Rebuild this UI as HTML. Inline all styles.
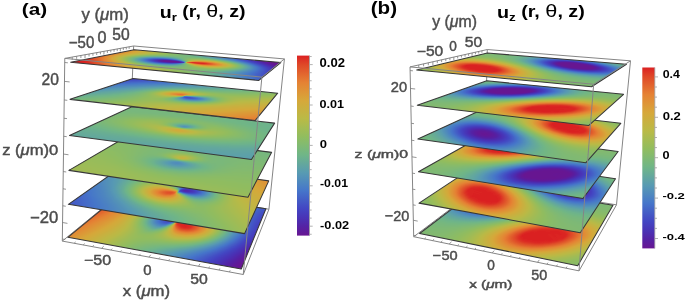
<!DOCTYPE html><html><head><meta charset="utf-8"><style>
html,body{margin:0;padding:0;background:#fff}
body{width:685px;height:302px;overflow:hidden;position:relative}
.o{position:absolute;left:0;top:0;overflow:visible}
.s{position:absolute;left:0;top:0;width:200px;height:100px;transform-origin:0 0}
.s svg{display:block}
.t{position:absolute;white-space:nowrap;font-family:"Liberation Sans",sans-serif}
</style></head><body>
<svg width="0" height="0" style="position:absolute"><defs><filter id="cm" filterUnits="userSpaceOnUse" x="0" y="-20" width="200" height="140" color-interpolation-filters="sRGB"><feGaussianBlur stdDeviation="0 2.40"/><feComponentTransfer><feFuncR type="table" tableValues="0.4078 0.3833 0.3588 0.3375 0.3204 0.3032 0.2885 0.2813 0.2742 0.2670 0.2635 0.2653 0.2672 0.2690 0.2708 0.2727 0.2745 0.2855 0.2966 0.3076 0.3186 0.3297 0.3407 0.3539 0.3686 0.3833 0.3980 0.4127 0.4275 0.4433 0.4635 0.4837 0.5039 0.5241 0.5444 0.5646 0.5887 0.6138 0.6390 0.6641 0.6892 0.7143 0.7363 0.7534 0.7706 0.7877 0.8049 0.8221 0.8392 0.8484 0.8576 0.8668 0.8760 0.8852 0.8944 0.8958 0.8922 0.8885 0.8848 0.8811 0.8775 0.8735 0.8686 0.8637 0.8588"/><feFuncG type="table" tableValues="0.0863 0.0985 0.1108 0.1274 0.1494 0.1715 0.1936 0.2161 0.2386 0.2610 0.2863 0.3157 0.3451 0.3745 0.4039 0.4333 0.4627 0.4854 0.5081 0.5308 0.5534 0.5761 0.5988 0.6178 0.6343 0.6509 0.6674 0.6839 0.7005 0.7146 0.7189 0.7232 0.7275 0.7317 0.7360 0.7403 0.7397 0.7379 0.7360 0.7342 0.7324 0.7305 0.7250 0.7140 0.7029 0.6919 0.6809 0.6699 0.6588 0.6355 0.6123 0.5890 0.5657 0.5424 0.5191 0.4885 0.4529 0.4174 0.3819 0.3463 0.3108 0.2728 0.2250 0.1772 0.1294"/><feFuncB type="table" tableValues="0.5725 0.5940 0.6154 0.6382 0.6627 0.6873 0.7096 0.7249 0.7402 0.7555 0.7664 0.7707 0.7750 0.7793 0.7836 0.7879 0.7922 0.7775 0.7627 0.7480 0.7333 0.7186 0.7039 0.6822 0.6559 0.6295 0.6032 0.5768 0.5505 0.5245 0.5000 0.4755 0.4510 0.4265 0.4020 0.3775 0.3603 0.3450 0.3297 0.3143 0.2990 0.2837 0.2716 0.2642 0.2569 0.2495 0.2422 0.2348 0.2275 0.2238 0.2201 0.2164 0.2127 0.2091 0.2054 0.1995 0.1922 0.1848 0.1775 0.1701 0.1627 0.1554 0.1480 0.1407 0.1333"/></feComponentTransfer></filter><linearGradient id="cbg" x1="0" y1="0" x2="0" y2="1"><stop offset="0.000" stop-color="#db2122"/><stop offset="0.050" stop-color="#df4828"/><stop offset="0.100" stop-color="#e2652e"/><stop offset="0.150" stop-color="#e58234"/><stop offset="0.200" stop-color="#de9537"/><stop offset="0.250" stop-color="#d6a83a"/><stop offset="0.300" stop-color="#c8b140"/><stop offset="0.350" stop-color="#baba46"/><stop offset="0.400" stop-color="#a5bc53"/><stop offset="0.450" stop-color="#91bd5f"/><stop offset="0.500" stop-color="#80ba73"/><stop offset="0.550" stop-color="#70b687"/><stop offset="0.600" stop-color="#64a89c"/><stop offset="0.650" stop-color="#589bb2"/><stop offset="0.700" stop-color="#4f89be"/><stop offset="0.750" stop-color="#4676ca"/><stop offset="0.800" stop-color="#445ec6"/><stop offset="0.850" stop-color="#4346c3"/><stop offset="0.900" stop-color="#4934b6"/><stop offset="0.950" stop-color="#5522a4"/><stop offset="1.000" stop-color="#681692"/></linearGradient><linearGradient id="a5_0"><stop offset="0" stop-color="#d1d1d1"/><stop offset="0.3" stop-color="#919191"/><stop offset="0.583" stop-color="#5a5a5a"/><stop offset="0.967" stop-color="#020202"/><stop offset="1" stop-color="#000000"/></linearGradient><linearGradient id="a5_1"><stop offset="0" stop-color="#d1d1d1"/><stop offset="0.3" stop-color="#919191"/><stop offset="0.583" stop-color="#5a5a5a"/><stop offset="0.967" stop-color="#020202"/><stop offset="1" stop-color="#000000"/></linearGradient><linearGradient id="a5_2"><stop offset="0" stop-color="#d1d1d1"/><stop offset="0.3" stop-color="#919191"/><stop offset="0.583" stop-color="#5a5a5a"/><stop offset="0.967" stop-color="#020202"/><stop offset="1" stop-color="#000000"/></linearGradient><linearGradient id="a5_3"><stop offset="0" stop-color="#d2d2d2"/><stop offset="0.242" stop-color="#9e9e9e"/><stop offset="0.558" stop-color="#626262"/><stop offset="0.642" stop-color="#505050"/><stop offset="0.958" stop-color="#050505"/><stop offset="0.983" stop-color="#000000"/><stop offset="1" stop-color="#000000"/></linearGradient><linearGradient id="a5_4"><stop offset="0" stop-color="#d4d4d4"/><stop offset="0.275" stop-color="#999999"/><stop offset="0.375" stop-color="#878787"/><stop offset="0.508" stop-color="#727272"/><stop offset="0.592" stop-color="#626262"/><stop offset="0.725" stop-color="#424242"/><stop offset="0.925" stop-color="#0f0f0f"/><stop offset="0.992" stop-color="#000000"/><stop offset="1" stop-color="#000000"/></linearGradient><linearGradient id="a5_5"><stop offset="0" stop-color="#d6d6d6"/><stop offset="0.283" stop-color="#999999"/><stop offset="0.383" stop-color="#898989"/><stop offset="0.492" stop-color="#7c7c7c"/><stop offset="0.592" stop-color="#6b6b6b"/><stop offset="0.683" stop-color="#555555"/><stop offset="0.867" stop-color="#212121"/><stop offset="1" stop-color="#010101"/></linearGradient><linearGradient id="a5_6"><stop offset="0" stop-color="#d8d8d8"/><stop offset="0.325" stop-color="#939393"/><stop offset="0.383" stop-color="#8c8c8c"/><stop offset="0.533" stop-color="#808080"/><stop offset="0.592" stop-color="#777777"/><stop offset="0.667" stop-color="#656565"/><stop offset="0.867" stop-color="#262626"/><stop offset="1" stop-color="#030303"/></linearGradient><linearGradient id="a5_7"><stop offset="0" stop-color="#dadada"/><stop offset="0.167" stop-color="#b7b7b7"/><stop offset="0.325" stop-color="#939393"/><stop offset="0.392" stop-color="#8d8d8d"/><stop offset="0.525" stop-color="#8c8c8c"/><stop offset="0.567" stop-color="#898989"/><stop offset="0.608" stop-color="#828282"/><stop offset="0.65" stop-color="#787878"/><stop offset="0.692" stop-color="#6b6b6b"/><stop offset="0.875" stop-color="#292929"/><stop offset="0.942" stop-color="#151515"/><stop offset="1" stop-color="#060606"/></linearGradient><linearGradient id="a5_8"><stop offset="0" stop-color="#dcdcdc"/><stop offset="0.175" stop-color="#b7b7b7"/><stop offset="0.35" stop-color="#8d8d8d"/><stop offset="0.4" stop-color="#8c8c8c"/><stop offset="0.433" stop-color="#8e8e8e"/><stop offset="0.508" stop-color="#979797"/><stop offset="0.542" stop-color="#999999"/><stop offset="0.575" stop-color="#989898"/><stop offset="0.608" stop-color="#939393"/><stop offset="0.65" stop-color="#898989"/><stop offset="0.683" stop-color="#7e7e7e"/><stop offset="0.842" stop-color="#3c3c3c"/><stop offset="0.917" stop-color="#212121"/><stop offset="1" stop-color="#090909"/></linearGradient><linearGradient id="a5_9"><stop offset="0" stop-color="#dedede"/><stop offset="0.133" stop-color="#c2c2c2"/><stop offset="0.267" stop-color="#a2a2a2"/><stop offset="0.367" stop-color="#858585"/><stop offset="0.375" stop-color="#848484"/><stop offset="0.417" stop-color="#888888"/><stop offset="0.542" stop-color="#a8a8a8"/><stop offset="0.567" stop-color="#ababab"/><stop offset="0.617" stop-color="#a5a5a5"/><stop offset="0.65" stop-color="#9c9c9c"/><stop offset="0.7" stop-color="#898989"/><stop offset="0.842" stop-color="#454545"/><stop offset="0.883" stop-color="#333333"/><stop offset="0.95" stop-color="#1b1b1b"/><stop offset="1" stop-color="#0c0c0c"/></linearGradient><linearGradient id="a5_10"><stop offset="0" stop-color="#e0e0e0"/><stop offset="0.192" stop-color="#b6b6b6"/><stop offset="0.258" stop-color="#a3a3a3"/><stop offset="0.35" stop-color="#838383"/><stop offset="0.392" stop-color="#777777"/><stop offset="0.417" stop-color="#7c7c7c"/><stop offset="0.45" stop-color="#898989"/><stop offset="0.508" stop-color="#a9a9a9"/><stop offset="0.533" stop-color="#b5b5b5"/><stop offset="0.55" stop-color="#bbbbbb"/><stop offset="0.567" stop-color="#bebebe"/><stop offset="0.583" stop-color="#bebebe"/><stop offset="0.617" stop-color="#bababa"/><stop offset="0.633" stop-color="#b6b6b6"/><stop offset="0.683" stop-color="#a3a3a3"/><stop offset="0.708" stop-color="#979797"/><stop offset="0.817" stop-color="#5b5b5b"/><stop offset="0.883" stop-color="#3a3a3a"/><stop offset="0.925" stop-color="#292929"/><stop offset="0.975" stop-color="#171717"/><stop offset="1" stop-color="#101010"/></linearGradient><linearGradient id="a5_11"><stop offset="0" stop-color="#e2e2e2"/><stop offset="0.0917" stop-color="#cfcfcf"/><stop offset="0.183" stop-color="#b9b9b9"/><stop offset="0.217" stop-color="#afafaf"/><stop offset="0.275" stop-color="#9a9a9a"/><stop offset="0.358" stop-color="#767676"/><stop offset="0.408" stop-color="#666666"/><stop offset="0.417" stop-color="#666666"/><stop offset="0.425" stop-color="#6a6a6a"/><stop offset="0.45" stop-color="#7b7b7b"/><stop offset="0.467" stop-color="#898989"/><stop offset="0.508" stop-color="#b1b1b1"/><stop offset="0.542" stop-color="#cccccc"/><stop offset="0.558" stop-color="#d1d1d1"/><stop offset="0.575" stop-color="#d3d3d3"/><stop offset="0.608" stop-color="#d1d1d1"/><stop offset="0.65" stop-color="#c5c5c5"/><stop offset="0.692" stop-color="#b1b1b1"/><stop offset="0.742" stop-color="#949494"/><stop offset="0.817" stop-color="#656565"/><stop offset="0.875" stop-color="#454545"/><stop offset="0.942" stop-color="#272727"/><stop offset="1" stop-color="#131313"/></linearGradient><linearGradient id="a5_12"><stop offset="0" stop-color="#e4e4e4"/><stop offset="0.0917" stop-color="#d1d1d1"/><stop offset="0.192" stop-color="#b7b7b7"/><stop offset="0.25" stop-color="#a1a1a1"/><stop offset="0.292" stop-color="#8d8d8d"/><stop offset="0.35" stop-color="#6d6d6d"/><stop offset="0.383" stop-color="#5e5e5e"/><stop offset="0.408" stop-color="#565656"/><stop offset="0.433" stop-color="#535353"/><stop offset="0.442" stop-color="#585858"/><stop offset="0.458" stop-color="#6c6c6c"/><stop offset="0.475" stop-color="#848484"/><stop offset="0.508" stop-color="#b9b9b9"/><stop offset="0.525" stop-color="#d1d1d1"/><stop offset="0.533" stop-color="#dbdbdb"/><stop offset="0.55" stop-color="#e3e3e3"/><stop offset="0.567" stop-color="#e8e8e8"/><stop offset="0.6" stop-color="#e8e8e8"/><stop offset="0.617" stop-color="#e4e4e4"/><stop offset="0.642" stop-color="#dbdbdb"/><stop offset="0.667" stop-color="#cfcfcf"/><stop offset="0.717" stop-color="#b1b1b1"/><stop offset="0.808" stop-color="#737373"/><stop offset="0.883" stop-color="#474747"/><stop offset="0.908" stop-color="#3a3a3a"/><stop offset="0.95" stop-color="#282828"/><stop offset="1" stop-color="#161616"/></linearGradient><linearGradient id="a5_13"><stop offset="0" stop-color="#e7e7e7"/><stop offset="0.125" stop-color="#cbcbcb"/><stop offset="0.175" stop-color="#bdbdbd"/><stop offset="0.217" stop-color="#aeaeae"/><stop offset="0.275" stop-color="#919191"/><stop offset="0.375" stop-color="#535353"/><stop offset="0.4" stop-color="#474747"/><stop offset="0.417" stop-color="#424242"/><stop offset="0.442" stop-color="#404040"/><stop offset="0.458" stop-color="#464646"/><stop offset="0.467" stop-color="#575757"/><stop offset="0.483" stop-color="#808080"/><stop offset="0.5" stop-color="#aeaeae"/><stop offset="0.517" stop-color="#d9d9d9"/><stop offset="0.525" stop-color="#e8e8e8"/><stop offset="0.542" stop-color="#f6f6f6"/><stop offset="0.55" stop-color="#fafafa"/><stop offset="0.558" stop-color="#fdfdfd"/><stop offset="0.575" stop-color="#ffffff"/><stop offset="0.583" stop-color="#fefefe"/><stop offset="0.608" stop-color="#f8f8f8"/><stop offset="0.658" stop-color="#e0e0e0"/><stop offset="0.708" stop-color="#c0c0c0"/><stop offset="0.817" stop-color="#747474"/><stop offset="0.875" stop-color="#505050"/><stop offset="0.917" stop-color="#3a3a3a"/><stop offset="0.958" stop-color="#282828"/><stop offset="1" stop-color="#191919"/></linearGradient><linearGradient id="a5_14"><stop offset="0" stop-color="#e9e9e9"/><stop offset="0.15" stop-color="#c6c6c6"/><stop offset="0.208" stop-color="#b2b2b2"/><stop offset="0.242" stop-color="#a2a2a2"/><stop offset="0.275" stop-color="#8f8f8f"/><stop offset="0.392" stop-color="#3f3f3f"/><stop offset="0.433" stop-color="#2d2d2d"/><stop offset="0.45" stop-color="#2b2b2b"/><stop offset="0.458" stop-color="#2c2c2c"/><stop offset="0.475" stop-color="#363636"/><stop offset="0.483" stop-color="#505050"/><stop offset="0.492" stop-color="#7e7e7e"/><stop offset="0.5" stop-color="#b0b0b0"/><stop offset="0.508" stop-color="#dfdfdf"/><stop offset="0.517" stop-color="#f9f9f9"/><stop offset="0.525" stop-color="#ffffff"/><stop offset="0.608" stop-color="#ffffff"/><stop offset="0.633" stop-color="#f2f2f2"/><stop offset="0.675" stop-color="#d9d9d9"/><stop offset="0.817" stop-color="#777777"/><stop offset="0.875" stop-color="#535353"/><stop offset="0.933" stop-color="#353535"/><stop offset="1" stop-color="#1b1b1b"/></linearGradient><linearGradient id="a5_15"><stop offset="0" stop-color="#ebebeb"/><stop offset="0.108" stop-color="#d3d3d3"/><stop offset="0.15" stop-color="#c8c8c8"/><stop offset="0.217" stop-color="#b0b0b0"/><stop offset="0.242" stop-color="#a4a4a4"/><stop offset="0.283" stop-color="#8b8b8b"/><stop offset="0.35" stop-color="#5c5c5c"/><stop offset="0.4" stop-color="#3c3c3c"/><stop offset="0.433" stop-color="#2c2c2c"/><stop offset="0.467" stop-color="#202020"/><stop offset="0.492" stop-color="#1a1a1a"/><stop offset="0.5" stop-color="#808080"/><stop offset="0.508" stop-color="#ffffff"/><stop offset="0.575" stop-color="#fefefe"/><stop offset="0.625" stop-color="#ebebeb"/><stop offset="0.683" stop-color="#cdcdcd"/><stop offset="0.733" stop-color="#aeaeae"/><stop offset="0.842" stop-color="#676767"/><stop offset="0.892" stop-color="#4b4b4b"/><stop offset="0.942" stop-color="#333333"/><stop offset="1" stop-color="#1d1d1d"/></linearGradient><linearGradient id="a5_16"><stop offset="0" stop-color="#ededed"/><stop offset="0.125" stop-color="#d1d1d1"/><stop offset="0.158" stop-color="#c8c8c8"/><stop offset="0.2" stop-color="#bababa"/><stop offset="0.233" stop-color="#acacac"/><stop offset="0.275" stop-color="#969696"/><stop offset="0.367" stop-color="#5e5e5e"/><stop offset="0.4" stop-color="#505050"/><stop offset="0.425" stop-color="#4b4b4b"/><stop offset="0.442" stop-color="#4d4d4d"/><stop offset="0.458" stop-color="#555555"/><stop offset="0.467" stop-color="#5d5d5d"/><stop offset="0.475" stop-color="#686868"/><stop offset="0.483" stop-color="#777777"/><stop offset="0.492" stop-color="#838383"/><stop offset="0.517" stop-color="#7e7e7e"/><stop offset="0.525" stop-color="#888888"/><stop offset="0.533" stop-color="#9c9c9c"/><stop offset="0.542" stop-color="#acacac"/><stop offset="0.558" stop-color="#c0c0c0"/><stop offset="0.567" stop-color="#c6c6c6"/><stop offset="0.575" stop-color="#cbcbcb"/><stop offset="0.592" stop-color="#d0d0d0"/><stop offset="0.608" stop-color="#d1d1d1"/><stop offset="0.633" stop-color="#cecece"/><stop offset="0.65" stop-color="#cacaca"/><stop offset="0.692" stop-color="#bababa"/><stop offset="0.742" stop-color="#a0a0a0"/><stop offset="0.842" stop-color="#656565"/><stop offset="0.875" stop-color="#535353"/><stop offset="0.925" stop-color="#3b3b3b"/><stop offset="0.958" stop-color="#2d2d2d"/><stop offset="1" stop-color="#1f1f1f"/></linearGradient><linearGradient id="a5_17"><stop offset="0" stop-color="#efefef"/><stop offset="0.0833" stop-color="#dddddd"/><stop offset="0.183" stop-color="#c3c3c3"/><stop offset="0.233" stop-color="#b1b1b1"/><stop offset="0.258" stop-color="#a6a6a6"/><stop offset="0.35" stop-color="#787878"/><stop offset="0.375" stop-color="#6f6f6f"/><stop offset="0.408" stop-color="#696969"/><stop offset="0.425" stop-color="#6a6a6a"/><stop offset="0.442" stop-color="#6f6f6f"/><stop offset="0.458" stop-color="#787878"/><stop offset="0.475" stop-color="#858585"/><stop offset="0.483" stop-color="#878787"/><stop offset="0.542" stop-color="#7b7b7b"/><stop offset="0.558" stop-color="#8d8d8d"/><stop offset="0.575" stop-color="#9c9c9c"/><stop offset="0.583" stop-color="#a2a2a2"/><stop offset="0.6" stop-color="#aaaaaa"/><stop offset="0.625" stop-color="#b0b0b0"/><stop offset="0.667" stop-color="#aeaeae"/><stop offset="0.7" stop-color="#a5a5a5"/><stop offset="0.742" stop-color="#949494"/><stop offset="0.9" stop-color="#454545"/><stop offset="0.933" stop-color="#373737"/><stop offset="1" stop-color="#202020"/></linearGradient><linearGradient id="a5_18"><stop offset="0" stop-color="#f1f1f1"/><stop offset="0.175" stop-color="#c9c9c9"/><stop offset="0.208" stop-color="#bfbfbf"/><stop offset="0.267" stop-color="#aaaaaa"/><stop offset="0.35" stop-color="#898989"/><stop offset="0.383" stop-color="#818181"/><stop offset="0.4" stop-color="#7f7f7f"/><stop offset="0.433" stop-color="#818181"/><stop offset="0.467" stop-color="#8c8c8c"/><stop offset="0.558" stop-color="#797979"/><stop offset="0.567" stop-color="#7a7a7a"/><stop offset="0.583" stop-color="#858585"/><stop offset="0.6" stop-color="#8d8d8d"/><stop offset="0.633" stop-color="#979797"/><stop offset="0.667" stop-color="#989898"/><stop offset="0.692" stop-color="#959595"/><stop offset="0.717" stop-color="#8f8f8f"/><stop offset="0.75" stop-color="#848484"/><stop offset="0.9" stop-color="#434343"/><stop offset="0.975" stop-color="#282828"/><stop offset="1" stop-color="#212121"/></linearGradient><linearGradient id="a5_19"><stop offset="0" stop-color="#f3f3f3"/><stop offset="0.183" stop-color="#cacaca"/><stop offset="0.233" stop-color="#bcbcbc"/><stop offset="0.342" stop-color="#999999"/><stop offset="0.383" stop-color="#909090"/><stop offset="0.433" stop-color="#8e8e8e"/><stop offset="0.458" stop-color="#919191"/><stop offset="0.583" stop-color="#767676"/><stop offset="0.608" stop-color="#7e7e7e"/><stop offset="0.633" stop-color="#848484"/><stop offset="0.65" stop-color="#868686"/><stop offset="0.692" stop-color="#858585"/><stop offset="0.725" stop-color="#7f7f7f"/><stop offset="0.767" stop-color="#737373"/><stop offset="0.917" stop-color="#3b3b3b"/><stop offset="1" stop-color="#212121"/></linearGradient><linearGradient id="a5_20"><stop offset="0" stop-color="#f5f5f5"/><stop offset="0.117" stop-color="#dcdcdc"/><stop offset="0.25" stop-color="#bcbcbc"/><stop offset="0.325" stop-color="#a7a7a7"/><stop offset="0.375" stop-color="#9c9c9c"/><stop offset="0.4" stop-color="#989898"/><stop offset="0.458" stop-color="#939393"/><stop offset="0.608" stop-color="#737373"/><stop offset="0.633" stop-color="#787878"/><stop offset="0.667" stop-color="#7a7a7a"/><stop offset="0.725" stop-color="#747474"/><stop offset="0.775" stop-color="#686868"/><stop offset="0.942" stop-color="#323232"/><stop offset="1" stop-color="#222222"/></linearGradient><linearGradient id="a5_21"><stop offset="0" stop-color="#f7f7f7"/><stop offset="0.15" stop-color="#d7d7d7"/><stop offset="0.358" stop-color="#a6a6a6"/><stop offset="0.433" stop-color="#9a9a9a"/><stop offset="0.625" stop-color="#717171"/><stop offset="0.683" stop-color="#717171"/><stop offset="0.742" stop-color="#696969"/><stop offset="0.8" stop-color="#5b5b5b"/><stop offset="0.892" stop-color="#404040"/><stop offset="1" stop-color="#232323"/></linearGradient><linearGradient id="a5_22"><stop offset="0" stop-color="#f9f9f9"/><stop offset="0.35" stop-color="#acacac"/><stop offset="0.425" stop-color="#9e9e9e"/><stop offset="0.642" stop-color="#6f6f6f"/><stop offset="0.675" stop-color="#6d6d6d"/><stop offset="0.725" stop-color="#676767"/><stop offset="0.767" stop-color="#5f5f5f"/><stop offset="1" stop-color="#242424"/></linearGradient><linearGradient id="a5_23"><stop offset="0" stop-color="#fbfbfb"/><stop offset="0.642" stop-color="#717171"/><stop offset="0.775" stop-color="#5b5b5b"/><stop offset="1" stop-color="#262626"/></linearGradient><linearGradient id="a5_24"><stop offset="0" stop-color="#fdfdfd"/><stop offset="0.675" stop-color="#6c6c6c"/><stop offset="0.8" stop-color="#555555"/><stop offset="1" stop-color="#272727"/></linearGradient><linearGradient id="a5_25"><stop offset="0" stop-color="#ffffff"/><stop offset="0.675" stop-color="#6e6e6e"/><stop offset="0.817" stop-color="#525252"/><stop offset="1" stop-color="#292929"/></linearGradient><linearGradient id="a5_26"><stop offset="0" stop-color="#ffffff"/><stop offset="0.00833" stop-color="#ffffff"/><stop offset="0.0583" stop-color="#f5f5f5"/><stop offset="1" stop-color="#2b2b2b"/></linearGradient><linearGradient id="a5_27"><stop offset="0" stop-color="#ffffff"/><stop offset="0.025" stop-color="#fefefe"/><stop offset="1" stop-color="#2d2d2d"/></linearGradient><linearGradient id="a5_28"><stop offset="0" stop-color="#ffffff"/><stop offset="0.025" stop-color="#ffffff"/><stop offset="1" stop-color="#2e2e2e"/></linearGradient><linearGradient id="a5_29"><stop offset="0" stop-color="#ffffff"/><stop offset="0.025" stop-color="#ffffff"/><stop offset="1" stop-color="#2e2e2e"/></linearGradient><linearGradient id="a5_30"><stop offset="0" stop-color="#ffffff"/><stop offset="0.025" stop-color="#ffffff"/><stop offset="1" stop-color="#2e2e2e"/></linearGradient><linearGradient id="a4_0"><stop offset="0" stop-color="#2e2e2e"/><stop offset="1" stop-color="#949494"/></linearGradient><linearGradient id="a4_1"><stop offset="0" stop-color="#2e2e2e"/><stop offset="1" stop-color="#949494"/></linearGradient><linearGradient id="a4_2"><stop offset="0" stop-color="#2e2e2e"/><stop offset="1" stop-color="#949494"/></linearGradient><linearGradient id="a4_3"><stop offset="0" stop-color="#2f2f2f"/><stop offset="0.483" stop-color="#626262"/><stop offset="1" stop-color="#959595"/></linearGradient><linearGradient id="a4_4"><stop offset="0" stop-color="#323232"/><stop offset="0.2" stop-color="#464646"/><stop offset="0.475" stop-color="#656565"/><stop offset="0.75" stop-color="#7e7e7e"/><stop offset="1" stop-color="#989898"/></linearGradient><linearGradient id="a4_5"><stop offset="0" stop-color="#343434"/><stop offset="0.183" stop-color="#474747"/><stop offset="0.442" stop-color="#676767"/><stop offset="0.742" stop-color="#808080"/><stop offset="1" stop-color="#9a9a9a"/></linearGradient><linearGradient id="a4_6"><stop offset="0" stop-color="#373737"/><stop offset="0.0667" stop-color="#3d3d3d"/><stop offset="0.25" stop-color="#535353"/><stop offset="0.367" stop-color="#656565"/><stop offset="0.467" stop-color="#717171"/><stop offset="0.767" stop-color="#858585"/><stop offset="1" stop-color="#9d9d9d"/></linearGradient><linearGradient id="a4_7"><stop offset="0" stop-color="#393939"/><stop offset="0.183" stop-color="#4e4e4e"/><stop offset="0.242" stop-color="#575757"/><stop offset="0.383" stop-color="#717171"/><stop offset="0.442" stop-color="#797979"/><stop offset="0.508" stop-color="#7e7e7e"/><stop offset="0.625" stop-color="#808080"/><stop offset="0.717" stop-color="#848484"/><stop offset="1" stop-color="#9f9f9f"/></linearGradient><linearGradient id="a4_8"><stop offset="0" stop-color="#3c3c3c"/><stop offset="0.175" stop-color="#515151"/><stop offset="0.267" stop-color="#636363"/><stop offset="0.358" stop-color="#797979"/><stop offset="0.442" stop-color="#878787"/><stop offset="0.492" stop-color="#8a8a8a"/><stop offset="0.625" stop-color="#868686"/><stop offset="0.742" stop-color="#888888"/><stop offset="1" stop-color="#a1a1a1"/></linearGradient><linearGradient id="a4_9"><stop offset="0" stop-color="#3e3e3e"/><stop offset="0.117" stop-color="#4c4c4c"/><stop offset="0.175" stop-color="#565656"/><stop offset="0.25" stop-color="#686868"/><stop offset="0.35" stop-color="#868686"/><stop offset="0.4" stop-color="#929292"/><stop offset="0.45" stop-color="#999999"/><stop offset="0.517" stop-color="#989898"/><stop offset="0.608" stop-color="#8d8d8d"/><stop offset="0.683" stop-color="#888888"/><stop offset="0.717" stop-color="#888888"/><stop offset="1" stop-color="#a4a4a4"/></linearGradient><linearGradient id="a4_10"><stop offset="0" stop-color="#414141"/><stop offset="0.1" stop-color="#4d4d4d"/><stop offset="0.15" stop-color="#565656"/><stop offset="0.2" stop-color="#626262"/><stop offset="0.233" stop-color="#6c6c6c"/><stop offset="0.367" stop-color="#9d9d9d"/><stop offset="0.4" stop-color="#a6a6a6"/><stop offset="0.442" stop-color="#acacac"/><stop offset="0.475" stop-color="#acacac"/><stop offset="0.508" stop-color="#a8a8a8"/><stop offset="0.592" stop-color="#959595"/><stop offset="0.675" stop-color="#878787"/><stop offset="0.725" stop-color="#898989"/><stop offset="0.825" stop-color="#959595"/><stop offset="1" stop-color="#a6a6a6"/></linearGradient><linearGradient id="a4_11"><stop offset="0" stop-color="#434343"/><stop offset="0.0917" stop-color="#4f4f4f"/><stop offset="0.167" stop-color="#5f5f5f"/><stop offset="0.233" stop-color="#757575"/><stop offset="0.367" stop-color="#b0b0b0"/><stop offset="0.4" stop-color="#bbbbbb"/><stop offset="0.425" stop-color="#c0c0c0"/><stop offset="0.458" stop-color="#c1c1c1"/><stop offset="0.5" stop-color="#b9b9b9"/><stop offset="0.575" stop-color="#9d9d9d"/><stop offset="0.617" stop-color="#909090"/><stop offset="0.625" stop-color="#8b8b8b"/><stop offset="0.642" stop-color="#858585"/><stop offset="0.667" stop-color="#838383"/><stop offset="0.692" stop-color="#848484"/><stop offset="0.8" stop-color="#939393"/><stop offset="1" stop-color="#a9a9a9"/></linearGradient><linearGradient id="a4_12"><stop offset="0" stop-color="#464646"/><stop offset="0.0833" stop-color="#515151"/><stop offset="0.125" stop-color="#595959"/><stop offset="0.167" stop-color="#646464"/><stop offset="0.233" stop-color="#7d7d7d"/><stop offset="0.375" stop-color="#c5c5c5"/><stop offset="0.408" stop-color="#d1d1d1"/><stop offset="0.442" stop-color="#d6d6d6"/><stop offset="0.458" stop-color="#d5d5d5"/><stop offset="0.492" stop-color="#cbcbcb"/><stop offset="0.567" stop-color="#9f9f9f"/><stop offset="0.583" stop-color="#979797"/><stop offset="0.608" stop-color="#828282"/><stop offset="0.625" stop-color="#7d7d7d"/><stop offset="0.642" stop-color="#7b7b7b"/><stop offset="0.683" stop-color="#7c7c7c"/><stop offset="0.842" stop-color="#9a9a9a"/><stop offset="1" stop-color="#ababab"/></linearGradient><linearGradient id="a4_13"><stop offset="0" stop-color="#484848"/><stop offset="0.1" stop-color="#575757"/><stop offset="0.175" stop-color="#6b6b6b"/><stop offset="0.208" stop-color="#787878"/><stop offset="0.258" stop-color="#909090"/><stop offset="0.35" stop-color="#c4c4c4"/><stop offset="0.4" stop-color="#dddddd"/><stop offset="0.417" stop-color="#e3e3e3"/><stop offset="0.45" stop-color="#e9e9e9"/><stop offset="0.475" stop-color="#e3e3e3"/><stop offset="0.5" stop-color="#d1d1d1"/><stop offset="0.558" stop-color="#969696"/><stop offset="0.567" stop-color="#888888"/><stop offset="0.575" stop-color="#7d7d7d"/><stop offset="0.592" stop-color="#737373"/><stop offset="0.608" stop-color="#6d6d6d"/><stop offset="0.633" stop-color="#6a6a6a"/><stop offset="0.675" stop-color="#6f6f6f"/><stop offset="0.7" stop-color="#757575"/><stop offset="0.767" stop-color="#8a8a8a"/><stop offset="0.825" stop-color="#989898"/><stop offset="0.858" stop-color="#9e9e9e"/><stop offset="1" stop-color="#aeaeae"/></linearGradient><linearGradient id="a4_14"><stop offset="0" stop-color="#4b4b4b"/><stop offset="0.0917" stop-color="#585858"/><stop offset="0.15" stop-color="#666666"/><stop offset="0.183" stop-color="#717171"/><stop offset="0.208" stop-color="#7b7b7b"/><stop offset="0.267" stop-color="#979797"/><stop offset="0.383" stop-color="#d8d8d8"/><stop offset="0.425" stop-color="#ececec"/><stop offset="0.442" stop-color="#f3f3f3"/><stop offset="0.467" stop-color="#f8f8f8"/><stop offset="0.475" stop-color="#f6f6f6"/><stop offset="0.483" stop-color="#f1f1f1"/><stop offset="0.492" stop-color="#e7e7e7"/><stop offset="0.5" stop-color="#d8d8d8"/><stop offset="0.525" stop-color="#a2a2a2"/><stop offset="0.533" stop-color="#878787"/><stop offset="0.542" stop-color="#747474"/><stop offset="0.558" stop-color="#606060"/><stop offset="0.567" stop-color="#5a5a5a"/><stop offset="0.575" stop-color="#555555"/><stop offset="0.592" stop-color="#505050"/><stop offset="0.625" stop-color="#505050"/><stop offset="0.658" stop-color="#595959"/><stop offset="0.767" stop-color="#878787"/><stop offset="0.8" stop-color="#929292"/><stop offset="0.85" stop-color="#9e9e9e"/><stop offset="1" stop-color="#b0b0b0"/></linearGradient><linearGradient id="a4_15"><stop offset="0" stop-color="#4d4d4d"/><stop offset="0.1" stop-color="#5c5c5c"/><stop offset="0.167" stop-color="#6d6d6d"/><stop offset="0.242" stop-color="#8a8a8a"/><stop offset="0.358" stop-color="#c1c1c1"/><stop offset="0.408" stop-color="#d3d3d3"/><stop offset="0.458" stop-color="#dfdfdf"/><stop offset="0.492" stop-color="#e3e3e3"/><stop offset="0.5" stop-color="#8f8f8f"/><stop offset="0.508" stop-color="#171717"/><stop offset="0.517" stop-color="#171717"/><stop offset="0.567" stop-color="#212121"/><stop offset="0.608" stop-color="#303030"/><stop offset="0.65" stop-color="#454545"/><stop offset="0.742" stop-color="#7a7a7a"/><stop offset="0.775" stop-color="#898989"/><stop offset="0.808" stop-color="#959595"/><stop offset="0.842" stop-color="#9e9e9e"/><stop offset="0.892" stop-color="#a7a7a7"/><stop offset="1" stop-color="#b3b3b3"/></linearGradient><linearGradient id="a4_16"><stop offset="0" stop-color="#505050"/><stop offset="0.0583" stop-color="#575757"/><stop offset="0.125" stop-color="#636363"/><stop offset="0.192" stop-color="#757575"/><stop offset="0.342" stop-color="#ababab"/><stop offset="0.383" stop-color="#b2b2b2"/><stop offset="0.408" stop-color="#b1b1b1"/><stop offset="0.425" stop-color="#adadad"/><stop offset="0.442" stop-color="#a4a4a4"/><stop offset="0.458" stop-color="#949494"/><stop offset="0.475" stop-color="#878787"/><stop offset="0.483" stop-color="#707070"/><stop offset="0.5" stop-color="#3d3d3d"/><stop offset="0.508" stop-color="#272727"/><stop offset="0.517" stop-color="#181818"/><stop offset="0.525" stop-color="#0e0e0e"/><stop offset="0.533" stop-color="#090909"/><stop offset="0.542" stop-color="#070707"/><stop offset="0.558" stop-color="#0a0a0a"/><stop offset="0.592" stop-color="#191919"/><stop offset="0.625" stop-color="#2d2d2d"/><stop offset="0.708" stop-color="#666666"/><stop offset="0.742" stop-color="#7a7a7a"/><stop offset="0.783" stop-color="#8e8e8e"/><stop offset="0.808" stop-color="#979797"/><stop offset="0.85" stop-color="#a2a2a2"/><stop offset="0.883" stop-color="#a8a8a8"/><stop offset="1" stop-color="#b5b5b5"/></linearGradient><linearGradient id="a4_17"><stop offset="0" stop-color="#525252"/><stop offset="0.0583" stop-color="#595959"/><stop offset="0.125" stop-color="#646464"/><stop offset="0.2" stop-color="#767676"/><stop offset="0.267" stop-color="#8a8a8a"/><stop offset="0.317" stop-color="#969696"/><stop offset="0.342" stop-color="#9a9a9a"/><stop offset="0.367" stop-color="#9b9b9b"/><stop offset="0.4" stop-color="#969696"/><stop offset="0.417" stop-color="#909090"/><stop offset="0.425" stop-color="#8b8b8b"/><stop offset="0.433" stop-color="#8a8a8a"/><stop offset="0.442" stop-color="#8c8c8c"/><stop offset="0.45" stop-color="#868686"/><stop offset="0.467" stop-color="#727272"/><stop offset="0.492" stop-color="#4f4f4f"/><stop offset="0.508" stop-color="#393939"/><stop offset="0.517" stop-color="#303030"/><stop offset="0.533" stop-color="#232323"/><stop offset="0.55" stop-color="#1d1d1d"/><stop offset="0.558" stop-color="#1c1c1c"/><stop offset="0.583" stop-color="#202020"/><stop offset="0.617" stop-color="#2f2f2f"/><stop offset="0.733" stop-color="#7a7a7a"/><stop offset="0.758" stop-color="#878787"/><stop offset="0.792" stop-color="#959595"/><stop offset="0.817" stop-color="#9d9d9d"/><stop offset="0.867" stop-color="#a8a8a8"/><stop offset="1" stop-color="#b8b8b8"/></linearGradient><linearGradient id="a4_18"><stop offset="0" stop-color="#545454"/><stop offset="0.125" stop-color="#656565"/><stop offset="0.3" stop-color="#898989"/><stop offset="0.333" stop-color="#8c8c8c"/><stop offset="0.35" stop-color="#8c8c8c"/><stop offset="0.392" stop-color="#868686"/><stop offset="0.417" stop-color="#898989"/><stop offset="0.442" stop-color="#7b7b7b"/><stop offset="0.492" stop-color="#545454"/><stop offset="0.517" stop-color="#434343"/><stop offset="0.533" stop-color="#3b3b3b"/><stop offset="0.55" stop-color="#373737"/><stop offset="0.575" stop-color="#363636"/><stop offset="0.592" stop-color="#393939"/><stop offset="0.617" stop-color="#424242"/><stop offset="0.65" stop-color="#535353"/><stop offset="0.725" stop-color="#7e7e7e"/><stop offset="0.75" stop-color="#8a8a8a"/><stop offset="0.792" stop-color="#9a9a9a"/><stop offset="0.833" stop-color="#a5a5a5"/><stop offset="0.867" stop-color="#ababab"/><stop offset="1" stop-color="#bababa"/></linearGradient><linearGradient id="a4_19"><stop offset="0" stop-color="#575757"/><stop offset="0.125" stop-color="#666666"/><stop offset="0.267" stop-color="#7e7e7e"/><stop offset="0.325" stop-color="#838383"/><stop offset="0.358" stop-color="#828282"/><stop offset="0.383" stop-color="#868686"/><stop offset="0.408" stop-color="#828282"/><stop offset="0.433" stop-color="#797979"/><stop offset="0.492" stop-color="#5f5f5f"/><stop offset="0.517" stop-color="#565656"/><stop offset="0.533" stop-color="#525252"/><stop offset="0.567" stop-color="#4f4f4f"/><stop offset="0.583" stop-color="#515151"/><stop offset="0.608" stop-color="#575757"/><stop offset="0.642" stop-color="#636363"/><stop offset="0.725" stop-color="#898989"/><stop offset="0.775" stop-color="#9b9b9b"/><stop offset="0.825" stop-color="#a7a7a7"/><stop offset="0.858" stop-color="#adadad"/><stop offset="1" stop-color="#bcbcbc"/></linearGradient><linearGradient id="a4_20"><stop offset="0" stop-color="#595959"/><stop offset="0.108" stop-color="#656565"/><stop offset="0.267" stop-color="#7b7b7b"/><stop offset="0.317" stop-color="#7e7e7e"/><stop offset="0.358" stop-color="#838383"/><stop offset="0.375" stop-color="#838383"/><stop offset="0.417" stop-color="#7e7e7e"/><stop offset="0.508" stop-color="#6a6a6a"/><stop offset="0.533" stop-color="#676767"/><stop offset="0.567" stop-color="#676767"/><stop offset="0.617" stop-color="#707070"/><stop offset="0.725" stop-color="#949494"/><stop offset="0.8" stop-color="#a7a7a7"/><stop offset="0.85" stop-color="#afafaf"/><stop offset="1" stop-color="#bfbfbf"/></linearGradient><linearGradient id="a4_21"><stop offset="0" stop-color="#5b5b5b"/><stop offset="0.267" stop-color="#7a7a7a"/><stop offset="0.35" stop-color="#828282"/><stop offset="0.4" stop-color="#828282"/><stop offset="0.517" stop-color="#797979"/><stop offset="0.558" stop-color="#7a7a7a"/><stop offset="0.608" stop-color="#818181"/><stop offset="0.742" stop-color="#a1a1a1"/><stop offset="0.792" stop-color="#aaaaaa"/><stop offset="0.867" stop-color="#b4b4b4"/><stop offset="1" stop-color="#c1c1c1"/></linearGradient><linearGradient id="a4_22"><stop offset="0" stop-color="#5e5e5e"/><stop offset="0.333" stop-color="#828282"/><stop offset="0.392" stop-color="#858585"/><stop offset="0.517" stop-color="#868686"/><stop offset="0.558" stop-color="#898989"/><stop offset="0.6" stop-color="#8e8e8e"/><stop offset="0.742" stop-color="#a7a7a7"/><stop offset="0.792" stop-color="#aeaeae"/><stop offset="1" stop-color="#c4c4c4"/></linearGradient><linearGradient id="a4_23"><stop offset="0" stop-color="#606060"/><stop offset="0.317" stop-color="#828282"/><stop offset="0.558" stop-color="#939393"/><stop offset="0.808" stop-color="#b3b3b3"/><stop offset="1" stop-color="#c6c6c6"/></linearGradient><linearGradient id="a4_24"><stop offset="0" stop-color="#636363"/><stop offset="0.325" stop-color="#858585"/><stop offset="0.575" stop-color="#9b9b9b"/><stop offset="0.7" stop-color="#aaaaaa"/><stop offset="1" stop-color="#c9c9c9"/></linearGradient><linearGradient id="a4_25"><stop offset="0" stop-color="#656565"/><stop offset="1" stop-color="#cbcbcb"/></linearGradient><linearGradient id="a4_26"><stop offset="0" stop-color="#676767"/><stop offset="0.35" stop-color="#8c8c8c"/><stop offset="1" stop-color="#cdcdcd"/></linearGradient><linearGradient id="a4_27"><stop offset="0" stop-color="#6a6a6a"/><stop offset="1" stop-color="#d0d0d0"/></linearGradient><linearGradient id="a4_28"><stop offset="0" stop-color="#6b6b6b"/><stop offset="1" stop-color="#d1d1d1"/></linearGradient><linearGradient id="a4_29"><stop offset="0" stop-color="#6b6b6b"/><stop offset="1" stop-color="#d1d1d1"/></linearGradient><linearGradient id="a4_30"><stop offset="0" stop-color="#6b6b6b"/><stop offset="1" stop-color="#d1d1d1"/></linearGradient><linearGradient id="a3_0"><stop offset="0" stop-color="#989898"/><stop offset="1" stop-color="#909090"/></linearGradient><linearGradient id="a3_1"><stop offset="0" stop-color="#989898"/><stop offset="1" stop-color="#909090"/></linearGradient><linearGradient id="a3_2"><stop offset="0" stop-color="#989898"/><stop offset="1" stop-color="#909090"/></linearGradient><linearGradient id="a3_3"><stop offset="0" stop-color="#979797"/><stop offset="0.533" stop-color="#929292"/><stop offset="1" stop-color="#909090"/></linearGradient><linearGradient id="a3_4"><stop offset="0" stop-color="#969696"/><stop offset="0.467" stop-color="#919191"/><stop offset="1" stop-color="#8f8f8f"/></linearGradient><linearGradient id="a3_5"><stop offset="0" stop-color="#959595"/><stop offset="0.25" stop-color="#939393"/><stop offset="0.467" stop-color="#8f8f8f"/><stop offset="0.817" stop-color="#8f8f8f"/><stop offset="1" stop-color="#8d8d8d"/></linearGradient><linearGradient id="a3_6"><stop offset="0" stop-color="#949494"/><stop offset="0.217" stop-color="#929292"/><stop offset="0.483" stop-color="#8c8c8c"/><stop offset="1" stop-color="#8c8c8c"/></linearGradient><linearGradient id="a3_7"><stop offset="0" stop-color="#939393"/><stop offset="0.192" stop-color="#919191"/><stop offset="0.475" stop-color="#888888"/><stop offset="0.575" stop-color="#888888"/><stop offset="0.767" stop-color="#8c8c8c"/><stop offset="1" stop-color="#8b8b8b"/></linearGradient><linearGradient id="a3_8"><stop offset="0" stop-color="#929292"/><stop offset="0.208" stop-color="#8f8f8f"/><stop offset="0.475" stop-color="#828282"/><stop offset="0.55" stop-color="#828282"/><stop offset="0.767" stop-color="#8a8a8a"/><stop offset="1" stop-color="#8a8a8a"/></linearGradient><linearGradient id="a3_9"><stop offset="0" stop-color="#919191"/><stop offset="0.1" stop-color="#909090"/><stop offset="0.25" stop-color="#8b8b8b"/><stop offset="0.467" stop-color="#7a7a7a"/><stop offset="0.567" stop-color="#7b7b7b"/><stop offset="0.658" stop-color="#828282"/><stop offset="0.775" stop-color="#888888"/><stop offset="1" stop-color="#898989"/></linearGradient><linearGradient id="a3_10"><stop offset="0" stop-color="#909090"/><stop offset="0.125" stop-color="#8e8e8e"/><stop offset="0.225" stop-color="#8a8a8a"/><stop offset="0.308" stop-color="#838383"/><stop offset="0.45" stop-color="#717171"/><stop offset="0.483" stop-color="#6f6f6f"/><stop offset="0.558" stop-color="#717171"/><stop offset="0.692" stop-color="#808080"/><stop offset="0.758" stop-color="#858585"/><stop offset="0.85" stop-color="#888888"/><stop offset="1" stop-color="#888888"/></linearGradient><linearGradient id="a3_11"><stop offset="0" stop-color="#8f8f8f"/><stop offset="0.142" stop-color="#8c8c8c"/><stop offset="0.242" stop-color="#868686"/><stop offset="0.325" stop-color="#7c7c7c"/><stop offset="0.425" stop-color="#6a6a6a"/><stop offset="0.492" stop-color="#636363"/><stop offset="0.533" stop-color="#646464"/><stop offset="0.583" stop-color="#6a6a6a"/><stop offset="0.667" stop-color="#787878"/><stop offset="0.758" stop-color="#828282"/><stop offset="0.833" stop-color="#868686"/><stop offset="1" stop-color="#878787"/></linearGradient><linearGradient id="a3_12"><stop offset="0" stop-color="#8e8e8e"/><stop offset="0.133" stop-color="#8b8b8b"/><stop offset="0.217" stop-color="#868686"/><stop offset="0.3" stop-color="#7c7c7c"/><stop offset="0.358" stop-color="#717171"/><stop offset="0.433" stop-color="#606060"/><stop offset="0.467" stop-color="#5a5a5a"/><stop offset="0.492" stop-color="#585858"/><stop offset="0.517" stop-color="#585858"/><stop offset="0.55" stop-color="#5c5c5c"/><stop offset="0.675" stop-color="#757575"/><stop offset="0.75" stop-color="#7f7f7f"/><stop offset="0.858" stop-color="#858585"/><stop offset="1" stop-color="#868686"/></linearGradient><linearGradient id="a3_13"><stop offset="0" stop-color="#8d8d8d"/><stop offset="0.167" stop-color="#888888"/><stop offset="0.267" stop-color="#7f7f7f"/><stop offset="0.367" stop-color="#6d6d6d"/><stop offset="0.467" stop-color="#535353"/><stop offset="0.5" stop-color="#4f4f4f"/><stop offset="0.542" stop-color="#545454"/><stop offset="0.658" stop-color="#707070"/><stop offset="0.758" stop-color="#7e7e7e"/><stop offset="0.867" stop-color="#848484"/><stop offset="1" stop-color="#858585"/></linearGradient><linearGradient id="a3_14"><stop offset="0" stop-color="#8c8c8c"/><stop offset="0.142" stop-color="#888888"/><stop offset="0.208" stop-color="#848484"/><stop offset="0.3" stop-color="#7a7a7a"/><stop offset="0.383" stop-color="#6c6c6c"/><stop offset="0.425" stop-color="#626262"/><stop offset="0.483" stop-color="#4d4d4d"/><stop offset="0.5" stop-color="#4a4a4a"/><stop offset="0.508" stop-color="#4a4a4a"/><stop offset="0.558" stop-color="#5c5c5c"/><stop offset="0.592" stop-color="#656565"/><stop offset="0.65" stop-color="#707070"/><stop offset="0.717" stop-color="#797979"/><stop offset="0.783" stop-color="#7f7f7f"/><stop offset="0.842" stop-color="#828282"/><stop offset="1" stop-color="#848484"/></linearGradient><linearGradient id="a3_15"><stop offset="0" stop-color="#8b8b8b"/><stop offset="0.0917" stop-color="#898989"/><stop offset="0.225" stop-color="#828282"/><stop offset="0.375" stop-color="#747474"/><stop offset="0.467" stop-color="#6e6e6e"/><stop offset="0.575" stop-color="#6f6f6f"/><stop offset="0.733" stop-color="#7b7b7b"/><stop offset="0.842" stop-color="#818181"/><stop offset="1" stop-color="#838383"/></linearGradient><linearGradient id="a3_16"><stop offset="0" stop-color="#898989"/><stop offset="0.142" stop-color="#868686"/><stop offset="0.292" stop-color="#7d7d7d"/><stop offset="0.358" stop-color="#7e7e7e"/><stop offset="0.392" stop-color="#838383"/><stop offset="0.425" stop-color="#8d8d8d"/><stop offset="0.458" stop-color="#9f9f9f"/><stop offset="0.475" stop-color="#acacac"/><stop offset="0.492" stop-color="#b6b6b6"/><stop offset="0.5" stop-color="#b7b7b7"/><stop offset="0.508" stop-color="#b6b6b6"/><stop offset="0.55" stop-color="#999999"/><stop offset="0.575" stop-color="#8c8c8c"/><stop offset="0.592" stop-color="#868686"/><stop offset="0.625" stop-color="#7e7e7e"/><stop offset="0.65" stop-color="#7b7b7b"/><stop offset="0.717" stop-color="#7a7a7a"/><stop offset="0.875" stop-color="#818181"/><stop offset="1" stop-color="#828282"/></linearGradient><linearGradient id="a3_17"><stop offset="0" stop-color="#898989"/><stop offset="0.125" stop-color="#868686"/><stop offset="0.275" stop-color="#7e7e7e"/><stop offset="0.317" stop-color="#7e7e7e"/><stop offset="0.35" stop-color="#818181"/><stop offset="0.383" stop-color="#888888"/><stop offset="0.425" stop-color="#969696"/><stop offset="0.467" stop-color="#a8a8a8"/><stop offset="0.492" stop-color="#aeaeae"/><stop offset="0.508" stop-color="#aeaeae"/><stop offset="0.542" stop-color="#a4a4a4"/><stop offset="0.575" stop-color="#959595"/><stop offset="0.617" stop-color="#868686"/><stop offset="0.65" stop-color="#7f7f7f"/><stop offset="0.675" stop-color="#7c7c7c"/><stop offset="0.75" stop-color="#7b7b7b"/><stop offset="0.867" stop-color="#808080"/><stop offset="1" stop-color="#818181"/></linearGradient><linearGradient id="a3_18"><stop offset="0" stop-color="#888888"/><stop offset="0.133" stop-color="#858585"/><stop offset="0.275" stop-color="#7e7e7e"/><stop offset="0.317" stop-color="#7e7e7e"/><stop offset="0.367" stop-color="#838383"/><stop offset="0.392" stop-color="#888888"/><stop offset="0.467" stop-color="#9c9c9c"/><stop offset="0.508" stop-color="#9f9f9f"/><stop offset="0.525" stop-color="#9d9d9d"/><stop offset="0.55" stop-color="#979797"/><stop offset="0.633" stop-color="#818181"/><stop offset="0.675" stop-color="#7c7c7c"/><stop offset="0.75" stop-color="#7b7b7b"/><stop offset="0.85" stop-color="#7f7f7f"/><stop offset="1" stop-color="#808080"/></linearGradient><linearGradient id="a3_19"><stop offset="0" stop-color="#878787"/><stop offset="0.142" stop-color="#848484"/><stop offset="0.317" stop-color="#7d7d7d"/><stop offset="0.358" stop-color="#7f7f7f"/><stop offset="0.467" stop-color="#8d8d8d"/><stop offset="0.517" stop-color="#8e8e8e"/><stop offset="0.6" stop-color="#828282"/><stop offset="0.667" stop-color="#7b7b7b"/><stop offset="0.708" stop-color="#7a7a7a"/><stop offset="0.883" stop-color="#7f7f7f"/><stop offset="1" stop-color="#7f7f7f"/></linearGradient><linearGradient id="a3_20"><stop offset="0" stop-color="#868686"/><stop offset="0.125" stop-color="#848484"/><stop offset="0.3" stop-color="#7d7d7d"/><stop offset="0.383" stop-color="#7d7d7d"/><stop offset="0.475" stop-color="#828282"/><stop offset="0.517" stop-color="#828282"/><stop offset="0.65" stop-color="#7a7a7a"/><stop offset="0.858" stop-color="#7e7e7e"/><stop offset="1" stop-color="#7e7e7e"/></linearGradient><linearGradient id="a3_21"><stop offset="0" stop-color="#858585"/><stop offset="0.175" stop-color="#828282"/><stop offset="0.333" stop-color="#7c7c7c"/><stop offset="0.517" stop-color="#7c7c7c"/><stop offset="0.575" stop-color="#7a7a7a"/><stop offset="0.7" stop-color="#7a7a7a"/><stop offset="0.817" stop-color="#7d7d7d"/><stop offset="1" stop-color="#7d7d7d"/></linearGradient><linearGradient id="a3_22"><stop offset="0" stop-color="#848484"/><stop offset="0.158" stop-color="#828282"/><stop offset="0.458" stop-color="#7a7a7a"/><stop offset="1" stop-color="#7c7c7c"/></linearGradient><linearGradient id="a3_23"><stop offset="0" stop-color="#838383"/><stop offset="0.175" stop-color="#818181"/><stop offset="0.483" stop-color="#7a7a7a"/><stop offset="0.8" stop-color="#7c7c7c"/><stop offset="1" stop-color="#7b7b7b"/></linearGradient><linearGradient id="a3_24"><stop offset="0" stop-color="#828282"/><stop offset="0.442" stop-color="#7b7b7b"/><stop offset="1" stop-color="#7a7a7a"/></linearGradient><linearGradient id="a3_25"><stop offset="0" stop-color="#818181"/><stop offset="0.45" stop-color="#7b7b7b"/><stop offset="1" stop-color="#797979"/></linearGradient><linearGradient id="a3_26"><stop offset="0" stop-color="#808080"/><stop offset="0.542" stop-color="#7a7a7a"/><stop offset="1" stop-color="#787878"/></linearGradient><linearGradient id="a3_27"><stop offset="0" stop-color="#7f7f7f"/><stop offset="0.475" stop-color="#7a7a7a"/><stop offset="1" stop-color="#777777"/></linearGradient><linearGradient id="a3_28"><stop offset="0" stop-color="#7e7e7e"/><stop offset="1" stop-color="#777777"/></linearGradient><linearGradient id="a3_29"><stop offset="0" stop-color="#7e7e7e"/><stop offset="1" stop-color="#777777"/></linearGradient><linearGradient id="a3_30"><stop offset="0" stop-color="#7e7e7e"/><stop offset="1" stop-color="#777777"/></linearGradient><linearGradient id="a2_0"><stop offset="0" stop-color="#666666"/><stop offset="0.442" stop-color="#636363"/><stop offset="1" stop-color="#5c5c5c"/></linearGradient><linearGradient id="a2_1"><stop offset="0" stop-color="#666666"/><stop offset="0.442" stop-color="#636363"/><stop offset="1" stop-color="#5c5c5c"/></linearGradient><linearGradient id="a2_2"><stop offset="0" stop-color="#666666"/><stop offset="0.442" stop-color="#636363"/><stop offset="1" stop-color="#5c5c5c"/></linearGradient><linearGradient id="a2_3"><stop offset="0" stop-color="#676767"/><stop offset="1" stop-color="#5d5d5d"/></linearGradient><linearGradient id="a2_4"><stop offset="0" stop-color="#686868"/><stop offset="0.508" stop-color="#656565"/><stop offset="1" stop-color="#5e5e5e"/></linearGradient><linearGradient id="a2_5"><stop offset="0" stop-color="#696969"/><stop offset="0.475" stop-color="#686868"/><stop offset="1" stop-color="#5f5f5f"/></linearGradient><linearGradient id="a2_6"><stop offset="0" stop-color="#6b6b6b"/><stop offset="0.525" stop-color="#6b6b6b"/><stop offset="1" stop-color="#606060"/></linearGradient><linearGradient id="a2_7"><stop offset="0" stop-color="#6c6c6c"/><stop offset="0.325" stop-color="#707070"/><stop offset="0.5" stop-color="#707070"/><stop offset="0.692" stop-color="#6c6c6c"/><stop offset="1" stop-color="#626262"/></linearGradient><linearGradient id="a2_8"><stop offset="0" stop-color="#6e6e6e"/><stop offset="0.317" stop-color="#757575"/><stop offset="0.508" stop-color="#767676"/><stop offset="0.692" stop-color="#717171"/><stop offset="1" stop-color="#646464"/></linearGradient><linearGradient id="a2_9"><stop offset="0" stop-color="#717171"/><stop offset="0.383" stop-color="#7d7d7d"/><stop offset="0.525" stop-color="#7e7e7e"/><stop offset="1" stop-color="#676767"/></linearGradient><linearGradient id="a2_10"><stop offset="0" stop-color="#747474"/><stop offset="0.125" stop-color="#787878"/><stop offset="0.408" stop-color="#878787"/><stop offset="0.525" stop-color="#898989"/><stop offset="1" stop-color="#696969"/></linearGradient><linearGradient id="a2_11"><stop offset="0" stop-color="#767676"/><stop offset="0.275" stop-color="#868686"/><stop offset="0.458" stop-color="#979797"/><stop offset="0.517" stop-color="#989898"/><stop offset="0.708" stop-color="#838383"/><stop offset="0.908" stop-color="#727272"/><stop offset="1" stop-color="#6c6c6c"/></linearGradient><linearGradient id="a2_12"><stop offset="0" stop-color="#797979"/><stop offset="0.158" stop-color="#838383"/><stop offset="0.3" stop-color="#8f8f8f"/><stop offset="0.367" stop-color="#979797"/><stop offset="0.458" stop-color="#a7a7a7"/><stop offset="0.517" stop-color="#a9a9a9"/><stop offset="0.542" stop-color="#a6a6a6"/><stop offset="0.667" stop-color="#8f8f8f"/><stop offset="0.883" stop-color="#787878"/><stop offset="1" stop-color="#6f6f6f"/></linearGradient><linearGradient id="a2_13"><stop offset="0" stop-color="#7b7b7b"/><stop offset="0.158" stop-color="#878787"/><stop offset="0.333" stop-color="#999999"/><stop offset="0.375" stop-color="#a0a0a0"/><stop offset="0.467" stop-color="#b6b6b6"/><stop offset="0.508" stop-color="#b9b9b9"/><stop offset="0.525" stop-color="#b7b7b7"/><stop offset="0.642" stop-color="#9a9a9a"/><stop offset="0.683" stop-color="#939393"/><stop offset="0.833" stop-color="#818181"/><stop offset="1" stop-color="#717171"/></linearGradient><linearGradient id="a2_14"><stop offset="0" stop-color="#7d7d7d"/><stop offset="0.158" stop-color="#8a8a8a"/><stop offset="0.358" stop-color="#a0a0a0"/><stop offset="0.433" stop-color="#afafaf"/><stop offset="0.483" stop-color="#c1c1c1"/><stop offset="0.5" stop-color="#c3c3c3"/><stop offset="0.517" stop-color="#c0c0c0"/><stop offset="0.567" stop-color="#aeaeae"/><stop offset="0.625" stop-color="#a0a0a0"/><stop offset="0.783" stop-color="#8a8a8a"/><stop offset="1" stop-color="#737373"/></linearGradient><linearGradient id="a2_15"><stop offset="0" stop-color="#7e7e7e"/><stop offset="0.133" stop-color="#898989"/><stop offset="0.342" stop-color="#9e9e9e"/><stop offset="0.433" stop-color="#a3a3a3"/><stop offset="0.533" stop-color="#a3a3a3"/><stop offset="0.667" stop-color="#9a9a9a"/><stop offset="0.925" stop-color="#7b7b7b"/><stop offset="1" stop-color="#747474"/></linearGradient><linearGradient id="a2_16"><stop offset="0" stop-color="#7f7f7f"/><stop offset="0.075" stop-color="#848484"/><stop offset="0.275" stop-color="#979797"/><stop offset="0.342" stop-color="#979797"/><stop offset="0.383" stop-color="#909090"/><stop offset="0.408" stop-color="#888888"/><stop offset="0.425" stop-color="#808080"/><stop offset="0.442" stop-color="#767676"/><stop offset="0.492" stop-color="#4c4c4c"/><stop offset="0.5" stop-color="#4a4a4a"/><stop offset="0.508" stop-color="#4c4c4c"/><stop offset="0.517" stop-color="#515151"/><stop offset="0.542" stop-color="#686868"/><stop offset="0.567" stop-color="#7a7a7a"/><stop offset="0.6" stop-color="#898989"/><stop offset="0.633" stop-color="#919191"/><stop offset="0.65" stop-color="#939393"/><stop offset="0.7" stop-color="#949494"/><stop offset="0.742" stop-color="#919191"/><stop offset="0.908" stop-color="#7d7d7d"/><stop offset="1" stop-color="#757575"/></linearGradient><linearGradient id="a2_17"><stop offset="0" stop-color="#7f7f7f"/><stop offset="0.0583" stop-color="#828282"/><stop offset="0.25" stop-color="#939393"/><stop offset="0.317" stop-color="#949494"/><stop offset="0.35" stop-color="#909090"/><stop offset="0.375" stop-color="#8a8a8a"/><stop offset="0.417" stop-color="#797979"/><stop offset="0.45" stop-color="#666666"/><stop offset="0.475" stop-color="#5a5a5a"/><stop offset="0.492" stop-color="#555555"/><stop offset="0.508" stop-color="#555555"/><stop offset="0.533" stop-color="#5d5d5d"/><stop offset="0.575" stop-color="#737373"/><stop offset="0.617" stop-color="#858585"/><stop offset="0.65" stop-color="#8d8d8d"/><stop offset="0.675" stop-color="#909090"/><stop offset="0.75" stop-color="#8e8e8e"/><stop offset="0.892" stop-color="#7e7e7e"/><stop offset="1" stop-color="#747474"/></linearGradient><linearGradient id="a2_18"><stop offset="0" stop-color="#7e7e7e"/><stop offset="0.0917" stop-color="#838383"/><stop offset="0.225" stop-color="#8e8e8e"/><stop offset="0.275" stop-color="#919191"/><stop offset="0.317" stop-color="#919191"/><stop offset="0.342" stop-color="#8f8f8f"/><stop offset="0.375" stop-color="#898989"/><stop offset="0.408" stop-color="#7f7f7f"/><stop offset="0.458" stop-color="#6d6d6d"/><stop offset="0.475" stop-color="#696969"/><stop offset="0.5" stop-color="#666666"/><stop offset="0.517" stop-color="#676767"/><stop offset="0.542" stop-color="#6c6c6c"/><stop offset="0.592" stop-color="#7d7d7d"/><stop offset="0.633" stop-color="#888888"/><stop offset="0.675" stop-color="#8d8d8d"/><stop offset="0.742" stop-color="#8b8b8b"/><stop offset="0.95" stop-color="#777777"/><stop offset="1" stop-color="#747474"/></linearGradient><linearGradient id="a2_19"><stop offset="0" stop-color="#7d7d7d"/><stop offset="0.075" stop-color="#808080"/><stop offset="0.258" stop-color="#8c8c8c"/><stop offset="0.333" stop-color="#8d8d8d"/><stop offset="0.392" stop-color="#878787"/><stop offset="0.45" stop-color="#7c7c7c"/><stop offset="0.492" stop-color="#777777"/><stop offset="0.525" stop-color="#787878"/><stop offset="0.625" stop-color="#878787"/><stop offset="0.65" stop-color="#898989"/><stop offset="0.708" stop-color="#898989"/><stop offset="0.917" stop-color="#787878"/><stop offset="1" stop-color="#737373"/></linearGradient><linearGradient id="a2_20"><stop offset="0" stop-color="#7c7c7c"/><stop offset="0.1" stop-color="#7f7f7f"/><stop offset="0.308" stop-color="#898989"/><stop offset="0.383" stop-color="#888888"/><stop offset="0.483" stop-color="#818181"/><stop offset="0.533" stop-color="#818181"/><stop offset="0.625" stop-color="#868686"/><stop offset="0.667" stop-color="#868686"/><stop offset="1" stop-color="#717171"/></linearGradient><linearGradient id="a2_21"><stop offset="0" stop-color="#7b7b7b"/><stop offset="0.342" stop-color="#858585"/><stop offset="0.592" stop-color="#838383"/><stop offset="0.725" stop-color="#7f7f7f"/><stop offset="1" stop-color="#707070"/></linearGradient><linearGradient id="a2_22"><stop offset="0" stop-color="#7a7a7a"/><stop offset="0.292" stop-color="#808080"/><stop offset="0.442" stop-color="#818181"/><stop offset="0.642" stop-color="#7e7e7e"/><stop offset="1" stop-color="#707070"/></linearGradient><linearGradient id="a2_23"><stop offset="0" stop-color="#797979"/><stop offset="0.317" stop-color="#7d7d7d"/><stop offset="0.483" stop-color="#7d7d7d"/><stop offset="0.692" stop-color="#797979"/><stop offset="1" stop-color="#6f6f6f"/></linearGradient><linearGradient id="a2_24"><stop offset="0" stop-color="#797979"/><stop offset="0.492" stop-color="#7a7a7a"/><stop offset="1" stop-color="#6f6f6f"/></linearGradient><linearGradient id="a2_25"><stop offset="0" stop-color="#797979"/><stop offset="0.508" stop-color="#787878"/><stop offset="1" stop-color="#6f6f6f"/></linearGradient><linearGradient id="a2_26"><stop offset="0" stop-color="#7a7a7a"/><stop offset="0.508" stop-color="#777777"/><stop offset="1" stop-color="#707070"/></linearGradient><linearGradient id="a2_27"><stop offset="0" stop-color="#7a7a7a"/><stop offset="0.475" stop-color="#777777"/><stop offset="1" stop-color="#707070"/></linearGradient><linearGradient id="a2_28"><stop offset="0" stop-color="#7b7b7b"/><stop offset="0.575" stop-color="#767676"/><stop offset="1" stop-color="#707070"/></linearGradient><linearGradient id="a2_29"><stop offset="0" stop-color="#7b7b7b"/><stop offset="0.575" stop-color="#767676"/><stop offset="1" stop-color="#707070"/></linearGradient><linearGradient id="a2_30"><stop offset="0" stop-color="#7b7b7b"/><stop offset="0.575" stop-color="#767676"/><stop offset="1" stop-color="#707070"/></linearGradient><linearGradient id="a1_0"><stop offset="0" stop-color="#787878"/><stop offset="0.525" stop-color="#afafaf"/><stop offset="1" stop-color="#dedede"/></linearGradient><linearGradient id="a1_1"><stop offset="0" stop-color="#787878"/><stop offset="0.525" stop-color="#afafaf"/><stop offset="1" stop-color="#dedede"/></linearGradient><linearGradient id="a1_2"><stop offset="0" stop-color="#787878"/><stop offset="0.525" stop-color="#afafaf"/><stop offset="1" stop-color="#dedede"/></linearGradient><linearGradient id="a1_3"><stop offset="0" stop-color="#767676"/><stop offset="0.508" stop-color="#acacac"/><stop offset="1" stop-color="#dcdcdc"/></linearGradient><linearGradient id="a1_4"><stop offset="0" stop-color="#737373"/><stop offset="0.525" stop-color="#ababab"/><stop offset="1" stop-color="#d9d9d9"/></linearGradient><linearGradient id="a1_5"><stop offset="0" stop-color="#6f6f6f"/><stop offset="0.5" stop-color="#a6a6a6"/><stop offset="1" stop-color="#d5d5d5"/></linearGradient><linearGradient id="a1_6"><stop offset="0" stop-color="#6c6c6c"/><stop offset="0.417" stop-color="#9b9b9b"/><stop offset="1" stop-color="#d2d2d2"/></linearGradient><linearGradient id="a1_7"><stop offset="0" stop-color="#696969"/><stop offset="0.1" stop-color="#737373"/><stop offset="0.392" stop-color="#969696"/><stop offset="0.542" stop-color="#a2a2a2"/><stop offset="0.717" stop-color="#b5b5b5"/><stop offset="1" stop-color="#cfcfcf"/></linearGradient><linearGradient id="a1_8"><stop offset="0" stop-color="#656565"/><stop offset="0.167" stop-color="#787878"/><stop offset="0.342" stop-color="#8f8f8f"/><stop offset="0.558" stop-color="#9c9c9c"/><stop offset="0.742" stop-color="#b4b4b4"/><stop offset="1" stop-color="#cbcbcb"/></linearGradient><linearGradient id="a1_9"><stop offset="0" stop-color="#626262"/><stop offset="0.125" stop-color="#707070"/><stop offset="0.333" stop-color="#8d8d8d"/><stop offset="0.375" stop-color="#909090"/><stop offset="0.433" stop-color="#909090"/><stop offset="0.5" stop-color="#8d8d8d"/><stop offset="0.55" stop-color="#8f8f8f"/><stop offset="0.6" stop-color="#959595"/><stop offset="0.725" stop-color="#adadad"/><stop offset="0.817" stop-color="#b8b8b8"/><stop offset="1" stop-color="#c8c8c8"/></linearGradient><linearGradient id="a1_10"><stop offset="0" stop-color="#5f5f5f"/><stop offset="0.108" stop-color="#6b6b6b"/><stop offset="0.208" stop-color="#797979"/><stop offset="0.317" stop-color="#8b8b8b"/><stop offset="0.358" stop-color="#8f8f8f"/><stop offset="0.4" stop-color="#8e8e8e"/><stop offset="0.508" stop-color="#7e7e7e"/><stop offset="0.55" stop-color="#7d7d7d"/><stop offset="0.592" stop-color="#828282"/><stop offset="0.625" stop-color="#8a8a8a"/><stop offset="0.692" stop-color="#9e9e9e"/><stop offset="0.767" stop-color="#aeaeae"/><stop offset="0.85" stop-color="#b8b8b8"/><stop offset="1" stop-color="#c5c5c5"/></linearGradient><linearGradient id="a1_11"><stop offset="0" stop-color="#5b5b5b"/><stop offset="0.15" stop-color="#6e6e6e"/><stop offset="0.367" stop-color="#929292"/><stop offset="0.4" stop-color="#8f8f8f"/><stop offset="0.425" stop-color="#898989"/><stop offset="0.492" stop-color="#717171"/><stop offset="0.517" stop-color="#6a6a6a"/><stop offset="0.533" stop-color="#676767"/><stop offset="0.567" stop-color="#676767"/><stop offset="0.6" stop-color="#6e6e6e"/><stop offset="0.642" stop-color="#7d7d7d"/><stop offset="0.7" stop-color="#959595"/><stop offset="0.733" stop-color="#a0a0a0"/><stop offset="0.783" stop-color="#acacac"/><stop offset="0.833" stop-color="#b3b3b3"/><stop offset="1" stop-color="#c1c1c1"/></linearGradient><linearGradient id="a1_12"><stop offset="0" stop-color="#585858"/><stop offset="0.142" stop-color="#6a6a6a"/><stop offset="0.242" stop-color="#7b7b7b"/><stop offset="0.342" stop-color="#909090"/><stop offset="0.4" stop-color="#979797"/><stop offset="0.417" stop-color="#929292"/><stop offset="0.433" stop-color="#8a8a8a"/><stop offset="0.458" stop-color="#7b7b7b"/><stop offset="0.492" stop-color="#646464"/><stop offset="0.517" stop-color="#565656"/><stop offset="0.542" stop-color="#4e4e4e"/><stop offset="0.558" stop-color="#4d4d4d"/><stop offset="0.575" stop-color="#4f4f4f"/><stop offset="0.6" stop-color="#565656"/><stop offset="0.708" stop-color="#8d8d8d"/><stop offset="0.758" stop-color="#a0a0a0"/><stop offset="0.817" stop-color="#adadad"/><stop offset="0.867" stop-color="#b3b3b3"/><stop offset="1" stop-color="#bebebe"/></linearGradient><linearGradient id="a1_13"><stop offset="0" stop-color="#555555"/><stop offset="0.108" stop-color="#626262"/><stop offset="0.2" stop-color="#717171"/><stop offset="0.375" stop-color="#9b9b9b"/><stop offset="0.433" stop-color="#9c9c9c"/><stop offset="0.45" stop-color="#8e8e8e"/><stop offset="0.5" stop-color="#525252"/><stop offset="0.517" stop-color="#424242"/><stop offset="0.533" stop-color="#383838"/><stop offset="0.55" stop-color="#343434"/><stop offset="0.575" stop-color="#383838"/><stop offset="0.6" stop-color="#424242"/><stop offset="0.7" stop-color="#7f7f7f"/><stop offset="0.733" stop-color="#909090"/><stop offset="0.767" stop-color="#9d9d9d"/><stop offset="0.817" stop-color="#a9a9a9"/><stop offset="0.892" stop-color="#b2b2b2"/><stop offset="1" stop-color="#bbbbbb"/></linearGradient><linearGradient id="a1_14"><stop offset="0" stop-color="#515151"/><stop offset="0.108" stop-color="#5f5f5f"/><stop offset="0.208" stop-color="#707070"/><stop offset="0.283" stop-color="#848484"/><stop offset="0.375" stop-color="#a6a6a6"/><stop offset="0.4" stop-color="#acacac"/><stop offset="0.425" stop-color="#adadad"/><stop offset="0.433" stop-color="#acacac"/><stop offset="0.458" stop-color="#a0a0a0"/><stop offset="0.467" stop-color="#9f9f9f"/><stop offset="0.475" stop-color="#8e8e8e"/><stop offset="0.483" stop-color="#797979"/><stop offset="0.5" stop-color="#4b4b4b"/><stop offset="0.508" stop-color="#383838"/><stop offset="0.517" stop-color="#2b2b2b"/><stop offset="0.525" stop-color="#232323"/><stop offset="0.533" stop-color="#202020"/><stop offset="0.542" stop-color="#202020"/><stop offset="0.558" stop-color="#252525"/><stop offset="0.592" stop-color="#363636"/><stop offset="0.708" stop-color="#7f7f7f"/><stop offset="0.742" stop-color="#8f8f8f"/><stop offset="0.775" stop-color="#9b9b9b"/><stop offset="0.8" stop-color="#a2a2a2"/><stop offset="0.833" stop-color="#a8a8a8"/><stop offset="0.883" stop-color="#aeaeae"/><stop offset="1" stop-color="#b7b7b7"/></linearGradient><linearGradient id="a1_15"><stop offset="0" stop-color="#4e4e4e"/><stop offset="0.15" stop-color="#626262"/><stop offset="0.208" stop-color="#6d6d6d"/><stop offset="0.258" stop-color="#7a7a7a"/><stop offset="0.3" stop-color="#8a8a8a"/><stop offset="0.333" stop-color="#9a9a9a"/><stop offset="0.392" stop-color="#bababa"/><stop offset="0.425" stop-color="#c9c9c9"/><stop offset="0.458" stop-color="#d4d4d4"/><stop offset="0.492" stop-color="#d9d9d9"/><stop offset="0.5" stop-color="#a1a1a1"/><stop offset="0.508" stop-color="#363636"/><stop offset="0.55" stop-color="#3c3c3c"/><stop offset="0.575" stop-color="#424242"/><stop offset="0.608" stop-color="#4e4e4e"/><stop offset="0.642" stop-color="#5d5d5d"/><stop offset="0.725" stop-color="#878787"/><stop offset="0.775" stop-color="#999999"/><stop offset="0.833" stop-color="#a5a5a5"/><stop offset="1" stop-color="#b4b4b4"/></linearGradient><linearGradient id="a1_16"><stop offset="0" stop-color="#4a4a4a"/><stop offset="0.142" stop-color="#5d5d5d"/><stop offset="0.192" stop-color="#666666"/><stop offset="0.25" stop-color="#747474"/><stop offset="0.292" stop-color="#838383"/><stop offset="0.317" stop-color="#8f8f8f"/><stop offset="0.367" stop-color="#adadad"/><stop offset="0.433" stop-color="#d8d8d8"/><stop offset="0.458" stop-color="#e3e3e3"/><stop offset="0.475" stop-color="#e6e6e6"/><stop offset="0.483" stop-color="#e4e4e4"/><stop offset="0.492" stop-color="#dedede"/><stop offset="0.5" stop-color="#d5d5d5"/><stop offset="0.525" stop-color="#b0b0b0"/><stop offset="0.533" stop-color="#a6a6a6"/><stop offset="0.542" stop-color="#929292"/><stop offset="0.55" stop-color="#868686"/><stop offset="0.558" stop-color="#7e7e7e"/><stop offset="0.567" stop-color="#777777"/><stop offset="0.583" stop-color="#6f6f6f"/><stop offset="0.608" stop-color="#6b6b6b"/><stop offset="0.633" stop-color="#6d6d6d"/><stop offset="0.658" stop-color="#737373"/><stop offset="0.742" stop-color="#8f8f8f"/><stop offset="0.8" stop-color="#9d9d9d"/><stop offset="0.85" stop-color="#a4a4a4"/><stop offset="1" stop-color="#b0b0b0"/></linearGradient><linearGradient id="a1_17"><stop offset="0" stop-color="#474747"/><stop offset="0.133" stop-color="#585858"/><stop offset="0.208" stop-color="#656565"/><stop offset="0.25" stop-color="#6f6f6f"/><stop offset="0.292" stop-color="#7d7d7d"/><stop offset="0.317" stop-color="#888888"/><stop offset="0.35" stop-color="#9a9a9a"/><stop offset="0.408" stop-color="#bebebe"/><stop offset="0.433" stop-color="#cacaca"/><stop offset="0.45" stop-color="#cfcfcf"/><stop offset="0.467" stop-color="#d1d1d1"/><stop offset="0.483" stop-color="#cfcfcf"/><stop offset="0.5" stop-color="#c8c8c8"/><stop offset="0.55" stop-color="#a9a9a9"/><stop offset="0.567" stop-color="#a1a1a1"/><stop offset="0.575" stop-color="#989898"/><stop offset="0.592" stop-color="#8c8c8c"/><stop offset="0.617" stop-color="#848484"/><stop offset="0.642" stop-color="#818181"/><stop offset="0.692" stop-color="#868686"/><stop offset="0.792" stop-color="#9a9a9a"/><stop offset="0.842" stop-color="#a0a0a0"/><stop offset="1" stop-color="#adadad"/></linearGradient><linearGradient id="a1_18"><stop offset="0" stop-color="#434343"/><stop offset="0.167" stop-color="#595959"/><stop offset="0.217" stop-color="#626262"/><stop offset="0.275" stop-color="#707070"/><stop offset="0.333" stop-color="#858585"/><stop offset="0.408" stop-color="#a9a9a9"/><stop offset="0.433" stop-color="#b2b2b2"/><stop offset="0.467" stop-color="#b8b8b8"/><stop offset="0.492" stop-color="#b7b7b7"/><stop offset="0.525" stop-color="#afafaf"/><stop offset="0.575" stop-color="#9f9f9f"/><stop offset="0.6" stop-color="#9a9a9a"/><stop offset="0.617" stop-color="#929292"/><stop offset="0.65" stop-color="#8c8c8c"/><stop offset="0.7" stop-color="#8d8d8d"/><stop offset="0.8" stop-color="#999999"/><stop offset="1" stop-color="#a9a9a9"/></linearGradient><linearGradient id="a1_19"><stop offset="0" stop-color="#3f3f3f"/><stop offset="0.142" stop-color="#515151"/><stop offset="0.258" stop-color="#656565"/><stop offset="0.325" stop-color="#767676"/><stop offset="0.417" stop-color="#959595"/><stop offset="0.45" stop-color="#9d9d9d"/><stop offset="0.475" stop-color="#a0a0a0"/><stop offset="0.508" stop-color="#a0a0a0"/><stop offset="0.658" stop-color="#8f8f8f"/><stop offset="0.692" stop-color="#8e8e8e"/><stop offset="1" stop-color="#a5a5a5"/></linearGradient><linearGradient id="a1_20"><stop offset="0" stop-color="#3c3c3c"/><stop offset="0.158" stop-color="#4f4f4f"/><stop offset="0.225" stop-color="#595959"/><stop offset="0.325" stop-color="#6c6c6c"/><stop offset="0.425" stop-color="#848484"/><stop offset="0.492" stop-color="#8d8d8d"/><stop offset="0.725" stop-color="#8d8d8d"/><stop offset="0.85" stop-color="#959595"/><stop offset="1" stop-color="#a2a2a2"/></linearGradient><linearGradient id="a1_21"><stop offset="0" stop-color="#383838"/><stop offset="0.225" stop-color="#545454"/><stop offset="0.425" stop-color="#767676"/><stop offset="0.5" stop-color="#7f7f7f"/><stop offset="0.825" stop-color="#8f8f8f"/><stop offset="1" stop-color="#9e9e9e"/></linearGradient><linearGradient id="a1_22"><stop offset="0" stop-color="#353535"/><stop offset="0.217" stop-color="#4e4e4e"/><stop offset="0.417" stop-color="#6b6b6b"/><stop offset="0.492" stop-color="#747474"/><stop offset="0.8" stop-color="#898989"/><stop offset="1" stop-color="#9b9b9b"/></linearGradient><linearGradient id="a1_23"><stop offset="0" stop-color="#313131"/><stop offset="0.5" stop-color="#6d6d6d"/><stop offset="0.842" stop-color="#888888"/><stop offset="1" stop-color="#979797"/></linearGradient><linearGradient id="a1_24"><stop offset="0" stop-color="#2e2e2e"/><stop offset="0.208" stop-color="#444444"/><stop offset="0.483" stop-color="#656565"/><stop offset="0.875" stop-color="#878787"/><stop offset="1" stop-color="#949494"/></linearGradient><linearGradient id="a1_25"><stop offset="0" stop-color="#2a2a2a"/><stop offset="0.517" stop-color="#636363"/><stop offset="1" stop-color="#909090"/></linearGradient><linearGradient id="a1_26"><stop offset="0" stop-color="#262626"/><stop offset="0.517" stop-color="#5e5e5e"/><stop offset="1" stop-color="#8c8c8c"/></linearGradient><linearGradient id="a1_27"><stop offset="0" stop-color="#232323"/><stop offset="0.55" stop-color="#5d5d5d"/><stop offset="1" stop-color="#898989"/></linearGradient><linearGradient id="a1_28"><stop offset="0" stop-color="#212121"/><stop offset="0.492" stop-color="#555555"/><stop offset="1" stop-color="#878787"/></linearGradient><linearGradient id="a1_29"><stop offset="0" stop-color="#212121"/><stop offset="0.492" stop-color="#555555"/><stop offset="1" stop-color="#878787"/></linearGradient><linearGradient id="a1_30"><stop offset="0" stop-color="#212121"/><stop offset="0.492" stop-color="#555555"/><stop offset="1" stop-color="#878787"/></linearGradient><linearGradient id="a0_0"><stop offset="0" stop-color="#ffffff"/><stop offset="0.0833" stop-color="#ffffff"/><stop offset="0.358" stop-color="#bdbdbd"/><stop offset="0.492" stop-color="#a2a2a2"/><stop offset="0.642" stop-color="#878787"/><stop offset="1" stop-color="#383838"/></linearGradient><linearGradient id="a0_1"><stop offset="0" stop-color="#ffffff"/><stop offset="0.0833" stop-color="#ffffff"/><stop offset="0.358" stop-color="#bdbdbd"/><stop offset="0.492" stop-color="#a2a2a2"/><stop offset="0.642" stop-color="#878787"/><stop offset="1" stop-color="#383838"/></linearGradient><linearGradient id="a0_2"><stop offset="0" stop-color="#ffffff"/><stop offset="0.0833" stop-color="#ffffff"/><stop offset="0.358" stop-color="#bdbdbd"/><stop offset="0.492" stop-color="#a2a2a2"/><stop offset="0.642" stop-color="#878787"/><stop offset="1" stop-color="#383838"/></linearGradient><linearGradient id="a0_3"><stop offset="0" stop-color="#ffffff"/><stop offset="0.075" stop-color="#ffffff"/><stop offset="0.342" stop-color="#bdbdbd"/><stop offset="0.433" stop-color="#aaaaaa"/><stop offset="0.633" stop-color="#878787"/><stop offset="0.708" stop-color="#787878"/><stop offset="1" stop-color="#373737"/></linearGradient><linearGradient id="a0_4"><stop offset="0" stop-color="#ffffff"/><stop offset="0.0583" stop-color="#ffffff"/><stop offset="0.275" stop-color="#c5c5c5"/><stop offset="0.358" stop-color="#b1b1b1"/><stop offset="0.458" stop-color="#9e9e9e"/><stop offset="0.6" stop-color="#8a8a8a"/><stop offset="0.683" stop-color="#7b7b7b"/><stop offset="0.792" stop-color="#646464"/><stop offset="1" stop-color="#343434"/></linearGradient><linearGradient id="a0_5"><stop offset="0" stop-color="#ffffff"/><stop offset="0.0417" stop-color="#ffffff"/><stop offset="0.05" stop-color="#fdfdfd"/><stop offset="0.283" stop-color="#b9b9b9"/><stop offset="0.375" stop-color="#a3a3a3"/><stop offset="0.433" stop-color="#999999"/><stop offset="0.617" stop-color="#858585"/><stop offset="0.692" stop-color="#787878"/><stop offset="0.75" stop-color="#6c6c6c"/><stop offset="1" stop-color="#313131"/></linearGradient><linearGradient id="a0_6"><stop offset="0" stop-color="#ffffff"/><stop offset="0.025" stop-color="#fefefe"/><stop offset="0.0667" stop-color="#f3f3f3"/><stop offset="0.267" stop-color="#b2b2b2"/><stop offset="0.358" stop-color="#9a9a9a"/><stop offset="0.433" stop-color="#8e8e8e"/><stop offset="0.5" stop-color="#898989"/><stop offset="0.6" stop-color="#858585"/><stop offset="0.667" stop-color="#7c7c7c"/><stop offset="0.742" stop-color="#6e6e6e"/><stop offset="1" stop-color="#2f2f2f"/></linearGradient><linearGradient id="a0_7"><stop offset="0" stop-color="#ffffff"/><stop offset="0.0167" stop-color="#fcfcfc"/><stop offset="0.108" stop-color="#dfdfdf"/><stop offset="0.233" stop-color="#b0b0b0"/><stop offset="0.283" stop-color="#9f9f9f"/><stop offset="0.358" stop-color="#8b8b8b"/><stop offset="0.442" stop-color="#818181"/><stop offset="0.592" stop-color="#848484"/><stop offset="0.6" stop-color="#828282"/><stop offset="0.617" stop-color="#828282"/><stop offset="0.675" stop-color="#7c7c7c"/><stop offset="0.767" stop-color="#6a6a6a"/><stop offset="1" stop-color="#2c2c2c"/></linearGradient><linearGradient id="a0_8"><stop offset="0" stop-color="#fcfcfc"/><stop offset="0.0917" stop-color="#dddddd"/><stop offset="0.25" stop-color="#9b9b9b"/><stop offset="0.3" stop-color="#898989"/><stop offset="0.358" stop-color="#7a7a7a"/><stop offset="0.4" stop-color="#747474"/><stop offset="0.433" stop-color="#737373"/><stop offset="0.467" stop-color="#757575"/><stop offset="0.575" stop-color="#838383"/><stop offset="0.633" stop-color="#838383"/><stop offset="0.7" stop-color="#7c7c7c"/><stop offset="0.775" stop-color="#6b6b6b"/><stop offset="0.925" stop-color="#3e3e3e"/><stop offset="1" stop-color="#2a2a2a"/></linearGradient><linearGradient id="a0_9"><stop offset="0" stop-color="#f7f7f7"/><stop offset="0.0667" stop-color="#dfdfdf"/><stop offset="0.117" stop-color="#cacaca"/><stop offset="0.225" stop-color="#969696"/><stop offset="0.275" stop-color="#808080"/><stop offset="0.317" stop-color="#717171"/><stop offset="0.35" stop-color="#686868"/><stop offset="0.383" stop-color="#636363"/><stop offset="0.417" stop-color="#626262"/><stop offset="0.475" stop-color="#6a6a6a"/><stop offset="0.567" stop-color="#828282"/><stop offset="0.633" stop-color="#888888"/><stop offset="0.675" stop-color="#868686"/><stop offset="0.708" stop-color="#818181"/><stop offset="0.758" stop-color="#757575"/><stop offset="0.908" stop-color="#434343"/><stop offset="1" stop-color="#282828"/></linearGradient><linearGradient id="a0_10"><stop offset="0" stop-color="#f1f1f1"/><stop offset="0.075" stop-color="#d4d4d4"/><stop offset="0.133" stop-color="#b8b8b8"/><stop offset="0.233" stop-color="#828282"/><stop offset="0.292" stop-color="#666666"/><stop offset="0.333" stop-color="#575757"/><stop offset="0.35" stop-color="#535353"/><stop offset="0.383" stop-color="#4e4e4e"/><stop offset="0.425" stop-color="#505050"/><stop offset="0.475" stop-color="#5e5e5e"/><stop offset="0.542" stop-color="#7c7c7c"/><stop offset="0.558" stop-color="#828282"/><stop offset="0.617" stop-color="#8f8f8f"/><stop offset="0.658" stop-color="#919191"/><stop offset="0.7" stop-color="#8c8c8c"/><stop offset="0.75" stop-color="#7f7f7f"/><stop offset="0.792" stop-color="#717171"/><stop offset="0.925" stop-color="#3e3e3e"/><stop offset="1" stop-color="#272727"/></linearGradient><linearGradient id="a0_11"><stop offset="0" stop-color="#ececec"/><stop offset="0.05" stop-color="#d8d8d8"/><stop offset="0.117" stop-color="#b7b7b7"/><stop offset="0.233" stop-color="#727272"/><stop offset="0.275" stop-color="#5b5b5b"/><stop offset="0.317" stop-color="#484848"/><stop offset="0.342" stop-color="#3f3f3f"/><stop offset="0.358" stop-color="#3b3b3b"/><stop offset="0.383" stop-color="#383838"/><stop offset="0.4" stop-color="#383838"/><stop offset="0.433" stop-color="#3e3e3e"/><stop offset="0.45" stop-color="#444444"/><stop offset="0.467" stop-color="#4d4d4d"/><stop offset="0.492" stop-color="#5c5c5c"/><stop offset="0.542" stop-color="#7f7f7f"/><stop offset="0.583" stop-color="#929292"/><stop offset="0.608" stop-color="#9a9a9a"/><stop offset="0.625" stop-color="#9d9d9d"/><stop offset="0.667" stop-color="#9e9e9e"/><stop offset="0.717" stop-color="#949494"/><stop offset="0.758" stop-color="#868686"/><stop offset="0.892" stop-color="#4c4c4c"/><stop offset="1" stop-color="#252525"/></linearGradient><linearGradient id="a0_12"><stop offset="0" stop-color="#e7e7e7"/><stop offset="0.05" stop-color="#d2d2d2"/><stop offset="0.1" stop-color="#b8b8b8"/><stop offset="0.167" stop-color="#909090"/><stop offset="0.233" stop-color="#646464"/><stop offset="0.292" stop-color="#414141"/><stop offset="0.342" stop-color="#2a2a2a"/><stop offset="0.367" stop-color="#232323"/><stop offset="0.383" stop-color="#202020"/><stop offset="0.4" stop-color="#202020"/><stop offset="0.425" stop-color="#242424"/><stop offset="0.442" stop-color="#2b2b2b"/><stop offset="0.467" stop-color="#3b3b3b"/><stop offset="0.492" stop-color="#535353"/><stop offset="0.533" stop-color="#808080"/><stop offset="0.542" stop-color="#858585"/><stop offset="0.567" stop-color="#999999"/><stop offset="0.583" stop-color="#a3a3a3"/><stop offset="0.6" stop-color="#aaaaaa"/><stop offset="0.633" stop-color="#b0b0b0"/><stop offset="0.667" stop-color="#afafaf"/><stop offset="0.7" stop-color="#a7a7a7"/><stop offset="0.733" stop-color="#9b9b9b"/><stop offset="0.8" stop-color="#7c7c7c"/><stop offset="0.9" stop-color="#4a4a4a"/><stop offset="0.95" stop-color="#353535"/><stop offset="1" stop-color="#232323"/></linearGradient><linearGradient id="a0_13"><stop offset="0" stop-color="#e3e3e3"/><stop offset="0.0833" stop-color="#bbbbbb"/><stop offset="0.142" stop-color="#989898"/><stop offset="0.267" stop-color="#434343"/><stop offset="0.317" stop-color="#252525"/><stop offset="0.35" stop-color="#151515"/><stop offset="0.392" stop-color="#080808"/><stop offset="0.417" stop-color="#070707"/><stop offset="0.433" stop-color="#0b0b0b"/><stop offset="0.45" stop-color="#141414"/><stop offset="0.458" stop-color="#1b1b1b"/><stop offset="0.475" stop-color="#2e2e2e"/><stop offset="0.483" stop-color="#3a3a3a"/><stop offset="0.517" stop-color="#757575"/><stop offset="0.533" stop-color="#8e8e8e"/><stop offset="0.55" stop-color="#a3a3a3"/><stop offset="0.567" stop-color="#b3b3b3"/><stop offset="0.583" stop-color="#bebebe"/><stop offset="0.6" stop-color="#c4c4c4"/><stop offset="0.617" stop-color="#c7c7c7"/><stop offset="0.642" stop-color="#c7c7c7"/><stop offset="0.658" stop-color="#c4c4c4"/><stop offset="0.708" stop-color="#b3b3b3"/><stop offset="0.758" stop-color="#9a9a9a"/><stop offset="0.875" stop-color="#585858"/><stop offset="0.942" stop-color="#383838"/><stop offset="1" stop-color="#222222"/></linearGradient><linearGradient id="a0_14"><stop offset="0" stop-color="#dfdfdf"/><stop offset="0.0583" stop-color="#c4c4c4"/><stop offset="0.1" stop-color="#adadad"/><stop offset="0.167" stop-color="#828282"/><stop offset="0.283" stop-color="#313131"/><stop offset="0.342" stop-color="#0e0e0e"/><stop offset="0.367" stop-color="#020202"/><stop offset="0.375" stop-color="#000000"/><stop offset="0.467" stop-color="#000000"/><stop offset="0.475" stop-color="#080808"/><stop offset="0.483" stop-color="#1b1b1b"/><stop offset="0.492" stop-color="#343434"/><stop offset="0.508" stop-color="#747474"/><stop offset="0.517" stop-color="#8f8f8f"/><stop offset="0.525" stop-color="#a7a7a7"/><stop offset="0.533" stop-color="#bababa"/><stop offset="0.542" stop-color="#c8c8c8"/><stop offset="0.558" stop-color="#dadada"/><stop offset="0.575" stop-color="#e2e2e2"/><stop offset="0.592" stop-color="#e5e5e5"/><stop offset="0.617" stop-color="#e3e3e3"/><stop offset="0.642" stop-color="#dddddd"/><stop offset="0.692" stop-color="#c8c8c8"/><stop offset="0.75" stop-color="#a7a7a7"/><stop offset="0.817" stop-color="#7c7c7c"/><stop offset="0.875" stop-color="#595959"/><stop offset="0.942" stop-color="#373737"/><stop offset="1" stop-color="#202020"/></linearGradient><linearGradient id="a0_15"><stop offset="0" stop-color="#dcdcdc"/><stop offset="0.0667" stop-color="#bdbdbd"/><stop offset="0.0917" stop-color="#afafaf"/><stop offset="0.15" stop-color="#8b8b8b"/><stop offset="0.275" stop-color="#363636"/><stop offset="0.317" stop-color="#1d1d1d"/><stop offset="0.367" stop-color="#030303"/><stop offset="0.375" stop-color="#000000"/><stop offset="0.492" stop-color="#000000"/><stop offset="0.508" stop-color="#ffffff"/><stop offset="0.6" stop-color="#fefefe"/><stop offset="0.617" stop-color="#f8f8f8"/><stop offset="0.675" stop-color="#dadada"/><stop offset="0.717" stop-color="#c1c1c1"/><stop offset="0.842" stop-color="#6d6d6d"/><stop offset="0.892" stop-color="#4f4f4f"/><stop offset="0.942" stop-color="#353535"/><stop offset="1" stop-color="#1d1d1d"/></linearGradient><linearGradient id="a0_16"><stop offset="0" stop-color="#dadada"/><stop offset="0.0917" stop-color="#aeaeae"/><stop offset="0.167" stop-color="#818181"/><stop offset="0.217" stop-color="#606060"/><stop offset="0.3" stop-color="#2f2f2f"/><stop offset="0.325" stop-color="#232323"/><stop offset="0.358" stop-color="#171717"/><stop offset="0.383" stop-color="#111111"/><stop offset="0.408" stop-color="#101010"/><stop offset="0.417" stop-color="#111111"/><stop offset="0.433" stop-color="#171717"/><stop offset="0.442" stop-color="#1d1d1d"/><stop offset="0.45" stop-color="#242424"/><stop offset="0.458" stop-color="#2f2f2f"/><stop offset="0.467" stop-color="#3e3e3e"/><stop offset="0.475" stop-color="#525252"/><stop offset="0.483" stop-color="#6c6c6c"/><stop offset="0.492" stop-color="#8d8d8d"/><stop offset="0.508" stop-color="#c9c9c9"/><stop offset="0.517" stop-color="#e0e0e0"/><stop offset="0.525" stop-color="#f1f1f1"/><stop offset="0.533" stop-color="#fcfcfc"/><stop offset="0.542" stop-color="#ffffff"/><stop offset="0.6" stop-color="#ffffff"/><stop offset="0.617" stop-color="#fafafa"/><stop offset="0.642" stop-color="#eeeeee"/><stop offset="0.692" stop-color="#d1d1d1"/><stop offset="0.742" stop-color="#b0b0b0"/><stop offset="0.817" stop-color="#7b7b7b"/><stop offset="0.892" stop-color="#4c4c4c"/><stop offset="0.942" stop-color="#323232"/><stop offset="1" stop-color="#1a1a1a"/></linearGradient><linearGradient id="a0_17"><stop offset="0" stop-color="#d8d8d8"/><stop offset="0.0417" stop-color="#c7c7c7"/><stop offset="0.0833" stop-color="#b3b3b3"/><stop offset="0.142" stop-color="#939393"/><stop offset="0.225" stop-color="#626262"/><stop offset="0.283" stop-color="#444444"/><stop offset="0.317" stop-color="#373737"/><stop offset="0.333" stop-color="#333333"/><stop offset="0.35" stop-color="#2f2f2f"/><stop offset="0.375" stop-color="#2e2e2e"/><stop offset="0.392" stop-color="#303030"/><stop offset="0.408" stop-color="#353535"/><stop offset="0.417" stop-color="#393939"/><stop offset="0.433" stop-color="#454545"/><stop offset="0.442" stop-color="#4d4d4d"/><stop offset="0.45" stop-color="#565656"/><stop offset="0.467" stop-color="#6d6d6d"/><stop offset="0.475" stop-color="#7b7b7b"/><stop offset="0.483" stop-color="#8c8c8c"/><stop offset="0.517" stop-color="#c2c2c2"/><stop offset="0.533" stop-color="#d7d7d7"/><stop offset="0.542" stop-color="#dfdfdf"/><stop offset="0.558" stop-color="#e9e9e9"/><stop offset="0.575" stop-color="#eeeeee"/><stop offset="0.592" stop-color="#efefef"/><stop offset="0.608" stop-color="#ededed"/><stop offset="0.633" stop-color="#e6e6e6"/><stop offset="0.683" stop-color="#cecece"/><stop offset="0.758" stop-color="#9e9e9e"/><stop offset="0.825" stop-color="#707070"/><stop offset="0.883" stop-color="#4c4c4c"/><stop offset="0.942" stop-color="#2e2e2e"/><stop offset="1" stop-color="#171717"/></linearGradient><linearGradient id="a0_18"><stop offset="0" stop-color="#d7d7d7"/><stop offset="0.075" stop-color="#b8b8b8"/><stop offset="0.25" stop-color="#606060"/><stop offset="0.292" stop-color="#505050"/><stop offset="0.325" stop-color="#484848"/><stop offset="0.342" stop-color="#464646"/><stop offset="0.367" stop-color="#464646"/><stop offset="0.392" stop-color="#4b4b4b"/><stop offset="0.425" stop-color="#5b5b5b"/><stop offset="0.45" stop-color="#6f6f6f"/><stop offset="0.458" stop-color="#777777"/><stop offset="0.467" stop-color="#828282"/><stop offset="0.508" stop-color="#ababab"/><stop offset="0.542" stop-color="#c6c6c6"/><stop offset="0.567" stop-color="#d2d2d2"/><stop offset="0.583" stop-color="#d6d6d6"/><stop offset="0.6" stop-color="#d7d7d7"/><stop offset="0.625" stop-color="#d4d4d4"/><stop offset="0.658" stop-color="#cacaca"/><stop offset="0.7" stop-color="#b6b6b6"/><stop offset="0.867" stop-color="#4f4f4f"/><stop offset="0.942" stop-color="#292929"/><stop offset="1" stop-color="#121212"/></linearGradient><linearGradient id="a0_19"><stop offset="0" stop-color="#d6d6d6"/><stop offset="0.0833" stop-color="#b6b6b6"/><stop offset="0.192" stop-color="#848484"/><stop offset="0.242" stop-color="#6f6f6f"/><stop offset="0.275" stop-color="#646464"/><stop offset="0.308" stop-color="#5c5c5c"/><stop offset="0.333" stop-color="#595959"/><stop offset="0.367" stop-color="#5a5a5a"/><stop offset="0.392" stop-color="#5f5f5f"/><stop offset="0.408" stop-color="#656565"/><stop offset="0.433" stop-color="#717171"/><stop offset="0.483" stop-color="#929292"/><stop offset="0.525" stop-color="#ababab"/><stop offset="0.558" stop-color="#b9b9b9"/><stop offset="0.592" stop-color="#bfbfbf"/><stop offset="0.633" stop-color="#bcbcbc"/><stop offset="0.65" stop-color="#b8b8b8"/><stop offset="0.683" stop-color="#acacac"/><stop offset="0.75" stop-color="#8a8a8a"/><stop offset="0.842" stop-color="#545454"/><stop offset="0.883" stop-color="#3e3e3e"/><stop offset="0.95" stop-color="#202020"/><stop offset="1" stop-color="#0e0e0e"/></linearGradient><linearGradient id="a0_20"><stop offset="0" stop-color="#d5d5d5"/><stop offset="0.0833" stop-color="#b8b8b8"/><stop offset="0.183" stop-color="#8f8f8f"/><stop offset="0.25" stop-color="#777777"/><stop offset="0.3" stop-color="#6b6b6b"/><stop offset="0.325" stop-color="#686868"/><stop offset="0.358" stop-color="#686868"/><stop offset="0.383" stop-color="#6b6b6b"/><stop offset="0.417" stop-color="#737373"/><stop offset="0.433" stop-color="#797979"/><stop offset="0.45" stop-color="#828282"/><stop offset="0.492" stop-color="#929292"/><stop offset="0.525" stop-color="#9e9e9e"/><stop offset="0.558" stop-color="#a6a6a6"/><stop offset="0.592" stop-color="#aaaaaa"/><stop offset="0.633" stop-color="#a6a6a6"/><stop offset="0.675" stop-color="#9b9b9b"/><stop offset="0.717" stop-color="#8a8a8a"/><stop offset="0.833" stop-color="#4e4e4e"/><stop offset="0.892" stop-color="#323232"/><stop offset="0.95" stop-color="#1a1a1a"/><stop offset="1" stop-color="#090909"/></linearGradient><linearGradient id="a0_21"><stop offset="0" stop-color="#d4d4d4"/><stop offset="0.0583" stop-color="#c2c2c2"/><stop offset="0.158" stop-color="#9e9e9e"/><stop offset="0.242" stop-color="#838383"/><stop offset="0.283" stop-color="#797979"/><stop offset="0.325" stop-color="#737373"/><stop offset="0.358" stop-color="#727272"/><stop offset="0.4" stop-color="#767676"/><stop offset="0.5" stop-color="#8d8d8d"/><stop offset="0.55" stop-color="#959595"/><stop offset="0.6" stop-color="#969696"/><stop offset="0.642" stop-color="#909090"/><stop offset="0.675" stop-color="#878787"/><stop offset="0.717" stop-color="#787878"/><stop offset="0.867" stop-color="#343434"/><stop offset="0.942" stop-color="#171717"/><stop offset="1" stop-color="#050505"/></linearGradient><linearGradient id="a0_22"><stop offset="0" stop-color="#d3d3d3"/><stop offset="0.225" stop-color="#8e8e8e"/><stop offset="0.3" stop-color="#7e7e7e"/><stop offset="0.333" stop-color="#7a7a7a"/><stop offset="0.383" stop-color="#797979"/><stop offset="0.525" stop-color="#868686"/><stop offset="0.592" stop-color="#858585"/><stop offset="0.633" stop-color="#7f7f7f"/><stop offset="0.667" stop-color="#777777"/><stop offset="0.708" stop-color="#6a6a6a"/><stop offset="0.875" stop-color="#282828"/><stop offset="0.933" stop-color="#141414"/><stop offset="1" stop-color="#000000"/></linearGradient><linearGradient id="a0_23"><stop offset="0" stop-color="#d1d1d1"/><stop offset="0.0583" stop-color="#c2c2c2"/><stop offset="0.2" stop-color="#999999"/><stop offset="0.267" stop-color="#898989"/><stop offset="0.3" stop-color="#838383"/><stop offset="0.35" stop-color="#7d7d7d"/><stop offset="0.392" stop-color="#7b7b7b"/><stop offset="0.525" stop-color="#7b7b7b"/><stop offset="0.558" stop-color="#797979"/><stop offset="0.625" stop-color="#707070"/><stop offset="0.683" stop-color="#626262"/><stop offset="0.717" stop-color="#585858"/><stop offset="0.867" stop-color="#232323"/><stop offset="0.958" stop-color="#070707"/><stop offset="0.983" stop-color="#010101"/><stop offset="1" stop-color="#000000"/></linearGradient><linearGradient id="a0_24"><stop offset="0" stop-color="#cfcfcf"/><stop offset="0.15" stop-color="#a8a8a8"/><stop offset="0.267" stop-color="#8c8c8c"/><stop offset="0.317" stop-color="#838383"/><stop offset="0.375" stop-color="#7c7c7c"/><stop offset="0.517" stop-color="#727272"/><stop offset="0.583" stop-color="#6a6a6a"/><stop offset="0.617" stop-color="#646464"/><stop offset="0.717" stop-color="#4b4b4b"/><stop offset="0.833" stop-color="#262626"/><stop offset="0.933" stop-color="#090909"/><stop offset="0.967" stop-color="#010101"/><stop offset="1" stop-color="#000000"/></linearGradient><linearGradient id="a0_25"><stop offset="0" stop-color="#cdcdcd"/><stop offset="0.217" stop-color="#989898"/><stop offset="0.283" stop-color="#8a8a8a"/><stop offset="0.367" stop-color="#7c7c7c"/><stop offset="0.542" stop-color="#666666"/><stop offset="0.625" stop-color="#575757"/><stop offset="0.7" stop-color="#454545"/><stop offset="0.858" stop-color="#181818"/><stop offset="0.95" stop-color="#010101"/><stop offset="1" stop-color="#000000"/></linearGradient><linearGradient id="a0_26"><stop offset="0" stop-color="#cbcbcb"/><stop offset="0.267" stop-color="#8d8d8d"/><stop offset="0.35" stop-color="#7d7d7d"/><stop offset="0.508" stop-color="#646464"/><stop offset="0.642" stop-color="#4a4a4a"/><stop offset="0.933" stop-color="#000000"/><stop offset="1" stop-color="#000000"/></linearGradient><linearGradient id="a0_27"><stop offset="0" stop-color="#c8c8c8"/><stop offset="0.283" stop-color="#888888"/><stop offset="0.608" stop-color="#4a4a4a"/><stop offset="0.9" stop-color="#040404"/><stop offset="0.925" stop-color="#000000"/><stop offset="1" stop-color="#000000"/></linearGradient><linearGradient id="a0_28"><stop offset="0" stop-color="#c7c7c7"/><stop offset="0.25" stop-color="#8e8e8e"/><stop offset="0.617" stop-color="#454545"/><stop offset="0.892" stop-color="#040404"/><stop offset="0.917" stop-color="#000000"/><stop offset="1" stop-color="#000000"/></linearGradient><linearGradient id="a0_29"><stop offset="0" stop-color="#c7c7c7"/><stop offset="0.25" stop-color="#8e8e8e"/><stop offset="0.617" stop-color="#454545"/><stop offset="0.892" stop-color="#040404"/><stop offset="0.917" stop-color="#000000"/><stop offset="1" stop-color="#000000"/></linearGradient><linearGradient id="a0_30"><stop offset="0" stop-color="#c7c7c7"/><stop offset="0.25" stop-color="#8e8e8e"/><stop offset="0.617" stop-color="#454545"/><stop offset="0.892" stop-color="#040404"/><stop offset="0.917" stop-color="#000000"/><stop offset="1" stop-color="#000000"/></linearGradient><linearGradient id="b5_0"><stop offset="0" stop-color="#808080"/><stop offset="0.1" stop-color="#818181"/><stop offset="0.217" stop-color="#888888"/><stop offset="0.3" stop-color="#929292"/><stop offset="0.458" stop-color="#aeaeae"/><stop offset="0.55" stop-color="#b8b8b8"/><stop offset="0.617" stop-color="#b8b8b8"/><stop offset="0.642" stop-color="#b6b6b6"/><stop offset="0.742" stop-color="#a8a8a8"/><stop offset="0.858" stop-color="#939393"/><stop offset="0.95" stop-color="#888888"/><stop offset="1" stop-color="#858585"/></linearGradient><linearGradient id="b5_1"><stop offset="0" stop-color="#808080"/><stop offset="0.1" stop-color="#818181"/><stop offset="0.217" stop-color="#888888"/><stop offset="0.3" stop-color="#929292"/><stop offset="0.458" stop-color="#aeaeae"/><stop offset="0.55" stop-color="#b8b8b8"/><stop offset="0.617" stop-color="#b8b8b8"/><stop offset="0.642" stop-color="#b6b6b6"/><stop offset="0.742" stop-color="#a8a8a8"/><stop offset="0.858" stop-color="#939393"/><stop offset="0.95" stop-color="#888888"/><stop offset="1" stop-color="#858585"/></linearGradient><linearGradient id="b5_2"><stop offset="0" stop-color="#808080"/><stop offset="0.1" stop-color="#818181"/><stop offset="0.217" stop-color="#888888"/><stop offset="0.3" stop-color="#929292"/><stop offset="0.458" stop-color="#aeaeae"/><stop offset="0.55" stop-color="#b8b8b8"/><stop offset="0.617" stop-color="#b8b8b8"/><stop offset="0.642" stop-color="#b6b6b6"/><stop offset="0.742" stop-color="#a8a8a8"/><stop offset="0.858" stop-color="#939393"/><stop offset="0.95" stop-color="#888888"/><stop offset="1" stop-color="#858585"/></linearGradient><linearGradient id="b5_3"><stop offset="0" stop-color="#7f7f7f"/><stop offset="0.15" stop-color="#838383"/><stop offset="0.225" stop-color="#898989"/><stop offset="0.292" stop-color="#929292"/><stop offset="0.475" stop-color="#b6b6b6"/><stop offset="0.533" stop-color="#bebebe"/><stop offset="0.567" stop-color="#c0c0c0"/><stop offset="0.633" stop-color="#bfbfbf"/><stop offset="0.692" stop-color="#b8b8b8"/><stop offset="0.883" stop-color="#939393"/><stop offset="0.95" stop-color="#8a8a8a"/><stop offset="1" stop-color="#868686"/></linearGradient><linearGradient id="b5_4"><stop offset="0" stop-color="#7f7f7f"/><stop offset="0.117" stop-color="#818181"/><stop offset="0.183" stop-color="#858585"/><stop offset="0.258" stop-color="#8e8e8e"/><stop offset="0.333" stop-color="#9c9c9c"/><stop offset="0.492" stop-color="#c4c4c4"/><stop offset="0.542" stop-color="#cdcdcd"/><stop offset="0.583" stop-color="#d1d1d1"/><stop offset="0.642" stop-color="#d0d0d0"/><stop offset="0.692" stop-color="#cacaca"/><stop offset="0.892" stop-color="#9a9a9a"/><stop offset="0.958" stop-color="#8e8e8e"/><stop offset="1" stop-color="#898989"/></linearGradient><linearGradient id="b5_5"><stop offset="0" stop-color="#7e7e7e"/><stop offset="0.0583" stop-color="#7e7e7e"/><stop offset="0.142" stop-color="#818181"/><stop offset="0.242" stop-color="#8b8b8b"/><stop offset="0.292" stop-color="#949494"/><stop offset="0.35" stop-color="#a2a2a2"/><stop offset="0.492" stop-color="#cecece"/><stop offset="0.55" stop-color="#dcdcdc"/><stop offset="0.608" stop-color="#e3e3e3"/><stop offset="0.65" stop-color="#e2e2e2"/><stop offset="0.692" stop-color="#dddddd"/><stop offset="0.717" stop-color="#d8d8d8"/><stop offset="0.758" stop-color="#cdcdcd"/><stop offset="0.892" stop-color="#a4a4a4"/><stop offset="0.95" stop-color="#969696"/><stop offset="1" stop-color="#8e8e8e"/></linearGradient><linearGradient id="b5_6"><stop offset="0" stop-color="#7c7c7c"/><stop offset="0.0917" stop-color="#7d7d7d"/><stop offset="0.167" stop-color="#818181"/><stop offset="0.217" stop-color="#868686"/><stop offset="0.267" stop-color="#8e8e8e"/><stop offset="0.317" stop-color="#999999"/><stop offset="0.358" stop-color="#a5a5a5"/><stop offset="0.517" stop-color="#dedede"/><stop offset="0.55" stop-color="#e8e8e8"/><stop offset="0.583" stop-color="#efefef"/><stop offset="0.625" stop-color="#f4f4f4"/><stop offset="0.65" stop-color="#f4f4f4"/><stop offset="0.692" stop-color="#f0f0f0"/><stop offset="0.742" stop-color="#e5e5e5"/><stop offset="0.9" stop-color="#adadad"/><stop offset="0.958" stop-color="#9c9c9c"/><stop offset="1" stop-color="#939393"/></linearGradient><linearGradient id="b5_7"><stop offset="0" stop-color="#7a7a7a"/><stop offset="0.0917" stop-color="#7a7a7a"/><stop offset="0.167" stop-color="#7e7e7e"/><stop offset="0.242" stop-color="#878787"/><stop offset="0.275" stop-color="#8d8d8d"/><stop offset="0.35" stop-color="#a1a1a1"/><stop offset="0.408" stop-color="#b6b6b6"/><stop offset="0.525" stop-color="#e7e7e7"/><stop offset="0.583" stop-color="#fafafa"/><stop offset="0.608" stop-color="#ffffff"/><stop offset="0.7" stop-color="#ffffff"/><stop offset="0.717" stop-color="#fdfdfd"/><stop offset="0.742" stop-color="#f7f7f7"/><stop offset="0.808" stop-color="#e0e0e0"/><stop offset="0.925" stop-color="#b0b0b0"/><stop offset="0.975" stop-color="#a0a0a0"/><stop offset="1" stop-color="#9a9a9a"/></linearGradient><linearGradient id="b5_8"><stop offset="0" stop-color="#767676"/><stop offset="0.1" stop-color="#767676"/><stop offset="0.158" stop-color="#797979"/><stop offset="0.233" stop-color="#818181"/><stop offset="0.267" stop-color="#878787"/><stop offset="0.325" stop-color="#959595"/><stop offset="0.392" stop-color="#acacac"/><stop offset="0.425" stop-color="#bababa"/><stop offset="0.525" stop-color="#e9e9e9"/><stop offset="0.558" stop-color="#f7f7f7"/><stop offset="0.583" stop-color="#ffffff"/><stop offset="0.767" stop-color="#ffffff"/><stop offset="0.833" stop-color="#e5e5e5"/><stop offset="0.933" stop-color="#b8b8b8"/><stop offset="1" stop-color="#a1a1a1"/></linearGradient><linearGradient id="b5_9"><stop offset="0" stop-color="#727272"/><stop offset="0.0667" stop-color="#707070"/><stop offset="0.15" stop-color="#727272"/><stop offset="0.242" stop-color="#7c7c7c"/><stop offset="0.308" stop-color="#8a8a8a"/><stop offset="0.342" stop-color="#949494"/><stop offset="0.408" stop-color="#adadad"/><stop offset="0.467" stop-color="#c8c8c8"/><stop offset="0.542" stop-color="#eeeeee"/><stop offset="0.583" stop-color="#ffffff"/><stop offset="0.8" stop-color="#ffffff"/><stop offset="0.842" stop-color="#eeeeee"/><stop offset="0.933" stop-color="#c2c2c2"/><stop offset="1" stop-color="#a8a8a8"/></linearGradient><linearGradient id="b5_10"><stop offset="0" stop-color="#6d6d6d"/><stop offset="0.0667" stop-color="#696969"/><stop offset="0.133" stop-color="#696969"/><stop offset="0.183" stop-color="#6c6c6c"/><stop offset="0.233" stop-color="#727272"/><stop offset="0.3" stop-color="#7f7f7f"/><stop offset="0.342" stop-color="#8b8b8b"/><stop offset="0.408" stop-color="#a4a4a4"/><stop offset="0.45" stop-color="#b7b7b7"/><stop offset="0.525" stop-color="#dedede"/><stop offset="0.592" stop-color="#fefefe"/><stop offset="0.6" stop-color="#ffffff"/><stop offset="0.825" stop-color="#fefefe"/><stop offset="0.95" stop-color="#c3c3c3"/><stop offset="1" stop-color="#aeaeae"/></linearGradient><linearGradient id="b5_11"><stop offset="0" stop-color="#666666"/><stop offset="0.075" stop-color="#606060"/><stop offset="0.15" stop-color="#5f5f5f"/><stop offset="0.183" stop-color="#616161"/><stop offset="0.242" stop-color="#686868"/><stop offset="0.308" stop-color="#767676"/><stop offset="0.367" stop-color="#888888"/><stop offset="0.417" stop-color="#9c9c9c"/><stop offset="0.492" stop-color="#c0c0c0"/><stop offset="0.55" stop-color="#dfdfdf"/><stop offset="0.6" stop-color="#f7f7f7"/><stop offset="0.617" stop-color="#fefefe"/><stop offset="0.625" stop-color="#ffffff"/><stop offset="0.833" stop-color="#fefefe"/><stop offset="0.875" stop-color="#ededed"/><stop offset="0.95" stop-color="#c9c9c9"/><stop offset="1" stop-color="#b4b4b4"/></linearGradient><linearGradient id="b5_12"><stop offset="0" stop-color="#5f5f5f"/><stop offset="0.0833" stop-color="#555555"/><stop offset="0.117" stop-color="#535353"/><stop offset="0.175" stop-color="#535353"/><stop offset="0.242" stop-color="#5a5a5a"/><stop offset="0.275" stop-color="#606060"/><stop offset="0.342" stop-color="#727272"/><stop offset="0.4" stop-color="#878787"/><stop offset="0.492" stop-color="#b1b1b1"/><stop offset="0.6" stop-color="#e8e8e8"/><stop offset="0.65" stop-color="#fcfcfc"/><stop offset="0.667" stop-color="#ffffff"/><stop offset="0.825" stop-color="#ffffff"/><stop offset="0.867" stop-color="#f1f1f1"/><stop offset="1" stop-color="#b7b7b7"/></linearGradient><linearGradient id="b5_13"><stop offset="0" stop-color="#585858"/><stop offset="0.0583" stop-color="#4d4d4d"/><stop offset="0.142" stop-color="#444444"/><stop offset="0.192" stop-color="#444444"/><stop offset="0.217" stop-color="#464646"/><stop offset="0.283" stop-color="#515151"/><stop offset="0.358" stop-color="#676767"/><stop offset="0.4" stop-color="#777777"/><stop offset="0.433" stop-color="#858585"/><stop offset="0.592" stop-color="#d2d2d2"/><stop offset="0.633" stop-color="#e4e4e4"/><stop offset="0.683" stop-color="#f5f5f5"/><stop offset="0.733" stop-color="#fefefe"/><stop offset="0.775" stop-color="#ffffff"/><stop offset="0.808" stop-color="#fbfbfb"/><stop offset="0.842" stop-color="#f4f4f4"/><stop offset="0.925" stop-color="#d7d7d7"/><stop offset="1" stop-color="#b8b8b8"/></linearGradient><linearGradient id="b5_14"><stop offset="0" stop-color="#515151"/><stop offset="0.0917" stop-color="#3c3c3c"/><stop offset="0.142" stop-color="#353535"/><stop offset="0.2" stop-color="#333333"/><stop offset="0.267" stop-color="#3b3b3b"/><stop offset="0.317" stop-color="#474747"/><stop offset="0.383" stop-color="#5e5e5e"/><stop offset="0.433" stop-color="#737373"/><stop offset="0.6" stop-color="#c2c2c2"/><stop offset="0.633" stop-color="#d0d0d0"/><stop offset="0.683" stop-color="#e1e1e1"/><stop offset="0.725" stop-color="#ebebeb"/><stop offset="0.75" stop-color="#eeeeee"/><stop offset="0.792" stop-color="#efefef"/><stop offset="0.842" stop-color="#e9e9e9"/><stop offset="0.9" stop-color="#dadada"/><stop offset="1" stop-color="#b7b7b7"/></linearGradient><linearGradient id="b5_15"><stop offset="0" stop-color="#4c4c4c"/><stop offset="0.075" stop-color="#353535"/><stop offset="0.15" stop-color="#252525"/><stop offset="0.2" stop-color="#212121"/><stop offset="0.242" stop-color="#232323"/><stop offset="0.308" stop-color="#303030"/><stop offset="0.375" stop-color="#474747"/><stop offset="0.433" stop-color="#606060"/><stop offset="0.567" stop-color="#9f9f9f"/><stop offset="0.625" stop-color="#b8b8b8"/><stop offset="0.675" stop-color="#cacaca"/><stop offset="0.717" stop-color="#d5d5d5"/><stop offset="0.758" stop-color="#dcdcdc"/><stop offset="0.792" stop-color="#dedede"/><stop offset="0.833" stop-color="#dcdcdc"/><stop offset="0.883" stop-color="#d4d4d4"/><stop offset="0.925" stop-color="#cacaca"/><stop offset="1" stop-color="#b3b3b3"/></linearGradient><linearGradient id="b5_16"><stop offset="0" stop-color="#484848"/><stop offset="0.1" stop-color="#252525"/><stop offset="0.158" stop-color="#161616"/><stop offset="0.208" stop-color="#101010"/><stop offset="0.25" stop-color="#111111"/><stop offset="0.275" stop-color="#141414"/><stop offset="0.317" stop-color="#1e1e1e"/><stop offset="0.367" stop-color="#2f2f2f"/><stop offset="0.4" stop-color="#3d3d3d"/><stop offset="0.567" stop-color="#8c8c8c"/><stop offset="0.617" stop-color="#a1a1a1"/><stop offset="0.667" stop-color="#b3b3b3"/><stop offset="0.733" stop-color="#c4c4c4"/><stop offset="0.8" stop-color="#cccccc"/><stop offset="0.858" stop-color="#cacaca"/><stop offset="0.908" stop-color="#c3c3c3"/><stop offset="1" stop-color="#aeaeae"/></linearGradient><linearGradient id="b5_17"><stop offset="0" stop-color="#474747"/><stop offset="0.075" stop-color="#282828"/><stop offset="0.158" stop-color="#0b0b0b"/><stop offset="0.192" stop-color="#040404"/><stop offset="0.225" stop-color="#000000"/><stop offset="0.267" stop-color="#010101"/><stop offset="0.317" stop-color="#0a0a0a"/><stop offset="0.367" stop-color="#1b1b1b"/><stop offset="0.408" stop-color="#2d2d2d"/><stop offset="0.567" stop-color="#7a7a7a"/><stop offset="0.6" stop-color="#888888"/><stop offset="0.642" stop-color="#989898"/><stop offset="0.717" stop-color="#aeaeae"/><stop offset="0.783" stop-color="#b9b9b9"/><stop offset="0.808" stop-color="#bbbbbb"/><stop offset="0.858" stop-color="#bbbbbb"/><stop offset="0.942" stop-color="#b2b2b2"/><stop offset="1" stop-color="#a7a7a7"/></linearGradient><linearGradient id="b5_18"><stop offset="0" stop-color="#484848"/><stop offset="0.133" stop-color="#0e0e0e"/><stop offset="0.175" stop-color="#000000"/><stop offset="0.333" stop-color="#000000"/><stop offset="0.35" stop-color="#030303"/><stop offset="0.4" stop-color="#171717"/><stop offset="0.508" stop-color="#4e4e4e"/><stop offset="0.6" stop-color="#787878"/><stop offset="0.658" stop-color="#8d8d8d"/><stop offset="0.7" stop-color="#999999"/><stop offset="0.758" stop-color="#a5a5a5"/><stop offset="0.825" stop-color="#acacac"/><stop offset="0.883" stop-color="#acacac"/><stop offset="0.917" stop-color="#aaaaaa"/><stop offset="1" stop-color="#a0a0a0"/></linearGradient><linearGradient id="b5_19"><stop offset="0" stop-color="#4b4b4b"/><stop offset="0.05" stop-color="#363636"/><stop offset="0.125" stop-color="#121212"/><stop offset="0.167" stop-color="#010101"/><stop offset="0.375" stop-color="#000000"/><stop offset="0.383" stop-color="#010101"/><stop offset="0.4" stop-color="#080808"/><stop offset="0.45" stop-color="#202020"/><stop offset="0.508" stop-color="#3f3f3f"/><stop offset="0.583" stop-color="#636363"/><stop offset="0.633" stop-color="#777777"/><stop offset="0.692" stop-color="#898989"/><stop offset="0.758" stop-color="#979797"/><stop offset="0.817" stop-color="#9e9e9e"/><stop offset="0.85" stop-color="#a0a0a0"/><stop offset="0.925" stop-color="#9f9f9f"/><stop offset="1" stop-color="#999999"/></linearGradient><linearGradient id="b5_20"><stop offset="0" stop-color="#515151"/><stop offset="0.05" stop-color="#3c3c3c"/><stop offset="0.175" stop-color="#010101"/><stop offset="0.4" stop-color="#000000"/><stop offset="0.408" stop-color="#010101"/><stop offset="0.475" stop-color="#212121"/><stop offset="0.55" stop-color="#484848"/><stop offset="0.592" stop-color="#5b5b5b"/><stop offset="0.658" stop-color="#747474"/><stop offset="0.7" stop-color="#808080"/><stop offset="0.742" stop-color="#898989"/><stop offset="0.817" stop-color="#939393"/><stop offset="0.867" stop-color="#969696"/><stop offset="0.933" stop-color="#969696"/><stop offset="1" stop-color="#929292"/></linearGradient><linearGradient id="b5_21"><stop offset="0" stop-color="#575757"/><stop offset="0.0667" stop-color="#3d3d3d"/><stop offset="0.158" stop-color="#111111"/><stop offset="0.2" stop-color="#000000"/><stop offset="0.417" stop-color="#000000"/><stop offset="0.458" stop-color="#111111"/><stop offset="0.533" stop-color="#373737"/><stop offset="0.592" stop-color="#525252"/><stop offset="0.658" stop-color="#6b6b6b"/><stop offset="0.692" stop-color="#757575"/><stop offset="0.758" stop-color="#838383"/><stop offset="0.85" stop-color="#8d8d8d"/><stop offset="0.908" stop-color="#8f8f8f"/><stop offset="1" stop-color="#8d8d8d"/></linearGradient><linearGradient id="b5_22"><stop offset="0" stop-color="#5e5e5e"/><stop offset="0.0667" stop-color="#474747"/><stop offset="0.167" stop-color="#1a1a1a"/><stop offset="0.233" stop-color="#000000"/><stop offset="0.417" stop-color="#000000"/><stop offset="0.442" stop-color="#080808"/><stop offset="0.475" stop-color="#161616"/><stop offset="0.575" stop-color="#454545"/><stop offset="0.608" stop-color="#535353"/><stop offset="0.675" stop-color="#6a6a6a"/><stop offset="0.733" stop-color="#787878"/><stop offset="0.767" stop-color="#7e7e7e"/><stop offset="0.842" stop-color="#868686"/><stop offset="0.9" stop-color="#898989"/><stop offset="1" stop-color="#898989"/></linearGradient><linearGradient id="b5_23"><stop offset="0" stop-color="#656565"/><stop offset="0.025" stop-color="#5f5f5f"/><stop offset="0.075" stop-color="#4f4f4f"/><stop offset="0.192" stop-color="#1f1f1f"/><stop offset="0.258" stop-color="#080808"/><stop offset="0.3" stop-color="#000000"/><stop offset="0.392" stop-color="#000000"/><stop offset="0.417" stop-color="#050505"/><stop offset="0.475" stop-color="#181818"/><stop offset="0.592" stop-color="#494949"/><stop offset="0.65" stop-color="#5e5e5e"/><stop offset="0.725" stop-color="#727272"/><stop offset="0.758" stop-color="#787878"/><stop offset="0.833" stop-color="#818181"/><stop offset="0.908" stop-color="#858585"/><stop offset="1" stop-color="#858585"/></linearGradient><linearGradient id="b5_24"><stop offset="0" stop-color="#6c6c6c"/><stop offset="0.0417" stop-color="#636363"/><stop offset="0.1" stop-color="#525252"/><stop offset="0.258" stop-color="#1a1a1a"/><stop offset="0.308" stop-color="#0f0f0f"/><stop offset="0.333" stop-color="#0c0c0c"/><stop offset="0.375" stop-color="#0b0b0b"/><stop offset="0.417" stop-color="#101010"/><stop offset="0.45" stop-color="#171717"/><stop offset="0.483" stop-color="#212121"/><stop offset="0.642" stop-color="#5a5a5a"/><stop offset="0.683" stop-color="#666666"/><stop offset="0.733" stop-color="#717171"/><stop offset="0.783" stop-color="#797979"/><stop offset="0.833" stop-color="#7e7e7e"/><stop offset="0.908" stop-color="#828282"/><stop offset="1" stop-color="#838383"/></linearGradient><linearGradient id="b5_25"><stop offset="0" stop-color="#717171"/><stop offset="0.05" stop-color="#696969"/><stop offset="0.108" stop-color="#5b5b5b"/><stop offset="0.242" stop-color="#323232"/><stop offset="0.283" stop-color="#272727"/><stop offset="0.308" stop-color="#222222"/><stop offset="0.35" stop-color="#1d1d1d"/><stop offset="0.392" stop-color="#1c1c1c"/><stop offset="0.45" stop-color="#232323"/><stop offset="0.508" stop-color="#313131"/><stop offset="0.65" stop-color="#5d5d5d"/><stop offset="0.708" stop-color="#6b6b6b"/><stop offset="0.758" stop-color="#747474"/><stop offset="0.858" stop-color="#7e7e7e"/><stop offset="0.942" stop-color="#818181"/><stop offset="1" stop-color="#818181"/></linearGradient><linearGradient id="b5_26"><stop offset="0" stop-color="#767676"/><stop offset="0.0417" stop-color="#717171"/><stop offset="0.108" stop-color="#656565"/><stop offset="0.308" stop-color="#353535"/><stop offset="0.358" stop-color="#2f2f2f"/><stop offset="0.417" stop-color="#2e2e2e"/><stop offset="0.458" stop-color="#323232"/><stop offset="0.508" stop-color="#3b3b3b"/><stop offset="0.667" stop-color="#636363"/><stop offset="0.742" stop-color="#717171"/><stop offset="0.817" stop-color="#7a7a7a"/><stop offset="0.883" stop-color="#7e7e7e"/><stop offset="1" stop-color="#808080"/></linearGradient><linearGradient id="b5_27"><stop offset="0" stop-color="#797979"/><stop offset="0.05" stop-color="#757575"/><stop offset="0.117" stop-color="#6c6c6c"/><stop offset="0.308" stop-color="#474747"/><stop offset="0.367" stop-color="#404040"/><stop offset="0.433" stop-color="#3f3f3f"/><stop offset="0.467" stop-color="#414141"/><stop offset="0.525" stop-color="#494949"/><stop offset="0.642" stop-color="#616161"/><stop offset="0.708" stop-color="#6d6d6d"/><stop offset="0.775" stop-color="#767676"/><stop offset="0.85" stop-color="#7c7c7c"/><stop offset="1" stop-color="#808080"/></linearGradient><linearGradient id="b5_28"><stop offset="0" stop-color="#7a7a7a"/><stop offset="0.05" stop-color="#777777"/><stop offset="0.142" stop-color="#6c6c6c"/><stop offset="0.258" stop-color="#575757"/><stop offset="0.358" stop-color="#494949"/><stop offset="0.383" stop-color="#474747"/><stop offset="0.45" stop-color="#474747"/><stop offset="0.542" stop-color="#515151"/><stop offset="0.7" stop-color="#6d6d6d"/><stop offset="0.783" stop-color="#777777"/><stop offset="0.85" stop-color="#7c7c7c"/><stop offset="1" stop-color="#808080"/></linearGradient><linearGradient id="b5_29"><stop offset="0" stop-color="#7a7a7a"/><stop offset="0.05" stop-color="#777777"/><stop offset="0.142" stop-color="#6c6c6c"/><stop offset="0.258" stop-color="#575757"/><stop offset="0.358" stop-color="#494949"/><stop offset="0.383" stop-color="#474747"/><stop offset="0.45" stop-color="#474747"/><stop offset="0.542" stop-color="#515151"/><stop offset="0.7" stop-color="#6d6d6d"/><stop offset="0.783" stop-color="#777777"/><stop offset="0.85" stop-color="#7c7c7c"/><stop offset="1" stop-color="#808080"/></linearGradient><linearGradient id="b5_30"><stop offset="0" stop-color="#7a7a7a"/><stop offset="0.05" stop-color="#777777"/><stop offset="0.142" stop-color="#6c6c6c"/><stop offset="0.258" stop-color="#575757"/><stop offset="0.358" stop-color="#494949"/><stop offset="0.383" stop-color="#474747"/><stop offset="0.45" stop-color="#474747"/><stop offset="0.542" stop-color="#515151"/><stop offset="0.7" stop-color="#6d6d6d"/><stop offset="0.783" stop-color="#777777"/><stop offset="0.85" stop-color="#7c7c7c"/><stop offset="1" stop-color="#808080"/></linearGradient><linearGradient id="b4_0"><stop offset="0" stop-color="#858585"/><stop offset="0.05" stop-color="#888888"/><stop offset="0.142" stop-color="#939393"/><stop offset="0.258" stop-color="#a8a8a8"/><stop offset="0.358" stop-color="#b6b6b6"/><stop offset="0.383" stop-color="#b8b8b8"/><stop offset="0.45" stop-color="#b8b8b8"/><stop offset="0.542" stop-color="#aeaeae"/><stop offset="0.7" stop-color="#929292"/><stop offset="0.783" stop-color="#888888"/><stop offset="0.9" stop-color="#818181"/><stop offset="1" stop-color="#808080"/></linearGradient><linearGradient id="b4_1"><stop offset="0" stop-color="#858585"/><stop offset="0.05" stop-color="#888888"/><stop offset="0.142" stop-color="#939393"/><stop offset="0.258" stop-color="#a8a8a8"/><stop offset="0.358" stop-color="#b6b6b6"/><stop offset="0.383" stop-color="#b8b8b8"/><stop offset="0.45" stop-color="#b8b8b8"/><stop offset="0.542" stop-color="#aeaeae"/><stop offset="0.7" stop-color="#929292"/><stop offset="0.783" stop-color="#888888"/><stop offset="0.9" stop-color="#818181"/><stop offset="1" stop-color="#808080"/></linearGradient><linearGradient id="b4_2"><stop offset="0" stop-color="#858585"/><stop offset="0.05" stop-color="#888888"/><stop offset="0.142" stop-color="#939393"/><stop offset="0.258" stop-color="#a8a8a8"/><stop offset="0.358" stop-color="#b6b6b6"/><stop offset="0.383" stop-color="#b8b8b8"/><stop offset="0.45" stop-color="#b8b8b8"/><stop offset="0.542" stop-color="#aeaeae"/><stop offset="0.7" stop-color="#929292"/><stop offset="0.783" stop-color="#888888"/><stop offset="0.9" stop-color="#818181"/><stop offset="1" stop-color="#808080"/></linearGradient><linearGradient id="b4_3"><stop offset="0" stop-color="#868686"/><stop offset="0.05" stop-color="#8a8a8a"/><stop offset="0.117" stop-color="#939393"/><stop offset="0.308" stop-color="#b8b8b8"/><stop offset="0.367" stop-color="#bfbfbf"/><stop offset="0.433" stop-color="#c0c0c0"/><stop offset="0.467" stop-color="#bebebe"/><stop offset="0.525" stop-color="#b6b6b6"/><stop offset="0.642" stop-color="#9e9e9e"/><stop offset="0.708" stop-color="#929292"/><stop offset="0.775" stop-color="#898989"/><stop offset="0.85" stop-color="#838383"/><stop offset="1" stop-color="#7f7f7f"/></linearGradient><linearGradient id="b4_4"><stop offset="0" stop-color="#898989"/><stop offset="0.0417" stop-color="#8e8e8e"/><stop offset="0.108" stop-color="#9a9a9a"/><stop offset="0.308" stop-color="#cacaca"/><stop offset="0.358" stop-color="#d0d0d0"/><stop offset="0.417" stop-color="#d1d1d1"/><stop offset="0.458" stop-color="#cdcdcd"/><stop offset="0.508" stop-color="#c4c4c4"/><stop offset="0.667" stop-color="#9c9c9c"/><stop offset="0.742" stop-color="#8e8e8e"/><stop offset="0.817" stop-color="#858585"/><stop offset="0.883" stop-color="#818181"/><stop offset="1" stop-color="#7f7f7f"/></linearGradient><linearGradient id="b4_5"><stop offset="0" stop-color="#8e8e8e"/><stop offset="0.05" stop-color="#969696"/><stop offset="0.108" stop-color="#a4a4a4"/><stop offset="0.242" stop-color="#cdcdcd"/><stop offset="0.283" stop-color="#d8d8d8"/><stop offset="0.308" stop-color="#dddddd"/><stop offset="0.35" stop-color="#e2e2e2"/><stop offset="0.392" stop-color="#e3e3e3"/><stop offset="0.45" stop-color="#dcdcdc"/><stop offset="0.508" stop-color="#cecece"/><stop offset="0.65" stop-color="#a2a2a2"/><stop offset="0.708" stop-color="#949494"/><stop offset="0.758" stop-color="#8b8b8b"/><stop offset="0.858" stop-color="#818181"/><stop offset="0.942" stop-color="#7e7e7e"/><stop offset="1" stop-color="#7e7e7e"/></linearGradient><linearGradient id="b4_6"><stop offset="0" stop-color="#939393"/><stop offset="0.0417" stop-color="#9c9c9c"/><stop offset="0.1" stop-color="#adadad"/><stop offset="0.258" stop-color="#e5e5e5"/><stop offset="0.308" stop-color="#f0f0f0"/><stop offset="0.333" stop-color="#f3f3f3"/><stop offset="0.375" stop-color="#f4f4f4"/><stop offset="0.417" stop-color="#efefef"/><stop offset="0.45" stop-color="#e8e8e8"/><stop offset="0.483" stop-color="#dedede"/><stop offset="0.642" stop-color="#a5a5a5"/><stop offset="0.683" stop-color="#999999"/><stop offset="0.733" stop-color="#8e8e8e"/><stop offset="0.783" stop-color="#868686"/><stop offset="0.833" stop-color="#818181"/><stop offset="0.908" stop-color="#7d7d7d"/><stop offset="1" stop-color="#7c7c7c"/></linearGradient><linearGradient id="b4_7"><stop offset="0" stop-color="#9a9a9a"/><stop offset="0.025" stop-color="#a0a0a0"/><stop offset="0.075" stop-color="#b0b0b0"/><stop offset="0.192" stop-color="#e0e0e0"/><stop offset="0.258" stop-color="#f7f7f7"/><stop offset="0.3" stop-color="#ffffff"/><stop offset="0.392" stop-color="#ffffff"/><stop offset="0.417" stop-color="#fafafa"/><stop offset="0.475" stop-color="#e7e7e7"/><stop offset="0.592" stop-color="#b6b6b6"/><stop offset="0.65" stop-color="#a1a1a1"/><stop offset="0.725" stop-color="#8d8d8d"/><stop offset="0.758" stop-color="#878787"/><stop offset="0.833" stop-color="#7e7e7e"/><stop offset="0.908" stop-color="#7a7a7a"/><stop offset="1" stop-color="#7a7a7a"/></linearGradient><linearGradient id="b4_8"><stop offset="0" stop-color="#a1a1a1"/><stop offset="0.0667" stop-color="#b8b8b8"/><stop offset="0.167" stop-color="#e5e5e5"/><stop offset="0.233" stop-color="#ffffff"/><stop offset="0.417" stop-color="#ffffff"/><stop offset="0.442" stop-color="#f7f7f7"/><stop offset="0.475" stop-color="#e9e9e9"/><stop offset="0.575" stop-color="#bababa"/><stop offset="0.608" stop-color="#acacac"/><stop offset="0.675" stop-color="#959595"/><stop offset="0.733" stop-color="#878787"/><stop offset="0.767" stop-color="#818181"/><stop offset="0.842" stop-color="#797979"/><stop offset="0.9" stop-color="#767676"/><stop offset="1" stop-color="#767676"/></linearGradient><linearGradient id="b4_9"><stop offset="0" stop-color="#a8a8a8"/><stop offset="0.0667" stop-color="#c2c2c2"/><stop offset="0.158" stop-color="#eeeeee"/><stop offset="0.2" stop-color="#ffffff"/><stop offset="0.417" stop-color="#ffffff"/><stop offset="0.458" stop-color="#eeeeee"/><stop offset="0.533" stop-color="#c8c8c8"/><stop offset="0.592" stop-color="#adadad"/><stop offset="0.658" stop-color="#949494"/><stop offset="0.692" stop-color="#8a8a8a"/><stop offset="0.758" stop-color="#7c7c7c"/><stop offset="0.85" stop-color="#727272"/><stop offset="0.908" stop-color="#707070"/><stop offset="1" stop-color="#727272"/></linearGradient><linearGradient id="b4_10"><stop offset="0" stop-color="#aeaeae"/><stop offset="0.05" stop-color="#c3c3c3"/><stop offset="0.175" stop-color="#fefefe"/><stop offset="0.4" stop-color="#ffffff"/><stop offset="0.408" stop-color="#fefefe"/><stop offset="0.475" stop-color="#dedede"/><stop offset="0.55" stop-color="#b7b7b7"/><stop offset="0.592" stop-color="#a4a4a4"/><stop offset="0.658" stop-color="#8b8b8b"/><stop offset="0.708" stop-color="#7d7d7d"/><stop offset="0.767" stop-color="#727272"/><stop offset="0.817" stop-color="#6c6c6c"/><stop offset="0.867" stop-color="#696969"/><stop offset="0.933" stop-color="#696969"/><stop offset="1" stop-color="#6d6d6d"/></linearGradient><linearGradient id="b4_11"><stop offset="0" stop-color="#b4b4b4"/><stop offset="0.05" stop-color="#c9c9c9"/><stop offset="0.125" stop-color="#ededed"/><stop offset="0.167" stop-color="#fefefe"/><stop offset="0.375" stop-color="#ffffff"/><stop offset="0.383" stop-color="#fefefe"/><stop offset="0.4" stop-color="#f7f7f7"/><stop offset="0.45" stop-color="#dfdfdf"/><stop offset="0.508" stop-color="#c0c0c0"/><stop offset="0.583" stop-color="#9c9c9c"/><stop offset="0.633" stop-color="#888888"/><stop offset="0.692" stop-color="#767676"/><stop offset="0.758" stop-color="#686868"/><stop offset="0.817" stop-color="#616161"/><stop offset="0.85" stop-color="#5f5f5f"/><stop offset="0.925" stop-color="#606060"/><stop offset="1" stop-color="#666666"/></linearGradient><linearGradient id="b4_12"><stop offset="0" stop-color="#b7b7b7"/><stop offset="0.133" stop-color="#f1f1f1"/><stop offset="0.175" stop-color="#ffffff"/><stop offset="0.333" stop-color="#ffffff"/><stop offset="0.35" stop-color="#fcfcfc"/><stop offset="0.4" stop-color="#e8e8e8"/><stop offset="0.508" stop-color="#b1b1b1"/><stop offset="0.583" stop-color="#8e8e8e"/><stop offset="0.658" stop-color="#727272"/><stop offset="0.692" stop-color="#686868"/><stop offset="0.758" stop-color="#5a5a5a"/><stop offset="0.825" stop-color="#535353"/><stop offset="0.883" stop-color="#535353"/><stop offset="0.917" stop-color="#555555"/><stop offset="1" stop-color="#5f5f5f"/></linearGradient><linearGradient id="b4_13"><stop offset="0" stop-color="#b8b8b8"/><stop offset="0.075" stop-color="#d7d7d7"/><stop offset="0.158" stop-color="#f4f4f4"/><stop offset="0.192" stop-color="#fbfbfb"/><stop offset="0.225" stop-color="#ffffff"/><stop offset="0.267" stop-color="#fefefe"/><stop offset="0.317" stop-color="#f5f5f5"/><stop offset="0.367" stop-color="#e4e4e4"/><stop offset="0.408" stop-color="#d2d2d2"/><stop offset="0.567" stop-color="#858585"/><stop offset="0.642" stop-color="#676767"/><stop offset="0.717" stop-color="#515151"/><stop offset="0.783" stop-color="#464646"/><stop offset="0.808" stop-color="#444444"/><stop offset="0.858" stop-color="#444444"/><stop offset="0.942" stop-color="#4d4d4d"/><stop offset="1" stop-color="#585858"/></linearGradient><linearGradient id="b4_14"><stop offset="0" stop-color="#b7b7b7"/><stop offset="0.1" stop-color="#dadada"/><stop offset="0.158" stop-color="#e9e9e9"/><stop offset="0.208" stop-color="#efefef"/><stop offset="0.25" stop-color="#eeeeee"/><stop offset="0.275" stop-color="#ebebeb"/><stop offset="0.317" stop-color="#e1e1e1"/><stop offset="0.367" stop-color="#d0d0d0"/><stop offset="0.4" stop-color="#c2c2c2"/><stop offset="0.525" stop-color="#868686"/><stop offset="0.617" stop-color="#5e5e5e"/><stop offset="0.667" stop-color="#4c4c4c"/><stop offset="0.733" stop-color="#3b3b3b"/><stop offset="0.8" stop-color="#333333"/><stop offset="0.858" stop-color="#353535"/><stop offset="0.908" stop-color="#3c3c3c"/><stop offset="1" stop-color="#515151"/></linearGradient><linearGradient id="b4_15"><stop offset="0" stop-color="#b3b3b3"/><stop offset="0.075" stop-color="#cacaca"/><stop offset="0.15" stop-color="#dadada"/><stop offset="0.208" stop-color="#dedede"/><stop offset="0.242" stop-color="#dcdcdc"/><stop offset="0.283" stop-color="#d5d5d5"/><stop offset="0.325" stop-color="#cacaca"/><stop offset="0.375" stop-color="#b8b8b8"/><stop offset="0.433" stop-color="#9f9f9f"/><stop offset="0.567" stop-color="#606060"/><stop offset="0.625" stop-color="#474747"/><stop offset="0.692" stop-color="#303030"/><stop offset="0.758" stop-color="#232323"/><stop offset="0.8" stop-color="#212121"/><stop offset="0.85" stop-color="#252525"/><stop offset="0.925" stop-color="#353535"/><stop offset="1" stop-color="#4c4c4c"/></linearGradient><linearGradient id="b4_16"><stop offset="0" stop-color="#aeaeae"/><stop offset="0.0917" stop-color="#c3c3c3"/><stop offset="0.142" stop-color="#cacaca"/><stop offset="0.2" stop-color="#cccccc"/><stop offset="0.267" stop-color="#c4c4c4"/><stop offset="0.317" stop-color="#b8b8b8"/><stop offset="0.383" stop-color="#a1a1a1"/><stop offset="0.433" stop-color="#8c8c8c"/><stop offset="0.6" stop-color="#3d3d3d"/><stop offset="0.633" stop-color="#2f2f2f"/><stop offset="0.683" stop-color="#1e1e1e"/><stop offset="0.725" stop-color="#141414"/><stop offset="0.75" stop-color="#111111"/><stop offset="0.792" stop-color="#101010"/><stop offset="0.842" stop-color="#161616"/><stop offset="0.9" stop-color="#252525"/><stop offset="1" stop-color="#484848"/></linearGradient><linearGradient id="b4_17"><stop offset="0" stop-color="#a7a7a7"/><stop offset="0.0583" stop-color="#b2b2b2"/><stop offset="0.142" stop-color="#bbbbbb"/><stop offset="0.192" stop-color="#bbbbbb"/><stop offset="0.217" stop-color="#b9b9b9"/><stop offset="0.283" stop-color="#aeaeae"/><stop offset="0.358" stop-color="#989898"/><stop offset="0.4" stop-color="#888888"/><stop offset="0.433" stop-color="#7a7a7a"/><stop offset="0.592" stop-color="#2d2d2d"/><stop offset="0.633" stop-color="#1b1b1b"/><stop offset="0.683" stop-color="#0a0a0a"/><stop offset="0.733" stop-color="#010101"/><stop offset="0.775" stop-color="#000000"/><stop offset="0.808" stop-color="#040404"/><stop offset="0.842" stop-color="#0b0b0b"/><stop offset="0.925" stop-color="#282828"/><stop offset="1" stop-color="#474747"/></linearGradient><linearGradient id="b4_18"><stop offset="0" stop-color="#a0a0a0"/><stop offset="0.0833" stop-color="#aaaaaa"/><stop offset="0.117" stop-color="#acacac"/><stop offset="0.175" stop-color="#acacac"/><stop offset="0.242" stop-color="#a5a5a5"/><stop offset="0.292" stop-color="#9b9b9b"/><stop offset="0.342" stop-color="#8d8d8d"/><stop offset="0.4" stop-color="#787878"/><stop offset="0.492" stop-color="#4e4e4e"/><stop offset="0.6" stop-color="#171717"/><stop offset="0.65" stop-color="#030303"/><stop offset="0.667" stop-color="#000000"/><stop offset="0.825" stop-color="#000000"/><stop offset="0.867" stop-color="#0e0e0e"/><stop offset="1" stop-color="#484848"/></linearGradient><linearGradient id="b4_19"><stop offset="0" stop-color="#999999"/><stop offset="0.075" stop-color="#9f9f9f"/><stop offset="0.15" stop-color="#a0a0a0"/><stop offset="0.183" stop-color="#9e9e9e"/><stop offset="0.242" stop-color="#979797"/><stop offset="0.308" stop-color="#898989"/><stop offset="0.367" stop-color="#777777"/><stop offset="0.417" stop-color="#636363"/><stop offset="0.492" stop-color="#3f3f3f"/><stop offset="0.55" stop-color="#202020"/><stop offset="0.6" stop-color="#080808"/><stop offset="0.617" stop-color="#010101"/><stop offset="0.625" stop-color="#000000"/><stop offset="0.833" stop-color="#010101"/><stop offset="0.875" stop-color="#121212"/><stop offset="0.95" stop-color="#363636"/><stop offset="1" stop-color="#4b4b4b"/></linearGradient><linearGradient id="b4_20"><stop offset="0" stop-color="#929292"/><stop offset="0.0667" stop-color="#969696"/><stop offset="0.133" stop-color="#969696"/><stop offset="0.183" stop-color="#939393"/><stop offset="0.233" stop-color="#8d8d8d"/><stop offset="0.292" stop-color="#828282"/><stop offset="0.342" stop-color="#747474"/><stop offset="0.408" stop-color="#5b5b5b"/><stop offset="0.45" stop-color="#484848"/><stop offset="0.525" stop-color="#212121"/><stop offset="0.592" stop-color="#010101"/><stop offset="0.6" stop-color="#000000"/><stop offset="0.825" stop-color="#010101"/><stop offset="0.95" stop-color="#3c3c3c"/><stop offset="1" stop-color="#515151"/></linearGradient><linearGradient id="b4_21"><stop offset="0" stop-color="#8d8d8d"/><stop offset="0.0667" stop-color="#8f8f8f"/><stop offset="0.15" stop-color="#8d8d8d"/><stop offset="0.242" stop-color="#838383"/><stop offset="0.308" stop-color="#757575"/><stop offset="0.342" stop-color="#6b6b6b"/><stop offset="0.408" stop-color="#525252"/><stop offset="0.467" stop-color="#373737"/><stop offset="0.542" stop-color="#111111"/><stop offset="0.583" stop-color="#000000"/><stop offset="0.8" stop-color="#000000"/><stop offset="0.842" stop-color="#111111"/><stop offset="0.933" stop-color="#3d3d3d"/><stop offset="1" stop-color="#575757"/></linearGradient><linearGradient id="b4_22"><stop offset="0" stop-color="#898989"/><stop offset="0.1" stop-color="#898989"/><stop offset="0.158" stop-color="#868686"/><stop offset="0.233" stop-color="#7e7e7e"/><stop offset="0.267" stop-color="#787878"/><stop offset="0.325" stop-color="#6a6a6a"/><stop offset="0.392" stop-color="#535353"/><stop offset="0.425" stop-color="#454545"/><stop offset="0.525" stop-color="#161616"/><stop offset="0.558" stop-color="#080808"/><stop offset="0.583" stop-color="#000000"/><stop offset="0.767" stop-color="#000000"/><stop offset="0.833" stop-color="#1a1a1a"/><stop offset="0.933" stop-color="#474747"/><stop offset="1" stop-color="#5e5e5e"/></linearGradient><linearGradient id="b4_23"><stop offset="0" stop-color="#858585"/><stop offset="0.0917" stop-color="#858585"/><stop offset="0.167" stop-color="#818181"/><stop offset="0.242" stop-color="#787878"/><stop offset="0.275" stop-color="#727272"/><stop offset="0.35" stop-color="#5e5e5e"/><stop offset="0.408" stop-color="#494949"/><stop offset="0.525" stop-color="#181818"/><stop offset="0.583" stop-color="#050505"/><stop offset="0.608" stop-color="#000000"/><stop offset="0.7" stop-color="#000000"/><stop offset="0.717" stop-color="#020202"/><stop offset="0.742" stop-color="#080808"/><stop offset="0.808" stop-color="#1f1f1f"/><stop offset="0.925" stop-color="#4f4f4f"/><stop offset="0.975" stop-color="#5f5f5f"/><stop offset="1" stop-color="#656565"/></linearGradient><linearGradient id="b4_24"><stop offset="0" stop-color="#838383"/><stop offset="0.0917" stop-color="#828282"/><stop offset="0.167" stop-color="#7e7e7e"/><stop offset="0.217" stop-color="#797979"/><stop offset="0.267" stop-color="#717171"/><stop offset="0.317" stop-color="#666666"/><stop offset="0.358" stop-color="#5a5a5a"/><stop offset="0.517" stop-color="#212121"/><stop offset="0.55" stop-color="#171717"/><stop offset="0.583" stop-color="#101010"/><stop offset="0.625" stop-color="#0b0b0b"/><stop offset="0.65" stop-color="#0b0b0b"/><stop offset="0.692" stop-color="#0f0f0f"/><stop offset="0.742" stop-color="#1a1a1a"/><stop offset="0.9" stop-color="#525252"/><stop offset="0.958" stop-color="#636363"/><stop offset="1" stop-color="#6c6c6c"/></linearGradient><linearGradient id="b4_25"><stop offset="0" stop-color="#818181"/><stop offset="0.0583" stop-color="#818181"/><stop offset="0.142" stop-color="#7e7e7e"/><stop offset="0.242" stop-color="#747474"/><stop offset="0.292" stop-color="#6b6b6b"/><stop offset="0.35" stop-color="#5d5d5d"/><stop offset="0.508" stop-color="#2d2d2d"/><stop offset="0.567" stop-color="#202020"/><stop offset="0.608" stop-color="#1c1c1c"/><stop offset="0.65" stop-color="#1d1d1d"/><stop offset="0.692" stop-color="#222222"/><stop offset="0.717" stop-color="#272727"/><stop offset="0.758" stop-color="#323232"/><stop offset="0.892" stop-color="#5b5b5b"/><stop offset="0.95" stop-color="#696969"/><stop offset="1" stop-color="#717171"/></linearGradient><linearGradient id="b4_26"><stop offset="0" stop-color="#808080"/><stop offset="0.117" stop-color="#7e7e7e"/><stop offset="0.183" stop-color="#7a7a7a"/><stop offset="0.258" stop-color="#717171"/><stop offset="0.333" stop-color="#636363"/><stop offset="0.492" stop-color="#3b3b3b"/><stop offset="0.542" stop-color="#323232"/><stop offset="0.583" stop-color="#2e2e2e"/><stop offset="0.642" stop-color="#2f2f2f"/><stop offset="0.692" stop-color="#353535"/><stop offset="0.892" stop-color="#656565"/><stop offset="0.958" stop-color="#717171"/><stop offset="1" stop-color="#767676"/></linearGradient><linearGradient id="b4_27"><stop offset="0" stop-color="#808080"/><stop offset="0.15" stop-color="#7c7c7c"/><stop offset="0.225" stop-color="#767676"/><stop offset="0.292" stop-color="#6d6d6d"/><stop offset="0.475" stop-color="#494949"/><stop offset="0.533" stop-color="#414141"/><stop offset="0.567" stop-color="#3f3f3f"/><stop offset="0.633" stop-color="#404040"/><stop offset="0.692" stop-color="#474747"/><stop offset="0.883" stop-color="#6c6c6c"/><stop offset="0.95" stop-color="#757575"/><stop offset="1" stop-color="#797979"/></linearGradient><linearGradient id="b4_28"><stop offset="0" stop-color="#7f7f7f"/><stop offset="0.1" stop-color="#7e7e7e"/><stop offset="0.217" stop-color="#777777"/><stop offset="0.3" stop-color="#6d6d6d"/><stop offset="0.458" stop-color="#515151"/><stop offset="0.55" stop-color="#474747"/><stop offset="0.617" stop-color="#474747"/><stop offset="0.642" stop-color="#494949"/><stop offset="0.742" stop-color="#575757"/><stop offset="0.858" stop-color="#6c6c6c"/><stop offset="0.95" stop-color="#777777"/><stop offset="1" stop-color="#7a7a7a"/></linearGradient><linearGradient id="b4_29"><stop offset="0" stop-color="#7f7f7f"/><stop offset="0.1" stop-color="#7e7e7e"/><stop offset="0.217" stop-color="#777777"/><stop offset="0.3" stop-color="#6d6d6d"/><stop offset="0.458" stop-color="#515151"/><stop offset="0.55" stop-color="#474747"/><stop offset="0.617" stop-color="#474747"/><stop offset="0.642" stop-color="#494949"/><stop offset="0.742" stop-color="#575757"/><stop offset="0.858" stop-color="#6c6c6c"/><stop offset="0.95" stop-color="#777777"/><stop offset="1" stop-color="#7a7a7a"/></linearGradient><linearGradient id="b4_30"><stop offset="0" stop-color="#7f7f7f"/><stop offset="0.1" stop-color="#7e7e7e"/><stop offset="0.217" stop-color="#777777"/><stop offset="0.3" stop-color="#6d6d6d"/><stop offset="0.458" stop-color="#515151"/><stop offset="0.55" stop-color="#474747"/><stop offset="0.617" stop-color="#474747"/><stop offset="0.642" stop-color="#494949"/><stop offset="0.742" stop-color="#575757"/><stop offset="0.858" stop-color="#6c6c6c"/><stop offset="0.95" stop-color="#777777"/><stop offset="1" stop-color="#7a7a7a"/></linearGradient><linearGradient id="b3_0"><stop offset="0" stop-color="#808080"/><stop offset="0.15" stop-color="#7c7c7c"/><stop offset="0.217" stop-color="#777777"/><stop offset="0.3" stop-color="#6d6d6d"/><stop offset="0.458" stop-color="#515151"/><stop offset="0.55" stop-color="#474747"/><stop offset="0.617" stop-color="#474747"/><stop offset="0.642" stop-color="#494949"/><stop offset="0.742" stop-color="#575757"/><stop offset="0.858" stop-color="#6c6c6c"/><stop offset="0.95" stop-color="#777777"/><stop offset="1" stop-color="#7a7a7a"/></linearGradient><linearGradient id="b3_1"><stop offset="0" stop-color="#808080"/><stop offset="0.15" stop-color="#7c7c7c"/><stop offset="0.217" stop-color="#777777"/><stop offset="0.3" stop-color="#6d6d6d"/><stop offset="0.458" stop-color="#515151"/><stop offset="0.55" stop-color="#474747"/><stop offset="0.617" stop-color="#474747"/><stop offset="0.642" stop-color="#494949"/><stop offset="0.742" stop-color="#575757"/><stop offset="0.858" stop-color="#6c6c6c"/><stop offset="0.95" stop-color="#777777"/><stop offset="1" stop-color="#7a7a7a"/></linearGradient><linearGradient id="b3_2"><stop offset="0" stop-color="#808080"/><stop offset="0.15" stop-color="#7c7c7c"/><stop offset="0.217" stop-color="#777777"/><stop offset="0.3" stop-color="#6d6d6d"/><stop offset="0.458" stop-color="#515151"/><stop offset="0.55" stop-color="#474747"/><stop offset="0.617" stop-color="#474747"/><stop offset="0.642" stop-color="#494949"/><stop offset="0.742" stop-color="#575757"/><stop offset="0.858" stop-color="#6c6c6c"/><stop offset="0.95" stop-color="#777777"/><stop offset="1" stop-color="#7a7a7a"/></linearGradient><linearGradient id="b3_3"><stop offset="0" stop-color="#808080"/><stop offset="0.15" stop-color="#7c7c7c"/><stop offset="0.225" stop-color="#767676"/><stop offset="0.292" stop-color="#6d6d6d"/><stop offset="0.475" stop-color="#494949"/><stop offset="0.533" stop-color="#414141"/><stop offset="0.567" stop-color="#3f3f3f"/><stop offset="0.633" stop-color="#404040"/><stop offset="0.692" stop-color="#474747"/><stop offset="0.883" stop-color="#6c6c6c"/><stop offset="0.95" stop-color="#757575"/><stop offset="1" stop-color="#797979"/></linearGradient><linearGradient id="b3_4"><stop offset="0" stop-color="#808080"/><stop offset="0.117" stop-color="#7e7e7e"/><stop offset="0.183" stop-color="#7a7a7a"/><stop offset="0.258" stop-color="#717171"/><stop offset="0.333" stop-color="#636363"/><stop offset="0.492" stop-color="#3b3b3b"/><stop offset="0.542" stop-color="#323232"/><stop offset="0.583" stop-color="#2e2e2e"/><stop offset="0.642" stop-color="#2f2f2f"/><stop offset="0.692" stop-color="#353535"/><stop offset="0.892" stop-color="#656565"/><stop offset="0.958" stop-color="#717171"/><stop offset="1" stop-color="#767676"/></linearGradient><linearGradient id="b3_5"><stop offset="0" stop-color="#818181"/><stop offset="0.0583" stop-color="#818181"/><stop offset="0.142" stop-color="#7e7e7e"/><stop offset="0.242" stop-color="#747474"/><stop offset="0.292" stop-color="#6b6b6b"/><stop offset="0.35" stop-color="#5d5d5d"/><stop offset="0.508" stop-color="#2d2d2d"/><stop offset="0.567" stop-color="#202020"/><stop offset="0.608" stop-color="#1c1c1c"/><stop offset="0.65" stop-color="#1d1d1d"/><stop offset="0.692" stop-color="#222222"/><stop offset="0.717" stop-color="#272727"/><stop offset="0.758" stop-color="#323232"/><stop offset="0.892" stop-color="#5b5b5b"/><stop offset="0.95" stop-color="#696969"/><stop offset="1" stop-color="#717171"/></linearGradient><linearGradient id="b3_6"><stop offset="0" stop-color="#838383"/><stop offset="0.0917" stop-color="#828282"/><stop offset="0.167" stop-color="#7e7e7e"/><stop offset="0.217" stop-color="#797979"/><stop offset="0.267" stop-color="#717171"/><stop offset="0.317" stop-color="#666666"/><stop offset="0.358" stop-color="#5a5a5a"/><stop offset="0.517" stop-color="#212121"/><stop offset="0.55" stop-color="#171717"/><stop offset="0.583" stop-color="#101010"/><stop offset="0.625" stop-color="#0b0b0b"/><stop offset="0.65" stop-color="#0b0b0b"/><stop offset="0.692" stop-color="#0f0f0f"/><stop offset="0.742" stop-color="#1a1a1a"/><stop offset="0.9" stop-color="#525252"/><stop offset="0.958" stop-color="#636363"/><stop offset="1" stop-color="#6c6c6c"/></linearGradient><linearGradient id="b3_7"><stop offset="0" stop-color="#858585"/><stop offset="0.0917" stop-color="#858585"/><stop offset="0.167" stop-color="#818181"/><stop offset="0.242" stop-color="#787878"/><stop offset="0.275" stop-color="#727272"/><stop offset="0.35" stop-color="#5e5e5e"/><stop offset="0.408" stop-color="#494949"/><stop offset="0.525" stop-color="#181818"/><stop offset="0.583" stop-color="#050505"/><stop offset="0.608" stop-color="#000000"/><stop offset="0.7" stop-color="#000000"/><stop offset="0.717" stop-color="#020202"/><stop offset="0.742" stop-color="#080808"/><stop offset="0.808" stop-color="#1f1f1f"/><stop offset="0.925" stop-color="#4f4f4f"/><stop offset="0.975" stop-color="#5f5f5f"/><stop offset="1" stop-color="#656565"/></linearGradient><linearGradient id="b3_8"><stop offset="0" stop-color="#898989"/><stop offset="0.1" stop-color="#898989"/><stop offset="0.158" stop-color="#868686"/><stop offset="0.233" stop-color="#7e7e7e"/><stop offset="0.267" stop-color="#787878"/><stop offset="0.325" stop-color="#6a6a6a"/><stop offset="0.392" stop-color="#535353"/><stop offset="0.425" stop-color="#454545"/><stop offset="0.525" stop-color="#161616"/><stop offset="0.558" stop-color="#080808"/><stop offset="0.583" stop-color="#000000"/><stop offset="0.767" stop-color="#000000"/><stop offset="0.833" stop-color="#1a1a1a"/><stop offset="0.933" stop-color="#474747"/><stop offset="1" stop-color="#5e5e5e"/></linearGradient><linearGradient id="b3_9"><stop offset="0" stop-color="#8d8d8d"/><stop offset="0.0667" stop-color="#8f8f8f"/><stop offset="0.15" stop-color="#8d8d8d"/><stop offset="0.242" stop-color="#838383"/><stop offset="0.308" stop-color="#757575"/><stop offset="0.342" stop-color="#6b6b6b"/><stop offset="0.408" stop-color="#525252"/><stop offset="0.467" stop-color="#373737"/><stop offset="0.542" stop-color="#111111"/><stop offset="0.583" stop-color="#000000"/><stop offset="0.8" stop-color="#000000"/><stop offset="0.842" stop-color="#111111"/><stop offset="0.933" stop-color="#3d3d3d"/><stop offset="1" stop-color="#575757"/></linearGradient><linearGradient id="b3_10"><stop offset="0" stop-color="#929292"/><stop offset="0.0667" stop-color="#969696"/><stop offset="0.133" stop-color="#969696"/><stop offset="0.183" stop-color="#939393"/><stop offset="0.233" stop-color="#8d8d8d"/><stop offset="0.3" stop-color="#808080"/><stop offset="0.342" stop-color="#747474"/><stop offset="0.408" stop-color="#5b5b5b"/><stop offset="0.45" stop-color="#484848"/><stop offset="0.525" stop-color="#212121"/><stop offset="0.592" stop-color="#010101"/><stop offset="0.6" stop-color="#000000"/><stop offset="0.825" stop-color="#010101"/><stop offset="0.95" stop-color="#3c3c3c"/><stop offset="1" stop-color="#515151"/></linearGradient><linearGradient id="b3_11"><stop offset="0" stop-color="#999999"/><stop offset="0.075" stop-color="#9f9f9f"/><stop offset="0.15" stop-color="#a0a0a0"/><stop offset="0.183" stop-color="#9e9e9e"/><stop offset="0.242" stop-color="#979797"/><stop offset="0.308" stop-color="#898989"/><stop offset="0.367" stop-color="#777777"/><stop offset="0.417" stop-color="#636363"/><stop offset="0.492" stop-color="#3f3f3f"/><stop offset="0.55" stop-color="#202020"/><stop offset="0.6" stop-color="#080808"/><stop offset="0.617" stop-color="#010101"/><stop offset="0.625" stop-color="#000000"/><stop offset="0.833" stop-color="#010101"/><stop offset="0.875" stop-color="#121212"/><stop offset="0.95" stop-color="#363636"/><stop offset="1" stop-color="#4b4b4b"/></linearGradient><linearGradient id="b3_12"><stop offset="0" stop-color="#a0a0a0"/><stop offset="0.0833" stop-color="#aaaaaa"/><stop offset="0.117" stop-color="#acacac"/><stop offset="0.175" stop-color="#acacac"/><stop offset="0.242" stop-color="#a5a5a5"/><stop offset="0.292" stop-color="#9b9b9b"/><stop offset="0.342" stop-color="#8d8d8d"/><stop offset="0.4" stop-color="#787878"/><stop offset="0.492" stop-color="#4e4e4e"/><stop offset="0.6" stop-color="#171717"/><stop offset="0.65" stop-color="#030303"/><stop offset="0.667" stop-color="#000000"/><stop offset="0.825" stop-color="#000000"/><stop offset="0.867" stop-color="#0e0e0e"/><stop offset="1" stop-color="#484848"/></linearGradient><linearGradient id="b3_13"><stop offset="0" stop-color="#a7a7a7"/><stop offset="0.0583" stop-color="#b2b2b2"/><stop offset="0.142" stop-color="#bbbbbb"/><stop offset="0.192" stop-color="#bbbbbb"/><stop offset="0.217" stop-color="#b9b9b9"/><stop offset="0.283" stop-color="#aeaeae"/><stop offset="0.358" stop-color="#989898"/><stop offset="0.4" stop-color="#888888"/><stop offset="0.433" stop-color="#7a7a7a"/><stop offset="0.592" stop-color="#2d2d2d"/><stop offset="0.633" stop-color="#1b1b1b"/><stop offset="0.683" stop-color="#0a0a0a"/><stop offset="0.733" stop-color="#010101"/><stop offset="0.775" stop-color="#000000"/><stop offset="0.808" stop-color="#040404"/><stop offset="0.842" stop-color="#0b0b0b"/><stop offset="0.925" stop-color="#282828"/><stop offset="1" stop-color="#474747"/></linearGradient><linearGradient id="b3_14"><stop offset="0" stop-color="#aeaeae"/><stop offset="0.0917" stop-color="#c3c3c3"/><stop offset="0.142" stop-color="#cacaca"/><stop offset="0.2" stop-color="#cccccc"/><stop offset="0.267" stop-color="#c4c4c4"/><stop offset="0.317" stop-color="#b8b8b8"/><stop offset="0.383" stop-color="#a1a1a1"/><stop offset="0.433" stop-color="#8c8c8c"/><stop offset="0.6" stop-color="#3d3d3d"/><stop offset="0.633" stop-color="#2f2f2f"/><stop offset="0.683" stop-color="#1e1e1e"/><stop offset="0.725" stop-color="#141414"/><stop offset="0.75" stop-color="#111111"/><stop offset="0.792" stop-color="#101010"/><stop offset="0.842" stop-color="#161616"/><stop offset="0.9" stop-color="#252525"/><stop offset="1" stop-color="#484848"/></linearGradient><linearGradient id="b3_15"><stop offset="0" stop-color="#b3b3b3"/><stop offset="0.075" stop-color="#cacaca"/><stop offset="0.15" stop-color="#dadada"/><stop offset="0.208" stop-color="#dedede"/><stop offset="0.242" stop-color="#dcdcdc"/><stop offset="0.283" stop-color="#d5d5d5"/><stop offset="0.325" stop-color="#cacaca"/><stop offset="0.375" stop-color="#b8b8b8"/><stop offset="0.433" stop-color="#9f9f9f"/><stop offset="0.567" stop-color="#606060"/><stop offset="0.625" stop-color="#474747"/><stop offset="0.692" stop-color="#303030"/><stop offset="0.758" stop-color="#232323"/><stop offset="0.8" stop-color="#212121"/><stop offset="0.85" stop-color="#252525"/><stop offset="0.925" stop-color="#353535"/><stop offset="1" stop-color="#4c4c4c"/></linearGradient><linearGradient id="b3_16"><stop offset="0" stop-color="#b7b7b7"/><stop offset="0.1" stop-color="#dadada"/><stop offset="0.158" stop-color="#e9e9e9"/><stop offset="0.208" stop-color="#efefef"/><stop offset="0.25" stop-color="#eeeeee"/><stop offset="0.275" stop-color="#ebebeb"/><stop offset="0.317" stop-color="#e1e1e1"/><stop offset="0.367" stop-color="#d0d0d0"/><stop offset="0.4" stop-color="#c2c2c2"/><stop offset="0.525" stop-color="#868686"/><stop offset="0.617" stop-color="#5e5e5e"/><stop offset="0.667" stop-color="#4c4c4c"/><stop offset="0.733" stop-color="#3b3b3b"/><stop offset="0.8" stop-color="#333333"/><stop offset="0.858" stop-color="#353535"/><stop offset="0.908" stop-color="#3c3c3c"/><stop offset="1" stop-color="#515151"/></linearGradient><linearGradient id="b3_17"><stop offset="0" stop-color="#b8b8b8"/><stop offset="0.075" stop-color="#d7d7d7"/><stop offset="0.158" stop-color="#f4f4f4"/><stop offset="0.192" stop-color="#fbfbfb"/><stop offset="0.225" stop-color="#ffffff"/><stop offset="0.267" stop-color="#fefefe"/><stop offset="0.317" stop-color="#f5f5f5"/><stop offset="0.367" stop-color="#e4e4e4"/><stop offset="0.408" stop-color="#d2d2d2"/><stop offset="0.567" stop-color="#858585"/><stop offset="0.642" stop-color="#676767"/><stop offset="0.717" stop-color="#515151"/><stop offset="0.783" stop-color="#464646"/><stop offset="0.808" stop-color="#444444"/><stop offset="0.858" stop-color="#444444"/><stop offset="0.942" stop-color="#4d4d4d"/><stop offset="1" stop-color="#585858"/></linearGradient><linearGradient id="b3_18"><stop offset="0" stop-color="#b7b7b7"/><stop offset="0.133" stop-color="#f1f1f1"/><stop offset="0.175" stop-color="#ffffff"/><stop offset="0.333" stop-color="#ffffff"/><stop offset="0.35" stop-color="#fcfcfc"/><stop offset="0.4" stop-color="#e8e8e8"/><stop offset="0.508" stop-color="#b1b1b1"/><stop offset="0.583" stop-color="#8e8e8e"/><stop offset="0.658" stop-color="#727272"/><stop offset="0.692" stop-color="#686868"/><stop offset="0.758" stop-color="#5a5a5a"/><stop offset="0.825" stop-color="#535353"/><stop offset="0.883" stop-color="#535353"/><stop offset="0.917" stop-color="#555555"/><stop offset="1" stop-color="#5f5f5f"/></linearGradient><linearGradient id="b3_19"><stop offset="0" stop-color="#b4b4b4"/><stop offset="0.05" stop-color="#c9c9c9"/><stop offset="0.125" stop-color="#ededed"/><stop offset="0.167" stop-color="#fefefe"/><stop offset="0.375" stop-color="#ffffff"/><stop offset="0.383" stop-color="#fefefe"/><stop offset="0.4" stop-color="#f7f7f7"/><stop offset="0.45" stop-color="#dfdfdf"/><stop offset="0.508" stop-color="#c0c0c0"/><stop offset="0.583" stop-color="#9c9c9c"/><stop offset="0.633" stop-color="#888888"/><stop offset="0.692" stop-color="#767676"/><stop offset="0.758" stop-color="#686868"/><stop offset="0.817" stop-color="#616161"/><stop offset="0.85" stop-color="#5f5f5f"/><stop offset="0.925" stop-color="#606060"/><stop offset="1" stop-color="#666666"/></linearGradient><linearGradient id="b3_20"><stop offset="0" stop-color="#aeaeae"/><stop offset="0.05" stop-color="#c3c3c3"/><stop offset="0.175" stop-color="#fefefe"/><stop offset="0.4" stop-color="#ffffff"/><stop offset="0.408" stop-color="#fefefe"/><stop offset="0.475" stop-color="#dedede"/><stop offset="0.55" stop-color="#b7b7b7"/><stop offset="0.592" stop-color="#a4a4a4"/><stop offset="0.658" stop-color="#8b8b8b"/><stop offset="0.7" stop-color="#7f7f7f"/><stop offset="0.742" stop-color="#767676"/><stop offset="0.817" stop-color="#6c6c6c"/><stop offset="0.867" stop-color="#696969"/><stop offset="0.933" stop-color="#696969"/><stop offset="1" stop-color="#6d6d6d"/></linearGradient><linearGradient id="b3_21"><stop offset="0" stop-color="#a8a8a8"/><stop offset="0.0667" stop-color="#c2c2c2"/><stop offset="0.158" stop-color="#eeeeee"/><stop offset="0.2" stop-color="#ffffff"/><stop offset="0.417" stop-color="#ffffff"/><stop offset="0.458" stop-color="#eeeeee"/><stop offset="0.533" stop-color="#c8c8c8"/><stop offset="0.592" stop-color="#adadad"/><stop offset="0.658" stop-color="#949494"/><stop offset="0.692" stop-color="#8a8a8a"/><stop offset="0.758" stop-color="#7c7c7c"/><stop offset="0.85" stop-color="#727272"/><stop offset="0.908" stop-color="#707070"/><stop offset="1" stop-color="#727272"/></linearGradient><linearGradient id="b3_22"><stop offset="0" stop-color="#a1a1a1"/><stop offset="0.0667" stop-color="#b8b8b8"/><stop offset="0.167" stop-color="#e5e5e5"/><stop offset="0.233" stop-color="#ffffff"/><stop offset="0.417" stop-color="#ffffff"/><stop offset="0.442" stop-color="#f7f7f7"/><stop offset="0.475" stop-color="#e9e9e9"/><stop offset="0.575" stop-color="#bababa"/><stop offset="0.608" stop-color="#acacac"/><stop offset="0.675" stop-color="#959595"/><stop offset="0.733" stop-color="#878787"/><stop offset="0.767" stop-color="#818181"/><stop offset="0.842" stop-color="#797979"/><stop offset="0.9" stop-color="#767676"/><stop offset="1" stop-color="#767676"/></linearGradient><linearGradient id="b3_23"><stop offset="0" stop-color="#9a9a9a"/><stop offset="0.025" stop-color="#a0a0a0"/><stop offset="0.075" stop-color="#b0b0b0"/><stop offset="0.192" stop-color="#e0e0e0"/><stop offset="0.258" stop-color="#f7f7f7"/><stop offset="0.3" stop-color="#ffffff"/><stop offset="0.392" stop-color="#ffffff"/><stop offset="0.417" stop-color="#fafafa"/><stop offset="0.475" stop-color="#e7e7e7"/><stop offset="0.592" stop-color="#b6b6b6"/><stop offset="0.65" stop-color="#a1a1a1"/><stop offset="0.725" stop-color="#8d8d8d"/><stop offset="0.758" stop-color="#878787"/><stop offset="0.833" stop-color="#7e7e7e"/><stop offset="0.908" stop-color="#7a7a7a"/><stop offset="1" stop-color="#7a7a7a"/></linearGradient><linearGradient id="b3_24"><stop offset="0" stop-color="#939393"/><stop offset="0.0417" stop-color="#9c9c9c"/><stop offset="0.1" stop-color="#adadad"/><stop offset="0.258" stop-color="#e5e5e5"/><stop offset="0.308" stop-color="#f0f0f0"/><stop offset="0.333" stop-color="#f3f3f3"/><stop offset="0.375" stop-color="#f4f4f4"/><stop offset="0.417" stop-color="#efefef"/><stop offset="0.45" stop-color="#e8e8e8"/><stop offset="0.483" stop-color="#dedede"/><stop offset="0.642" stop-color="#a5a5a5"/><stop offset="0.683" stop-color="#999999"/><stop offset="0.733" stop-color="#8e8e8e"/><stop offset="0.783" stop-color="#868686"/><stop offset="0.833" stop-color="#818181"/><stop offset="0.908" stop-color="#7d7d7d"/><stop offset="1" stop-color="#7c7c7c"/></linearGradient><linearGradient id="b3_25"><stop offset="0" stop-color="#8e8e8e"/><stop offset="0.05" stop-color="#969696"/><stop offset="0.108" stop-color="#a4a4a4"/><stop offset="0.242" stop-color="#cdcdcd"/><stop offset="0.283" stop-color="#d8d8d8"/><stop offset="0.308" stop-color="#dddddd"/><stop offset="0.35" stop-color="#e2e2e2"/><stop offset="0.392" stop-color="#e3e3e3"/><stop offset="0.45" stop-color="#dcdcdc"/><stop offset="0.508" stop-color="#cecece"/><stop offset="0.65" stop-color="#a2a2a2"/><stop offset="0.708" stop-color="#949494"/><stop offset="0.758" stop-color="#8b8b8b"/><stop offset="0.858" stop-color="#818181"/><stop offset="0.942" stop-color="#7e7e7e"/><stop offset="1" stop-color="#7e7e7e"/></linearGradient><linearGradient id="b3_26"><stop offset="0" stop-color="#898989"/><stop offset="0.0417" stop-color="#8e8e8e"/><stop offset="0.108" stop-color="#9a9a9a"/><stop offset="0.308" stop-color="#cacaca"/><stop offset="0.358" stop-color="#d0d0d0"/><stop offset="0.417" stop-color="#d1d1d1"/><stop offset="0.458" stop-color="#cdcdcd"/><stop offset="0.508" stop-color="#c4c4c4"/><stop offset="0.667" stop-color="#9c9c9c"/><stop offset="0.742" stop-color="#8e8e8e"/><stop offset="0.817" stop-color="#858585"/><stop offset="0.883" stop-color="#818181"/><stop offset="1" stop-color="#7f7f7f"/></linearGradient><linearGradient id="b3_27"><stop offset="0" stop-color="#868686"/><stop offset="0.05" stop-color="#8a8a8a"/><stop offset="0.117" stop-color="#939393"/><stop offset="0.308" stop-color="#b8b8b8"/><stop offset="0.367" stop-color="#bfbfbf"/><stop offset="0.433" stop-color="#c0c0c0"/><stop offset="0.467" stop-color="#bebebe"/><stop offset="0.525" stop-color="#b6b6b6"/><stop offset="0.642" stop-color="#9e9e9e"/><stop offset="0.708" stop-color="#929292"/><stop offset="0.775" stop-color="#898989"/><stop offset="0.85" stop-color="#838383"/><stop offset="1" stop-color="#7f7f7f"/></linearGradient><linearGradient id="b3_28"><stop offset="0" stop-color="#858585"/><stop offset="0.05" stop-color="#888888"/><stop offset="0.142" stop-color="#939393"/><stop offset="0.258" stop-color="#a8a8a8"/><stop offset="0.358" stop-color="#b6b6b6"/><stop offset="0.383" stop-color="#b8b8b8"/><stop offset="0.45" stop-color="#b8b8b8"/><stop offset="0.542" stop-color="#aeaeae"/><stop offset="0.7" stop-color="#929292"/><stop offset="0.783" stop-color="#888888"/><stop offset="0.85" stop-color="#838383"/><stop offset="1" stop-color="#7f7f7f"/></linearGradient><linearGradient id="b3_29"><stop offset="0" stop-color="#858585"/><stop offset="0.05" stop-color="#888888"/><stop offset="0.142" stop-color="#939393"/><stop offset="0.258" stop-color="#a8a8a8"/><stop offset="0.358" stop-color="#b6b6b6"/><stop offset="0.383" stop-color="#b8b8b8"/><stop offset="0.45" stop-color="#b8b8b8"/><stop offset="0.542" stop-color="#aeaeae"/><stop offset="0.7" stop-color="#929292"/><stop offset="0.783" stop-color="#888888"/><stop offset="0.85" stop-color="#838383"/><stop offset="1" stop-color="#7f7f7f"/></linearGradient><linearGradient id="b3_30"><stop offset="0" stop-color="#858585"/><stop offset="0.05" stop-color="#888888"/><stop offset="0.142" stop-color="#939393"/><stop offset="0.258" stop-color="#a8a8a8"/><stop offset="0.358" stop-color="#b6b6b6"/><stop offset="0.383" stop-color="#b8b8b8"/><stop offset="0.45" stop-color="#b8b8b8"/><stop offset="0.542" stop-color="#aeaeae"/><stop offset="0.7" stop-color="#929292"/><stop offset="0.783" stop-color="#888888"/><stop offset="0.85" stop-color="#838383"/><stop offset="1" stop-color="#7f7f7f"/></linearGradient><linearGradient id="b2_0"><stop offset="0" stop-color="#7b7b7b"/><stop offset="0.0917" stop-color="#757575"/><stop offset="0.167" stop-color="#6c6c6c"/><stop offset="0.325" stop-color="#555555"/><stop offset="0.392" stop-color="#505050"/><stop offset="0.442" stop-color="#505050"/><stop offset="0.492" stop-color="#535353"/><stop offset="0.567" stop-color="#5c5c5c"/><stop offset="0.683" stop-color="#6e6e6e"/><stop offset="0.775" stop-color="#787878"/><stop offset="0.883" stop-color="#7e7e7e"/><stop offset="1" stop-color="#808080"/></linearGradient><linearGradient id="b2_1"><stop offset="0" stop-color="#7b7b7b"/><stop offset="0.0917" stop-color="#757575"/><stop offset="0.167" stop-color="#6c6c6c"/><stop offset="0.325" stop-color="#555555"/><stop offset="0.392" stop-color="#505050"/><stop offset="0.442" stop-color="#505050"/><stop offset="0.492" stop-color="#535353"/><stop offset="0.567" stop-color="#5c5c5c"/><stop offset="0.683" stop-color="#6e6e6e"/><stop offset="0.775" stop-color="#787878"/><stop offset="0.883" stop-color="#7e7e7e"/><stop offset="1" stop-color="#808080"/></linearGradient><linearGradient id="b2_2"><stop offset="0" stop-color="#7b7b7b"/><stop offset="0.0917" stop-color="#757575"/><stop offset="0.167" stop-color="#6c6c6c"/><stop offset="0.325" stop-color="#555555"/><stop offset="0.392" stop-color="#505050"/><stop offset="0.442" stop-color="#505050"/><stop offset="0.492" stop-color="#535353"/><stop offset="0.567" stop-color="#5c5c5c"/><stop offset="0.683" stop-color="#6e6e6e"/><stop offset="0.775" stop-color="#787878"/><stop offset="0.883" stop-color="#7e7e7e"/><stop offset="1" stop-color="#808080"/></linearGradient><linearGradient id="b2_3"><stop offset="0" stop-color="#7a7a7a"/><stop offset="0.0583" stop-color="#767676"/><stop offset="0.133" stop-color="#6d6d6d"/><stop offset="0.275" stop-color="#555555"/><stop offset="0.358" stop-color="#4b4b4b"/><stop offset="0.417" stop-color="#494949"/><stop offset="0.483" stop-color="#4d4d4d"/><stop offset="0.525" stop-color="#525252"/><stop offset="0.658" stop-color="#696969"/><stop offset="0.758" stop-color="#767676"/><stop offset="0.858" stop-color="#7d7d7d"/><stop offset="1" stop-color="#808080"/></linearGradient><linearGradient id="b2_4"><stop offset="0" stop-color="#777777"/><stop offset="0.1" stop-color="#6b6b6b"/><stop offset="0.292" stop-color="#444444"/><stop offset="0.35" stop-color="#3d3d3d"/><stop offset="0.4" stop-color="#3b3b3b"/><stop offset="0.475" stop-color="#414141"/><stop offset="0.542" stop-color="#4d4d4d"/><stop offset="0.683" stop-color="#6b6b6b"/><stop offset="0.792" stop-color="#797979"/><stop offset="0.892" stop-color="#7f7f7f"/><stop offset="1" stop-color="#808080"/></linearGradient><linearGradient id="b2_5"><stop offset="0" stop-color="#747474"/><stop offset="0.1" stop-color="#636363"/><stop offset="0.258" stop-color="#3b3b3b"/><stop offset="0.3" stop-color="#333333"/><stop offset="0.35" stop-color="#2d2d2d"/><stop offset="0.4" stop-color="#2d2d2d"/><stop offset="0.442" stop-color="#313131"/><stop offset="0.5" stop-color="#3c3c3c"/><stop offset="0.65" stop-color="#636363"/><stop offset="0.742" stop-color="#747474"/><stop offset="0.817" stop-color="#7c7c7c"/><stop offset="0.867" stop-color="#7f7f7f"/><stop offset="1" stop-color="#818181"/></linearGradient><linearGradient id="b2_6"><stop offset="0" stop-color="#6f6f6f"/><stop offset="0.05" stop-color="#666666"/><stop offset="0.0833" stop-color="#5e5e5e"/><stop offset="0.217" stop-color="#363636"/><stop offset="0.267" stop-color="#292929"/><stop offset="0.292" stop-color="#242424"/><stop offset="0.333" stop-color="#1f1f1f"/><stop offset="0.358" stop-color="#1e1e1e"/><stop offset="0.383" stop-color="#1f1f1f"/><stop offset="0.433" stop-color="#252525"/><stop offset="0.492" stop-color="#333333"/><stop offset="0.625" stop-color="#5c5c5c"/><stop offset="0.7" stop-color="#6e6e6e"/><stop offset="0.733" stop-color="#747474"/><stop offset="0.808" stop-color="#7d7d7d"/><stop offset="0.85" stop-color="#808080"/><stop offset="0.933" stop-color="#838383"/><stop offset="1" stop-color="#838383"/></linearGradient><linearGradient id="b2_7"><stop offset="0" stop-color="#6a6a6a"/><stop offset="0.0583" stop-color="#5c5c5c"/><stop offset="0.0917" stop-color="#525252"/><stop offset="0.192" stop-color="#2f2f2f"/><stop offset="0.242" stop-color="#202020"/><stop offset="0.283" stop-color="#171717"/><stop offset="0.325" stop-color="#121212"/><stop offset="0.358" stop-color="#121212"/><stop offset="0.392" stop-color="#151515"/><stop offset="0.458" stop-color="#242424"/><stop offset="0.608" stop-color="#585858"/><stop offset="0.642" stop-color="#626262"/><stop offset="0.725" stop-color="#757575"/><stop offset="0.8" stop-color="#7f7f7f"/><stop offset="0.85" stop-color="#838383"/><stop offset="0.967" stop-color="#868686"/><stop offset="1" stop-color="#858585"/></linearGradient><linearGradient id="b2_8"><stop offset="0" stop-color="#646464"/><stop offset="0.05" stop-color="#565656"/><stop offset="0.2" stop-color="#1f1f1f"/><stop offset="0.233" stop-color="#151515"/><stop offset="0.258" stop-color="#0f0f0f"/><stop offset="0.3" stop-color="#090909"/><stop offset="0.342" stop-color="#080808"/><stop offset="0.383" stop-color="#0d0d0d"/><stop offset="0.425" stop-color="#171717"/><stop offset="0.492" stop-color="#2e2e2e"/><stop offset="0.608" stop-color="#5b5b5b"/><stop offset="0.658" stop-color="#6a6a6a"/><stop offset="0.708" stop-color="#767676"/><stop offset="0.742" stop-color="#7c7c7c"/><stop offset="0.817" stop-color="#858585"/><stop offset="0.892" stop-color="#898989"/><stop offset="1" stop-color="#898989"/></linearGradient><linearGradient id="b2_9"><stop offset="0" stop-color="#5e5e5e"/><stop offset="0.075" stop-color="#454545"/><stop offset="0.142" stop-color="#2a2a2a"/><stop offset="0.208" stop-color="#121212"/><stop offset="0.258" stop-color="#060606"/><stop offset="0.292" stop-color="#020202"/><stop offset="0.325" stop-color="#020202"/><stop offset="0.375" stop-color="#090909"/><stop offset="0.408" stop-color="#121212"/><stop offset="0.467" stop-color="#272727"/><stop offset="0.567" stop-color="#515151"/><stop offset="0.625" stop-color="#666666"/><stop offset="0.658" stop-color="#707070"/><stop offset="0.708" stop-color="#7c7c7c"/><stop offset="0.775" stop-color="#878787"/><stop offset="0.842" stop-color="#8d8d8d"/><stop offset="0.9" stop-color="#8f8f8f"/><stop offset="1" stop-color="#8d8d8d"/></linearGradient><linearGradient id="b2_10"><stop offset="0" stop-color="#585858"/><stop offset="0.0583" stop-color="#444444"/><stop offset="0.142" stop-color="#222222"/><stop offset="0.2" stop-color="#0e0e0e"/><stop offset="0.25" stop-color="#030303"/><stop offset="0.3" stop-color="#000000"/><stop offset="0.333" stop-color="#030303"/><stop offset="0.383" stop-color="#0e0e0e"/><stop offset="0.442" stop-color="#232323"/><stop offset="0.567" stop-color="#595959"/><stop offset="0.642" stop-color="#737373"/><stop offset="0.717" stop-color="#868686"/><stop offset="0.75" stop-color="#8c8c8c"/><stop offset="0.808" stop-color="#939393"/><stop offset="0.858" stop-color="#969696"/><stop offset="0.933" stop-color="#969696"/><stop offset="1" stop-color="#939393"/></linearGradient><linearGradient id="b2_11"><stop offset="0" stop-color="#545454"/><stop offset="0.0583" stop-color="#3f3f3f"/><stop offset="0.133" stop-color="#212121"/><stop offset="0.175" stop-color="#131313"/><stop offset="0.225" stop-color="#070707"/><stop offset="0.267" stop-color="#030303"/><stop offset="0.3" stop-color="#040404"/><stop offset="0.333" stop-color="#090909"/><stop offset="0.367" stop-color="#111111"/><stop offset="0.425" stop-color="#262626"/><stop offset="0.525" stop-color="#525252"/><stop offset="0.592" stop-color="#6d6d6d"/><stop offset="0.667" stop-color="#858585"/><stop offset="0.708" stop-color="#8f8f8f"/><stop offset="0.75" stop-color="#979797"/><stop offset="0.808" stop-color="#9e9e9e"/><stop offset="0.842" stop-color="#a0a0a0"/><stop offset="0.908" stop-color="#a0a0a0"/><stop offset="1" stop-color="#999999"/></linearGradient><linearGradient id="b2_12"><stop offset="0" stop-color="#515151"/><stop offset="0.142" stop-color="#1e1e1e"/><stop offset="0.192" stop-color="#111111"/><stop offset="0.233" stop-color="#0b0b0b"/><stop offset="0.258" stop-color="#0a0a0a"/><stop offset="0.292" stop-color="#0c0c0c"/><stop offset="0.317" stop-color="#101010"/><stop offset="0.367" stop-color="#1d1d1d"/><stop offset="0.408" stop-color="#2c2c2c"/><stop offset="0.558" stop-color="#6d6d6d"/><stop offset="0.633" stop-color="#888888"/><stop offset="0.667" stop-color="#929292"/><stop offset="0.725" stop-color="#a0a0a0"/><stop offset="0.792" stop-color="#aaaaaa"/><stop offset="0.842" stop-color="#adadad"/><stop offset="0.917" stop-color="#aaaaaa"/><stop offset="1" stop-color="#a0a0a0"/></linearGradient><linearGradient id="b2_13"><stop offset="0" stop-color="#505050"/><stop offset="0.108" stop-color="#2c2c2c"/><stop offset="0.175" stop-color="#1b1b1b"/><stop offset="0.233" stop-color="#151515"/><stop offset="0.267" stop-color="#161616"/><stop offset="0.308" stop-color="#1c1c1c"/><stop offset="0.375" stop-color="#2f2f2f"/><stop offset="0.417" stop-color="#3f3f3f"/><stop offset="0.542" stop-color="#757575"/><stop offset="0.6" stop-color="#8c8c8c"/><stop offset="0.65" stop-color="#9d9d9d"/><stop offset="0.717" stop-color="#afafaf"/><stop offset="0.792" stop-color="#bababa"/><stop offset="0.858" stop-color="#bbbbbb"/><stop offset="0.942" stop-color="#b2b2b2"/><stop offset="1" stop-color="#a7a7a7"/></linearGradient><linearGradient id="b2_14"><stop offset="0" stop-color="#515151"/><stop offset="0.1" stop-color="#343434"/><stop offset="0.15" stop-color="#292929"/><stop offset="0.2" stop-color="#232323"/><stop offset="0.258" stop-color="#242424"/><stop offset="0.292" stop-color="#292929"/><stop offset="0.333" stop-color="#333333"/><stop offset="0.375" stop-color="#404040"/><stop offset="0.442" stop-color="#5a5a5a"/><stop offset="0.6" stop-color="#9d9d9d"/><stop offset="0.667" stop-color="#b4b4b4"/><stop offset="0.733" stop-color="#c5c5c5"/><stop offset="0.8" stop-color="#cccccc"/><stop offset="0.85" stop-color="#cbcbcb"/><stop offset="0.908" stop-color="#c3c3c3"/><stop offset="1" stop-color="#aeaeae"/></linearGradient><linearGradient id="b2_15"><stop offset="0" stop-color="#545454"/><stop offset="0.1" stop-color="#3c3c3c"/><stop offset="0.15" stop-color="#343434"/><stop offset="0.217" stop-color="#313131"/><stop offset="0.275" stop-color="#373737"/><stop offset="0.342" stop-color="#474747"/><stop offset="0.408" stop-color="#5e5e5e"/><stop offset="0.608" stop-color="#b3b3b3"/><stop offset="0.667" stop-color="#c8c8c8"/><stop offset="0.725" stop-color="#d7d7d7"/><stop offset="0.767" stop-color="#dddddd"/><stop offset="0.8" stop-color="#dedede"/><stop offset="0.85" stop-color="#dadada"/><stop offset="0.925" stop-color="#cacaca"/><stop offset="1" stop-color="#b4b4b4"/></linearGradient><linearGradient id="b2_16"><stop offset="0" stop-color="#595959"/><stop offset="0.075" stop-color="#4a4a4a"/><stop offset="0.133" stop-color="#424242"/><stop offset="0.2" stop-color="#404040"/><stop offset="0.233" stop-color="#424242"/><stop offset="0.275" stop-color="#484848"/><stop offset="0.333" stop-color="#565656"/><stop offset="0.408" stop-color="#6f6f6f"/><stop offset="0.483" stop-color="#8e8e8e"/><stop offset="0.583" stop-color="#bcbcbc"/><stop offset="0.658" stop-color="#dadada"/><stop offset="0.708" stop-color="#e8e8e8"/><stop offset="0.758" stop-color="#efefef"/><stop offset="0.808" stop-color="#eeeeee"/><stop offset="0.842" stop-color="#e9e9e9"/><stop offset="0.9" stop-color="#dadada"/><stop offset="1" stop-color="#b7b7b7"/></linearGradient><linearGradient id="b2_17"><stop offset="0" stop-color="#5e5e5e"/><stop offset="0.108" stop-color="#505050"/><stop offset="0.142" stop-color="#4e4e4e"/><stop offset="0.217" stop-color="#505050"/><stop offset="0.275" stop-color="#585858"/><stop offset="0.333" stop-color="#666666"/><stop offset="0.408" stop-color="#7f7f7f"/><stop offset="0.475" stop-color="#9b9b9b"/><stop offset="0.592" stop-color="#d3d3d3"/><stop offset="0.65" stop-color="#ebebeb"/><stop offset="0.7" stop-color="#f9f9f9"/><stop offset="0.742" stop-color="#ffffff"/><stop offset="0.775" stop-color="#ffffff"/><stop offset="0.808" stop-color="#fbfbfb"/><stop offset="0.842" stop-color="#f4f4f4"/><stop offset="0.925" stop-color="#d7d7d7"/><stop offset="1" stop-color="#b8b8b8"/></linearGradient><linearGradient id="b2_18"><stop offset="0" stop-color="#646464"/><stop offset="0.0833" stop-color="#5c5c5c"/><stop offset="0.158" stop-color="#5a5a5a"/><stop offset="0.2" stop-color="#5c5c5c"/><stop offset="0.25" stop-color="#626262"/><stop offset="0.283" stop-color="#686868"/><stop offset="0.358" stop-color="#7c7c7c"/><stop offset="0.417" stop-color="#919191"/><stop offset="0.467" stop-color="#a7a7a7"/><stop offset="0.583" stop-color="#e1e1e1"/><stop offset="0.625" stop-color="#f3f3f3"/><stop offset="0.658" stop-color="#ffffff"/><stop offset="0.825" stop-color="#ffffff"/><stop offset="0.867" stop-color="#f1f1f1"/><stop offset="1" stop-color="#b7b7b7"/></linearGradient><linearGradient id="b2_19"><stop offset="0" stop-color="#6a6a6a"/><stop offset="0.0833" stop-color="#656565"/><stop offset="0.158" stop-color="#656565"/><stop offset="0.192" stop-color="#676767"/><stop offset="0.25" stop-color="#6e6e6e"/><stop offset="0.283" stop-color="#747474"/><stop offset="0.358" stop-color="#888888"/><stop offset="0.417" stop-color="#9e9e9e"/><stop offset="0.492" stop-color="#c1c1c1"/><stop offset="0.575" stop-color="#ececec"/><stop offset="0.617" stop-color="#fefefe"/><stop offset="0.625" stop-color="#ffffff"/><stop offset="0.833" stop-color="#fefefe"/><stop offset="0.875" stop-color="#ededed"/><stop offset="0.95" stop-color="#c9c9c9"/><stop offset="1" stop-color="#b4b4b4"/></linearGradient><linearGradient id="b2_20"><stop offset="0" stop-color="#707070"/><stop offset="0.0583" stop-color="#6d6d6d"/><stop offset="0.158" stop-color="#6e6e6e"/><stop offset="0.225" stop-color="#747474"/><stop offset="0.283" stop-color="#7e7e7e"/><stop offset="0.342" stop-color="#8d8d8d"/><stop offset="0.4" stop-color="#a2a2a2"/><stop offset="0.458" stop-color="#bcbcbc"/><stop offset="0.575" stop-color="#f7f7f7"/><stop offset="0.592" stop-color="#fefefe"/><stop offset="0.6" stop-color="#ffffff"/><stop offset="0.825" stop-color="#fefefe"/><stop offset="0.95" stop-color="#c3c3c3"/><stop offset="1" stop-color="#aeaeae"/></linearGradient><linearGradient id="b2_21"><stop offset="0" stop-color="#747474"/><stop offset="0.133" stop-color="#747474"/><stop offset="0.183" stop-color="#777777"/><stop offset="0.242" stop-color="#7e7e7e"/><stop offset="0.275" stop-color="#848484"/><stop offset="0.325" stop-color="#909090"/><stop offset="0.392" stop-color="#a7a7a7"/><stop offset="0.425" stop-color="#b5b5b5"/><stop offset="0.55" stop-color="#f2f2f2"/><stop offset="0.583" stop-color="#ffffff"/><stop offset="0.8" stop-color="#ffffff"/><stop offset="0.842" stop-color="#eeeeee"/><stop offset="0.933" stop-color="#c2c2c2"/><stop offset="1" stop-color="#a8a8a8"/></linearGradient><linearGradient id="b2_22"><stop offset="0" stop-color="#787878"/><stop offset="0.133" stop-color="#797979"/><stop offset="0.208" stop-color="#7f7f7f"/><stop offset="0.267" stop-color="#888888"/><stop offset="0.325" stop-color="#969696"/><stop offset="0.4" stop-color="#b0b0b0"/><stop offset="0.525" stop-color="#e9e9e9"/><stop offset="0.558" stop-color="#f7f7f7"/><stop offset="0.583" stop-color="#ffffff"/><stop offset="0.767" stop-color="#ffffff"/><stop offset="0.833" stop-color="#e5e5e5"/><stop offset="0.933" stop-color="#b8b8b8"/><stop offset="1" stop-color="#a1a1a1"/></linearGradient><linearGradient id="b2_23"><stop offset="0" stop-color="#7b7b7b"/><stop offset="0.0833" stop-color="#7b7b7b"/><stop offset="0.167" stop-color="#7f7f7f"/><stop offset="0.217" stop-color="#848484"/><stop offset="0.267" stop-color="#8c8c8c"/><stop offset="0.333" stop-color="#9c9c9c"/><stop offset="0.358" stop-color="#a4a4a4"/><stop offset="0.425" stop-color="#bdbdbd"/><stop offset="0.517" stop-color="#e4e4e4"/><stop offset="0.583" stop-color="#fafafa"/><stop offset="0.608" stop-color="#ffffff"/><stop offset="0.7" stop-color="#ffffff"/><stop offset="0.717" stop-color="#fdfdfd"/><stop offset="0.742" stop-color="#f7f7f7"/><stop offset="0.808" stop-color="#e0e0e0"/><stop offset="0.925" stop-color="#b0b0b0"/><stop offset="0.975" stop-color="#a0a0a0"/><stop offset="1" stop-color="#9a9a9a"/></linearGradient><linearGradient id="b2_24"><stop offset="0" stop-color="#7d7d7d"/><stop offset="0.0667" stop-color="#7d7d7d"/><stop offset="0.158" stop-color="#818181"/><stop offset="0.242" stop-color="#8a8a8a"/><stop offset="0.275" stop-color="#909090"/><stop offset="0.333" stop-color="#9e9e9e"/><stop offset="0.367" stop-color="#a8a8a8"/><stop offset="0.517" stop-color="#dedede"/><stop offset="0.55" stop-color="#e8e8e8"/><stop offset="0.583" stop-color="#efefef"/><stop offset="0.625" stop-color="#f4f4f4"/><stop offset="0.65" stop-color="#f4f4f4"/><stop offset="0.692" stop-color="#f0f0f0"/><stop offset="0.742" stop-color="#e5e5e5"/><stop offset="0.9" stop-color="#adadad"/><stop offset="0.958" stop-color="#9c9c9c"/><stop offset="1" stop-color="#939393"/></linearGradient><linearGradient id="b2_25"><stop offset="0" stop-color="#7e7e7e"/><stop offset="0.0833" stop-color="#7f7f7f"/><stop offset="0.15" stop-color="#828282"/><stop offset="0.208" stop-color="#878787"/><stop offset="0.258" stop-color="#8e8e8e"/><stop offset="0.35" stop-color="#a2a2a2"/><stop offset="0.492" stop-color="#cecece"/><stop offset="0.55" stop-color="#dcdcdc"/><stop offset="0.608" stop-color="#e3e3e3"/><stop offset="0.65" stop-color="#e2e2e2"/><stop offset="0.692" stop-color="#dddddd"/><stop offset="0.717" stop-color="#d8d8d8"/><stop offset="0.758" stop-color="#cdcdcd"/><stop offset="0.892" stop-color="#a4a4a4"/><stop offset="0.95" stop-color="#969696"/><stop offset="1" stop-color="#8e8e8e"/></linearGradient><linearGradient id="b2_26"><stop offset="0" stop-color="#7f7f7f"/><stop offset="0.117" stop-color="#818181"/><stop offset="0.192" stop-color="#868686"/><stop offset="0.258" stop-color="#8e8e8e"/><stop offset="0.333" stop-color="#9c9c9c"/><stop offset="0.492" stop-color="#c4c4c4"/><stop offset="0.542" stop-color="#cdcdcd"/><stop offset="0.583" stop-color="#d1d1d1"/><stop offset="0.642" stop-color="#d0d0d0"/><stop offset="0.692" stop-color="#cacaca"/><stop offset="0.892" stop-color="#9a9a9a"/><stop offset="0.958" stop-color="#8e8e8e"/><stop offset="1" stop-color="#898989"/></linearGradient><linearGradient id="b2_27"><stop offset="0" stop-color="#7f7f7f"/><stop offset="0.125" stop-color="#828282"/><stop offset="0.233" stop-color="#8a8a8a"/><stop offset="0.292" stop-color="#929292"/><stop offset="0.358" stop-color="#9e9e9e"/><stop offset="0.475" stop-color="#b6b6b6"/><stop offset="0.533" stop-color="#bebebe"/><stop offset="0.567" stop-color="#c0c0c0"/><stop offset="0.633" stop-color="#bfbfbf"/><stop offset="0.692" stop-color="#b8b8b8"/><stop offset="0.883" stop-color="#939393"/><stop offset="0.95" stop-color="#8a8a8a"/><stop offset="1" stop-color="#868686"/></linearGradient><linearGradient id="b2_28"><stop offset="0" stop-color="#808080"/><stop offset="0.1" stop-color="#818181"/><stop offset="0.217" stop-color="#888888"/><stop offset="0.325" stop-color="#969696"/><stop offset="0.458" stop-color="#aeaeae"/><stop offset="0.5" stop-color="#b4b4b4"/><stop offset="0.55" stop-color="#b8b8b8"/><stop offset="0.617" stop-color="#b8b8b8"/><stop offset="0.642" stop-color="#b6b6b6"/><stop offset="0.742" stop-color="#a8a8a8"/><stop offset="0.858" stop-color="#939393"/><stop offset="0.95" stop-color="#888888"/><stop offset="1" stop-color="#858585"/></linearGradient><linearGradient id="b2_29"><stop offset="0" stop-color="#808080"/><stop offset="0.1" stop-color="#818181"/><stop offset="0.217" stop-color="#888888"/><stop offset="0.325" stop-color="#969696"/><stop offset="0.458" stop-color="#aeaeae"/><stop offset="0.5" stop-color="#b4b4b4"/><stop offset="0.55" stop-color="#b8b8b8"/><stop offset="0.617" stop-color="#b8b8b8"/><stop offset="0.642" stop-color="#b6b6b6"/><stop offset="0.742" stop-color="#a8a8a8"/><stop offset="0.858" stop-color="#939393"/><stop offset="0.95" stop-color="#888888"/><stop offset="1" stop-color="#858585"/></linearGradient><linearGradient id="b2_30"><stop offset="0" stop-color="#808080"/><stop offset="0.1" stop-color="#818181"/><stop offset="0.217" stop-color="#888888"/><stop offset="0.325" stop-color="#969696"/><stop offset="0.458" stop-color="#aeaeae"/><stop offset="0.5" stop-color="#b4b4b4"/><stop offset="0.55" stop-color="#b8b8b8"/><stop offset="0.617" stop-color="#b8b8b8"/><stop offset="0.642" stop-color="#b6b6b6"/><stop offset="0.742" stop-color="#a8a8a8"/><stop offset="0.858" stop-color="#939393"/><stop offset="0.95" stop-color="#888888"/><stop offset="1" stop-color="#858585"/></linearGradient><linearGradient id="b1_0"><stop offset="0" stop-color="#808080"/><stop offset="0.1" stop-color="#818181"/><stop offset="0.217" stop-color="#888888"/><stop offset="0.3" stop-color="#929292"/><stop offset="0.458" stop-color="#aeaeae"/><stop offset="0.55" stop-color="#b8b8b8"/><stop offset="0.617" stop-color="#b8b8b8"/><stop offset="0.642" stop-color="#b6b6b6"/><stop offset="0.742" stop-color="#a8a8a8"/><stop offset="0.858" stop-color="#939393"/><stop offset="0.95" stop-color="#888888"/><stop offset="1" stop-color="#858585"/></linearGradient><linearGradient id="b1_1"><stop offset="0" stop-color="#808080"/><stop offset="0.1" stop-color="#818181"/><stop offset="0.217" stop-color="#888888"/><stop offset="0.3" stop-color="#929292"/><stop offset="0.458" stop-color="#aeaeae"/><stop offset="0.55" stop-color="#b8b8b8"/><stop offset="0.617" stop-color="#b8b8b8"/><stop offset="0.642" stop-color="#b6b6b6"/><stop offset="0.742" stop-color="#a8a8a8"/><stop offset="0.858" stop-color="#939393"/><stop offset="0.95" stop-color="#888888"/><stop offset="1" stop-color="#858585"/></linearGradient><linearGradient id="b1_2"><stop offset="0" stop-color="#808080"/><stop offset="0.1" stop-color="#818181"/><stop offset="0.217" stop-color="#888888"/><stop offset="0.3" stop-color="#929292"/><stop offset="0.458" stop-color="#aeaeae"/><stop offset="0.55" stop-color="#b8b8b8"/><stop offset="0.617" stop-color="#b8b8b8"/><stop offset="0.642" stop-color="#b6b6b6"/><stop offset="0.742" stop-color="#a8a8a8"/><stop offset="0.858" stop-color="#939393"/><stop offset="0.95" stop-color="#888888"/><stop offset="1" stop-color="#858585"/></linearGradient><linearGradient id="b1_3"><stop offset="0" stop-color="#7f7f7f"/><stop offset="0.15" stop-color="#838383"/><stop offset="0.225" stop-color="#898989"/><stop offset="0.292" stop-color="#929292"/><stop offset="0.475" stop-color="#b6b6b6"/><stop offset="0.533" stop-color="#bebebe"/><stop offset="0.567" stop-color="#c0c0c0"/><stop offset="0.633" stop-color="#bfbfbf"/><stop offset="0.692" stop-color="#b8b8b8"/><stop offset="0.883" stop-color="#939393"/><stop offset="0.95" stop-color="#8a8a8a"/><stop offset="1" stop-color="#868686"/></linearGradient><linearGradient id="b1_4"><stop offset="0" stop-color="#7f7f7f"/><stop offset="0.117" stop-color="#818181"/><stop offset="0.183" stop-color="#858585"/><stop offset="0.258" stop-color="#8e8e8e"/><stop offset="0.333" stop-color="#9c9c9c"/><stop offset="0.492" stop-color="#c4c4c4"/><stop offset="0.542" stop-color="#cdcdcd"/><stop offset="0.583" stop-color="#d1d1d1"/><stop offset="0.642" stop-color="#d0d0d0"/><stop offset="0.692" stop-color="#cacaca"/><stop offset="0.892" stop-color="#9a9a9a"/><stop offset="0.958" stop-color="#8e8e8e"/><stop offset="1" stop-color="#898989"/></linearGradient><linearGradient id="b1_5"><stop offset="0" stop-color="#7e7e7e"/><stop offset="0.0583" stop-color="#7e7e7e"/><stop offset="0.142" stop-color="#818181"/><stop offset="0.242" stop-color="#8b8b8b"/><stop offset="0.292" stop-color="#949494"/><stop offset="0.35" stop-color="#a2a2a2"/><stop offset="0.492" stop-color="#cecece"/><stop offset="0.55" stop-color="#dcdcdc"/><stop offset="0.608" stop-color="#e3e3e3"/><stop offset="0.65" stop-color="#e2e2e2"/><stop offset="0.692" stop-color="#dddddd"/><stop offset="0.717" stop-color="#d8d8d8"/><stop offset="0.758" stop-color="#cdcdcd"/><stop offset="0.892" stop-color="#a4a4a4"/><stop offset="0.95" stop-color="#969696"/><stop offset="1" stop-color="#8e8e8e"/></linearGradient><linearGradient id="b1_6"><stop offset="0" stop-color="#7c7c7c"/><stop offset="0.0917" stop-color="#7d7d7d"/><stop offset="0.167" stop-color="#818181"/><stop offset="0.217" stop-color="#868686"/><stop offset="0.267" stop-color="#8e8e8e"/><stop offset="0.317" stop-color="#999999"/><stop offset="0.358" stop-color="#a5a5a5"/><stop offset="0.517" stop-color="#dedede"/><stop offset="0.55" stop-color="#e8e8e8"/><stop offset="0.583" stop-color="#efefef"/><stop offset="0.625" stop-color="#f4f4f4"/><stop offset="0.65" stop-color="#f4f4f4"/><stop offset="0.692" stop-color="#f0f0f0"/><stop offset="0.742" stop-color="#e5e5e5"/><stop offset="0.9" stop-color="#adadad"/><stop offset="0.958" stop-color="#9c9c9c"/><stop offset="1" stop-color="#939393"/></linearGradient><linearGradient id="b1_7"><stop offset="0" stop-color="#7a7a7a"/><stop offset="0.0917" stop-color="#7a7a7a"/><stop offset="0.167" stop-color="#7e7e7e"/><stop offset="0.242" stop-color="#878787"/><stop offset="0.275" stop-color="#8d8d8d"/><stop offset="0.35" stop-color="#a1a1a1"/><stop offset="0.408" stop-color="#b6b6b6"/><stop offset="0.525" stop-color="#e7e7e7"/><stop offset="0.583" stop-color="#fafafa"/><stop offset="0.608" stop-color="#ffffff"/><stop offset="0.7" stop-color="#ffffff"/><stop offset="0.717" stop-color="#fdfdfd"/><stop offset="0.742" stop-color="#f7f7f7"/><stop offset="0.808" stop-color="#e0e0e0"/><stop offset="0.925" stop-color="#b0b0b0"/><stop offset="0.975" stop-color="#a0a0a0"/><stop offset="1" stop-color="#9a9a9a"/></linearGradient><linearGradient id="b1_8"><stop offset="0" stop-color="#767676"/><stop offset="0.1" stop-color="#767676"/><stop offset="0.158" stop-color="#797979"/><stop offset="0.233" stop-color="#818181"/><stop offset="0.267" stop-color="#878787"/><stop offset="0.325" stop-color="#959595"/><stop offset="0.392" stop-color="#acacac"/><stop offset="0.425" stop-color="#bababa"/><stop offset="0.525" stop-color="#e9e9e9"/><stop offset="0.558" stop-color="#f7f7f7"/><stop offset="0.583" stop-color="#ffffff"/><stop offset="0.767" stop-color="#ffffff"/><stop offset="0.833" stop-color="#e5e5e5"/><stop offset="0.933" stop-color="#b8b8b8"/><stop offset="1" stop-color="#a1a1a1"/></linearGradient><linearGradient id="b1_9"><stop offset="0" stop-color="#727272"/><stop offset="0.0667" stop-color="#707070"/><stop offset="0.15" stop-color="#727272"/><stop offset="0.242" stop-color="#7c7c7c"/><stop offset="0.308" stop-color="#8a8a8a"/><stop offset="0.342" stop-color="#949494"/><stop offset="0.408" stop-color="#adadad"/><stop offset="0.467" stop-color="#c8c8c8"/><stop offset="0.542" stop-color="#eeeeee"/><stop offset="0.583" stop-color="#ffffff"/><stop offset="0.8" stop-color="#ffffff"/><stop offset="0.842" stop-color="#eeeeee"/><stop offset="0.933" stop-color="#c2c2c2"/><stop offset="1" stop-color="#a8a8a8"/></linearGradient><linearGradient id="b1_10"><stop offset="0" stop-color="#6d6d6d"/><stop offset="0.0667" stop-color="#696969"/><stop offset="0.133" stop-color="#696969"/><stop offset="0.183" stop-color="#6c6c6c"/><stop offset="0.233" stop-color="#727272"/><stop offset="0.292" stop-color="#7d7d7d"/><stop offset="0.342" stop-color="#8b8b8b"/><stop offset="0.408" stop-color="#a4a4a4"/><stop offset="0.45" stop-color="#b7b7b7"/><stop offset="0.525" stop-color="#dedede"/><stop offset="0.592" stop-color="#fefefe"/><stop offset="0.6" stop-color="#ffffff"/><stop offset="0.825" stop-color="#fefefe"/><stop offset="0.95" stop-color="#c3c3c3"/><stop offset="1" stop-color="#aeaeae"/></linearGradient><linearGradient id="b1_11"><stop offset="0" stop-color="#666666"/><stop offset="0.075" stop-color="#606060"/><stop offset="0.15" stop-color="#5f5f5f"/><stop offset="0.183" stop-color="#616161"/><stop offset="0.242" stop-color="#686868"/><stop offset="0.308" stop-color="#767676"/><stop offset="0.367" stop-color="#888888"/><stop offset="0.417" stop-color="#9c9c9c"/><stop offset="0.492" stop-color="#c0c0c0"/><stop offset="0.55" stop-color="#dfdfdf"/><stop offset="0.6" stop-color="#f7f7f7"/><stop offset="0.617" stop-color="#fefefe"/><stop offset="0.625" stop-color="#ffffff"/><stop offset="0.833" stop-color="#fefefe"/><stop offset="0.875" stop-color="#ededed"/><stop offset="0.95" stop-color="#c9c9c9"/><stop offset="1" stop-color="#b4b4b4"/></linearGradient><linearGradient id="b1_12"><stop offset="0" stop-color="#5f5f5f"/><stop offset="0.0833" stop-color="#555555"/><stop offset="0.117" stop-color="#535353"/><stop offset="0.175" stop-color="#535353"/><stop offset="0.242" stop-color="#5a5a5a"/><stop offset="0.275" stop-color="#606060"/><stop offset="0.342" stop-color="#727272"/><stop offset="0.4" stop-color="#878787"/><stop offset="0.492" stop-color="#b1b1b1"/><stop offset="0.6" stop-color="#e8e8e8"/><stop offset="0.65" stop-color="#fcfcfc"/><stop offset="0.667" stop-color="#ffffff"/><stop offset="0.825" stop-color="#ffffff"/><stop offset="0.867" stop-color="#f1f1f1"/><stop offset="1" stop-color="#b7b7b7"/></linearGradient><linearGradient id="b1_13"><stop offset="0" stop-color="#585858"/><stop offset="0.0583" stop-color="#4d4d4d"/><stop offset="0.142" stop-color="#444444"/><stop offset="0.192" stop-color="#444444"/><stop offset="0.217" stop-color="#464646"/><stop offset="0.283" stop-color="#515151"/><stop offset="0.358" stop-color="#676767"/><stop offset="0.4" stop-color="#777777"/><stop offset="0.433" stop-color="#858585"/><stop offset="0.592" stop-color="#d2d2d2"/><stop offset="0.633" stop-color="#e4e4e4"/><stop offset="0.683" stop-color="#f5f5f5"/><stop offset="0.733" stop-color="#fefefe"/><stop offset="0.775" stop-color="#ffffff"/><stop offset="0.808" stop-color="#fbfbfb"/><stop offset="0.842" stop-color="#f4f4f4"/><stop offset="0.925" stop-color="#d7d7d7"/><stop offset="1" stop-color="#b8b8b8"/></linearGradient><linearGradient id="b1_14"><stop offset="0" stop-color="#515151"/><stop offset="0.0917" stop-color="#3c3c3c"/><stop offset="0.142" stop-color="#353535"/><stop offset="0.2" stop-color="#333333"/><stop offset="0.267" stop-color="#3b3b3b"/><stop offset="0.317" stop-color="#474747"/><stop offset="0.383" stop-color="#5e5e5e"/><stop offset="0.433" stop-color="#737373"/><stop offset="0.6" stop-color="#c2c2c2"/><stop offset="0.633" stop-color="#d0d0d0"/><stop offset="0.683" stop-color="#e1e1e1"/><stop offset="0.725" stop-color="#ebebeb"/><stop offset="0.75" stop-color="#eeeeee"/><stop offset="0.792" stop-color="#efefef"/><stop offset="0.842" stop-color="#e9e9e9"/><stop offset="0.9" stop-color="#dadada"/><stop offset="1" stop-color="#b7b7b7"/></linearGradient><linearGradient id="b1_15"><stop offset="0" stop-color="#4c4c4c"/><stop offset="0.075" stop-color="#353535"/><stop offset="0.15" stop-color="#252525"/><stop offset="0.2" stop-color="#212121"/><stop offset="0.242" stop-color="#232323"/><stop offset="0.308" stop-color="#303030"/><stop offset="0.375" stop-color="#474747"/><stop offset="0.433" stop-color="#606060"/><stop offset="0.567" stop-color="#9f9f9f"/><stop offset="0.625" stop-color="#b8b8b8"/><stop offset="0.675" stop-color="#cacaca"/><stop offset="0.717" stop-color="#d5d5d5"/><stop offset="0.758" stop-color="#dcdcdc"/><stop offset="0.792" stop-color="#dedede"/><stop offset="0.833" stop-color="#dcdcdc"/><stop offset="0.883" stop-color="#d4d4d4"/><stop offset="0.925" stop-color="#cacaca"/><stop offset="1" stop-color="#b3b3b3"/></linearGradient><linearGradient id="b1_16"><stop offset="0" stop-color="#484848"/><stop offset="0.1" stop-color="#252525"/><stop offset="0.158" stop-color="#161616"/><stop offset="0.208" stop-color="#101010"/><stop offset="0.25" stop-color="#111111"/><stop offset="0.275" stop-color="#141414"/><stop offset="0.317" stop-color="#1e1e1e"/><stop offset="0.367" stop-color="#2f2f2f"/><stop offset="0.4" stop-color="#3d3d3d"/><stop offset="0.567" stop-color="#8c8c8c"/><stop offset="0.617" stop-color="#a1a1a1"/><stop offset="0.667" stop-color="#b3b3b3"/><stop offset="0.733" stop-color="#c4c4c4"/><stop offset="0.8" stop-color="#cccccc"/><stop offset="0.858" stop-color="#cacaca"/><stop offset="0.908" stop-color="#c3c3c3"/><stop offset="1" stop-color="#aeaeae"/></linearGradient><linearGradient id="b1_17"><stop offset="0" stop-color="#474747"/><stop offset="0.075" stop-color="#282828"/><stop offset="0.158" stop-color="#0b0b0b"/><stop offset="0.192" stop-color="#040404"/><stop offset="0.225" stop-color="#000000"/><stop offset="0.267" stop-color="#010101"/><stop offset="0.317" stop-color="#0a0a0a"/><stop offset="0.367" stop-color="#1b1b1b"/><stop offset="0.408" stop-color="#2d2d2d"/><stop offset="0.567" stop-color="#7a7a7a"/><stop offset="0.6" stop-color="#888888"/><stop offset="0.642" stop-color="#989898"/><stop offset="0.717" stop-color="#aeaeae"/><stop offset="0.783" stop-color="#b9b9b9"/><stop offset="0.808" stop-color="#bbbbbb"/><stop offset="0.858" stop-color="#bbbbbb"/><stop offset="0.942" stop-color="#b2b2b2"/><stop offset="1" stop-color="#a7a7a7"/></linearGradient><linearGradient id="b1_18"><stop offset="0" stop-color="#484848"/><stop offset="0.133" stop-color="#0e0e0e"/><stop offset="0.175" stop-color="#000000"/><stop offset="0.333" stop-color="#000000"/><stop offset="0.35" stop-color="#030303"/><stop offset="0.4" stop-color="#171717"/><stop offset="0.508" stop-color="#4e4e4e"/><stop offset="0.6" stop-color="#787878"/><stop offset="0.658" stop-color="#8d8d8d"/><stop offset="0.7" stop-color="#999999"/><stop offset="0.758" stop-color="#a5a5a5"/><stop offset="0.825" stop-color="#acacac"/><stop offset="0.883" stop-color="#acacac"/><stop offset="0.917" stop-color="#aaaaaa"/><stop offset="1" stop-color="#a0a0a0"/></linearGradient><linearGradient id="b1_19"><stop offset="0" stop-color="#4b4b4b"/><stop offset="0.05" stop-color="#363636"/><stop offset="0.125" stop-color="#121212"/><stop offset="0.167" stop-color="#010101"/><stop offset="0.375" stop-color="#000000"/><stop offset="0.383" stop-color="#010101"/><stop offset="0.4" stop-color="#080808"/><stop offset="0.45" stop-color="#202020"/><stop offset="0.508" stop-color="#3f3f3f"/><stop offset="0.583" stop-color="#636363"/><stop offset="0.633" stop-color="#777777"/><stop offset="0.692" stop-color="#898989"/><stop offset="0.758" stop-color="#979797"/><stop offset="0.817" stop-color="#9e9e9e"/><stop offset="0.85" stop-color="#a0a0a0"/><stop offset="0.925" stop-color="#9f9f9f"/><stop offset="1" stop-color="#999999"/></linearGradient><linearGradient id="b1_20"><stop offset="0" stop-color="#515151"/><stop offset="0.05" stop-color="#3c3c3c"/><stop offset="0.175" stop-color="#010101"/><stop offset="0.4" stop-color="#000000"/><stop offset="0.408" stop-color="#010101"/><stop offset="0.475" stop-color="#212121"/><stop offset="0.55" stop-color="#484848"/><stop offset="0.592" stop-color="#5b5b5b"/><stop offset="0.658" stop-color="#747474"/><stop offset="0.708" stop-color="#828282"/><stop offset="0.767" stop-color="#8d8d8d"/><stop offset="0.817" stop-color="#939393"/><stop offset="0.867" stop-color="#969696"/><stop offset="0.933" stop-color="#969696"/><stop offset="1" stop-color="#929292"/></linearGradient><linearGradient id="b1_21"><stop offset="0" stop-color="#575757"/><stop offset="0.0667" stop-color="#3d3d3d"/><stop offset="0.158" stop-color="#111111"/><stop offset="0.2" stop-color="#000000"/><stop offset="0.417" stop-color="#000000"/><stop offset="0.458" stop-color="#111111"/><stop offset="0.533" stop-color="#373737"/><stop offset="0.592" stop-color="#525252"/><stop offset="0.658" stop-color="#6b6b6b"/><stop offset="0.692" stop-color="#757575"/><stop offset="0.758" stop-color="#838383"/><stop offset="0.85" stop-color="#8d8d8d"/><stop offset="0.908" stop-color="#8f8f8f"/><stop offset="1" stop-color="#8d8d8d"/></linearGradient><linearGradient id="b1_22"><stop offset="0" stop-color="#5e5e5e"/><stop offset="0.0667" stop-color="#474747"/><stop offset="0.167" stop-color="#1a1a1a"/><stop offset="0.233" stop-color="#000000"/><stop offset="0.417" stop-color="#000000"/><stop offset="0.442" stop-color="#080808"/><stop offset="0.475" stop-color="#161616"/><stop offset="0.575" stop-color="#454545"/><stop offset="0.608" stop-color="#535353"/><stop offset="0.675" stop-color="#6a6a6a"/><stop offset="0.733" stop-color="#787878"/><stop offset="0.767" stop-color="#7e7e7e"/><stop offset="0.842" stop-color="#868686"/><stop offset="0.9" stop-color="#898989"/><stop offset="1" stop-color="#898989"/></linearGradient><linearGradient id="b1_23"><stop offset="0" stop-color="#656565"/><stop offset="0.025" stop-color="#5f5f5f"/><stop offset="0.075" stop-color="#4f4f4f"/><stop offset="0.192" stop-color="#1f1f1f"/><stop offset="0.258" stop-color="#080808"/><stop offset="0.3" stop-color="#000000"/><stop offset="0.392" stop-color="#000000"/><stop offset="0.417" stop-color="#050505"/><stop offset="0.475" stop-color="#181818"/><stop offset="0.592" stop-color="#494949"/><stop offset="0.65" stop-color="#5e5e5e"/><stop offset="0.725" stop-color="#727272"/><stop offset="0.758" stop-color="#787878"/><stop offset="0.833" stop-color="#818181"/><stop offset="0.908" stop-color="#858585"/><stop offset="1" stop-color="#858585"/></linearGradient><linearGradient id="b1_24"><stop offset="0" stop-color="#6c6c6c"/><stop offset="0.0417" stop-color="#636363"/><stop offset="0.1" stop-color="#525252"/><stop offset="0.258" stop-color="#1a1a1a"/><stop offset="0.308" stop-color="#0f0f0f"/><stop offset="0.333" stop-color="#0c0c0c"/><stop offset="0.375" stop-color="#0b0b0b"/><stop offset="0.417" stop-color="#101010"/><stop offset="0.45" stop-color="#171717"/><stop offset="0.483" stop-color="#212121"/><stop offset="0.642" stop-color="#5a5a5a"/><stop offset="0.683" stop-color="#666666"/><stop offset="0.733" stop-color="#717171"/><stop offset="0.783" stop-color="#797979"/><stop offset="0.833" stop-color="#7e7e7e"/><stop offset="0.908" stop-color="#828282"/><stop offset="1" stop-color="#838383"/></linearGradient><linearGradient id="b1_25"><stop offset="0" stop-color="#717171"/><stop offset="0.05" stop-color="#696969"/><stop offset="0.108" stop-color="#5b5b5b"/><stop offset="0.242" stop-color="#323232"/><stop offset="0.283" stop-color="#272727"/><stop offset="0.308" stop-color="#222222"/><stop offset="0.35" stop-color="#1d1d1d"/><stop offset="0.392" stop-color="#1c1c1c"/><stop offset="0.45" stop-color="#232323"/><stop offset="0.508" stop-color="#313131"/><stop offset="0.65" stop-color="#5d5d5d"/><stop offset="0.708" stop-color="#6b6b6b"/><stop offset="0.758" stop-color="#747474"/><stop offset="0.858" stop-color="#7e7e7e"/><stop offset="0.942" stop-color="#818181"/><stop offset="1" stop-color="#818181"/></linearGradient><linearGradient id="b1_26"><stop offset="0" stop-color="#767676"/><stop offset="0.0417" stop-color="#717171"/><stop offset="0.108" stop-color="#656565"/><stop offset="0.308" stop-color="#353535"/><stop offset="0.358" stop-color="#2f2f2f"/><stop offset="0.417" stop-color="#2e2e2e"/><stop offset="0.458" stop-color="#323232"/><stop offset="0.508" stop-color="#3b3b3b"/><stop offset="0.667" stop-color="#636363"/><stop offset="0.742" stop-color="#717171"/><stop offset="0.817" stop-color="#7a7a7a"/><stop offset="0.883" stop-color="#7e7e7e"/><stop offset="1" stop-color="#808080"/></linearGradient><linearGradient id="b1_27"><stop offset="0" stop-color="#797979"/><stop offset="0.05" stop-color="#757575"/><stop offset="0.117" stop-color="#6c6c6c"/><stop offset="0.308" stop-color="#474747"/><stop offset="0.367" stop-color="#404040"/><stop offset="0.433" stop-color="#3f3f3f"/><stop offset="0.467" stop-color="#414141"/><stop offset="0.525" stop-color="#494949"/><stop offset="0.642" stop-color="#616161"/><stop offset="0.708" stop-color="#6d6d6d"/><stop offset="0.775" stop-color="#767676"/><stop offset="0.85" stop-color="#7c7c7c"/><stop offset="1" stop-color="#808080"/></linearGradient><linearGradient id="b1_28"><stop offset="0" stop-color="#7a7a7a"/><stop offset="0.05" stop-color="#777777"/><stop offset="0.142" stop-color="#6c6c6c"/><stop offset="0.258" stop-color="#575757"/><stop offset="0.358" stop-color="#494949"/><stop offset="0.383" stop-color="#474747"/><stop offset="0.45" stop-color="#474747"/><stop offset="0.542" stop-color="#515151"/><stop offset="0.7" stop-color="#6d6d6d"/><stop offset="0.783" stop-color="#777777"/><stop offset="0.85" stop-color="#7c7c7c"/><stop offset="1" stop-color="#808080"/></linearGradient><linearGradient id="b1_29"><stop offset="0" stop-color="#7a7a7a"/><stop offset="0.05" stop-color="#777777"/><stop offset="0.142" stop-color="#6c6c6c"/><stop offset="0.258" stop-color="#575757"/><stop offset="0.358" stop-color="#494949"/><stop offset="0.383" stop-color="#474747"/><stop offset="0.45" stop-color="#474747"/><stop offset="0.542" stop-color="#515151"/><stop offset="0.7" stop-color="#6d6d6d"/><stop offset="0.783" stop-color="#777777"/><stop offset="0.85" stop-color="#7c7c7c"/><stop offset="1" stop-color="#808080"/></linearGradient><linearGradient id="b1_30"><stop offset="0" stop-color="#7a7a7a"/><stop offset="0.05" stop-color="#777777"/><stop offset="0.142" stop-color="#6c6c6c"/><stop offset="0.258" stop-color="#575757"/><stop offset="0.358" stop-color="#494949"/><stop offset="0.383" stop-color="#474747"/><stop offset="0.45" stop-color="#474747"/><stop offset="0.542" stop-color="#515151"/><stop offset="0.7" stop-color="#6d6d6d"/><stop offset="0.783" stop-color="#777777"/><stop offset="0.85" stop-color="#7c7c7c"/><stop offset="1" stop-color="#808080"/></linearGradient><linearGradient id="b0_0"><stop offset="0" stop-color="#888888"/><stop offset="0.1" stop-color="#949494"/><stop offset="0.283" stop-color="#b8b8b8"/><stop offset="0.35" stop-color="#c0c0c0"/><stop offset="0.408" stop-color="#c1c1c1"/><stop offset="0.45" stop-color="#bebebe"/><stop offset="0.5" stop-color="#b7b7b7"/><stop offset="0.658" stop-color="#979797"/><stop offset="0.767" stop-color="#888888"/><stop offset="0.883" stop-color="#818181"/><stop offset="1" stop-color="#808080"/></linearGradient><linearGradient id="b0_1"><stop offset="0" stop-color="#888888"/><stop offset="0.1" stop-color="#949494"/><stop offset="0.283" stop-color="#b8b8b8"/><stop offset="0.35" stop-color="#c0c0c0"/><stop offset="0.408" stop-color="#c1c1c1"/><stop offset="0.45" stop-color="#bebebe"/><stop offset="0.5" stop-color="#b7b7b7"/><stop offset="0.658" stop-color="#979797"/><stop offset="0.767" stop-color="#888888"/><stop offset="0.883" stop-color="#818181"/><stop offset="1" stop-color="#808080"/></linearGradient><linearGradient id="b0_2"><stop offset="0" stop-color="#888888"/><stop offset="0.1" stop-color="#949494"/><stop offset="0.283" stop-color="#b8b8b8"/><stop offset="0.35" stop-color="#c0c0c0"/><stop offset="0.408" stop-color="#c1c1c1"/><stop offset="0.45" stop-color="#bebebe"/><stop offset="0.5" stop-color="#b7b7b7"/><stop offset="0.658" stop-color="#979797"/><stop offset="0.767" stop-color="#888888"/><stop offset="0.883" stop-color="#818181"/><stop offset="1" stop-color="#808080"/></linearGradient><linearGradient id="b0_3"><stop offset="0" stop-color="#8a8a8a"/><stop offset="0.025" stop-color="#8c8c8c"/><stop offset="0.0833" stop-color="#959595"/><stop offset="0.258" stop-color="#bcbcbc"/><stop offset="0.292" stop-color="#c2c2c2"/><stop offset="0.342" stop-color="#c8c8c8"/><stop offset="0.4" stop-color="#c9c9c9"/><stop offset="0.492" stop-color="#bebebe"/><stop offset="0.65" stop-color="#9a9a9a"/><stop offset="0.742" stop-color="#8b8b8b"/><stop offset="0.858" stop-color="#828282"/><stop offset="1" stop-color="#7f7f7f"/></linearGradient><linearGradient id="b0_4"><stop offset="0" stop-color="#8e8e8e"/><stop offset="0.0833" stop-color="#9e9e9e"/><stop offset="0.225" stop-color="#c6c6c6"/><stop offset="0.267" stop-color="#d0d0d0"/><stop offset="0.325" stop-color="#d9d9d9"/><stop offset="0.367" stop-color="#dbdbdb"/><stop offset="0.392" stop-color="#dadada"/><stop offset="0.45" stop-color="#d2d2d2"/><stop offset="0.508" stop-color="#c4c4c4"/><stop offset="0.608" stop-color="#a7a7a7"/><stop offset="0.683" stop-color="#959595"/><stop offset="0.725" stop-color="#8e8e8e"/><stop offset="0.792" stop-color="#868686"/><stop offset="0.85" stop-color="#828282"/><stop offset="1" stop-color="#7f7f7f"/></linearGradient><linearGradient id="b0_5"><stop offset="0" stop-color="#949494"/><stop offset="0.0833" stop-color="#a9a9a9"/><stop offset="0.233" stop-color="#dbdbdb"/><stop offset="0.292" stop-color="#e8e8e8"/><stop offset="0.333" stop-color="#ececec"/><stop offset="0.367" stop-color="#ececec"/><stop offset="0.408" stop-color="#e7e7e7"/><stop offset="0.458" stop-color="#dbdbdb"/><stop offset="0.583" stop-color="#b1b1b1"/><stop offset="0.633" stop-color="#a2a2a2"/><stop offset="0.717" stop-color="#8f8f8f"/><stop offset="0.817" stop-color="#838383"/><stop offset="0.908" stop-color="#7f7f7f"/><stop offset="1" stop-color="#7e7e7e"/></linearGradient><linearGradient id="b0_6"><stop offset="0" stop-color="#9b9b9b"/><stop offset="0.0417" stop-color="#a7a7a7"/><stop offset="0.117" stop-color="#c2c2c2"/><stop offset="0.192" stop-color="#e0e0e0"/><stop offset="0.242" stop-color="#f0f0f0"/><stop offset="0.267" stop-color="#f6f6f6"/><stop offset="0.308" stop-color="#fcfcfc"/><stop offset="0.35" stop-color="#fcfcfc"/><stop offset="0.383" stop-color="#f8f8f8"/><stop offset="0.442" stop-color="#e9e9e9"/><stop offset="0.617" stop-color="#a7a7a7"/><stop offset="0.7" stop-color="#919191"/><stop offset="0.733" stop-color="#8b8b8b"/><stop offset="0.825" stop-color="#818181"/><stop offset="0.925" stop-color="#7d7d7d"/><stop offset="1" stop-color="#7d7d7d"/></linearGradient><linearGradient id="b0_7"><stop offset="0" stop-color="#a3a3a3"/><stop offset="0.0583" stop-color="#b8b8b8"/><stop offset="0.192" stop-color="#f1f1f1"/><stop offset="0.233" stop-color="#fefefe"/><stop offset="0.392" stop-color="#ffffff"/><stop offset="0.442" stop-color="#eeeeee"/><stop offset="0.542" stop-color="#c2c2c2"/><stop offset="0.608" stop-color="#a8a8a8"/><stop offset="0.642" stop-color="#9d9d9d"/><stop offset="0.708" stop-color="#8d8d8d"/><stop offset="0.758" stop-color="#858585"/><stop offset="0.808" stop-color="#808080"/><stop offset="0.917" stop-color="#7b7b7b"/><stop offset="1" stop-color="#7b7b7b"/></linearGradient><linearGradient id="b0_8"><stop offset="0" stop-color="#acacac"/><stop offset="0.0583" stop-color="#c3c3c3"/><stop offset="0.15" stop-color="#eeeeee"/><stop offset="0.192" stop-color="#ffffff"/><stop offset="0.4" stop-color="#ffffff"/><stop offset="0.433" stop-color="#f2f2f2"/><stop offset="0.55" stop-color="#bbbbbb"/><stop offset="0.592" stop-color="#aaaaaa"/><stop offset="0.65" stop-color="#979797"/><stop offset="0.7" stop-color="#8b8b8b"/><stop offset="0.733" stop-color="#858585"/><stop offset="0.817" stop-color="#7c7c7c"/><stop offset="0.9" stop-color="#787878"/><stop offset="1" stop-color="#787878"/></linearGradient><linearGradient id="b0_9"><stop offset="0" stop-color="#b4b4b4"/><stop offset="0.0167" stop-color="#bababa"/><stop offset="0.108" stop-color="#e6e6e6"/><stop offset="0.167" stop-color="#ffffff"/><stop offset="0.392" stop-color="#ffffff"/><stop offset="0.408" stop-color="#f9f9f9"/><stop offset="0.567" stop-color="#aeaeae"/><stop offset="0.625" stop-color="#999999"/><stop offset="0.7" stop-color="#868686"/><stop offset="0.733" stop-color="#808080"/><stop offset="0.817" stop-color="#777777"/><stop offset="0.9" stop-color="#737373"/><stop offset="1" stop-color="#747474"/></linearGradient><linearGradient id="b0_10"><stop offset="0" stop-color="#bababa"/><stop offset="0.117" stop-color="#f1f1f1"/><stop offset="0.15" stop-color="#ffffff"/><stop offset="0.375" stop-color="#ffffff"/><stop offset="0.508" stop-color="#bfbfbf"/><stop offset="0.558" stop-color="#a9a9a9"/><stop offset="0.617" stop-color="#949494"/><stop offset="0.692" stop-color="#818181"/><stop offset="0.742" stop-color="#787878"/><stop offset="0.817" stop-color="#707070"/><stop offset="0.867" stop-color="#6d6d6d"/><stop offset="1" stop-color="#6e6e6e"/></linearGradient><linearGradient id="b0_11"><stop offset="0" stop-color="#bfbfbf"/><stop offset="0.108" stop-color="#f0f0f0"/><stop offset="0.15" stop-color="#ffffff"/><stop offset="0.342" stop-color="#ffffff"/><stop offset="0.408" stop-color="#e4e4e4"/><stop offset="0.517" stop-color="#b0b0b0"/><stop offset="0.55" stop-color="#a2a2a2"/><stop offset="0.6" stop-color="#909090"/><stop offset="0.633" stop-color="#868686"/><stop offset="0.692" stop-color="#787878"/><stop offset="0.75" stop-color="#6e6e6e"/><stop offset="0.842" stop-color="#656565"/><stop offset="0.933" stop-color="#646464"/><stop offset="1" stop-color="#686868"/></linearGradient><linearGradient id="b0_12"><stop offset="0" stop-color="#c1c1c1"/><stop offset="0.108" stop-color="#eeeeee"/><stop offset="0.142" stop-color="#f9f9f9"/><stop offset="0.167" stop-color="#ffffff"/><stop offset="0.292" stop-color="#ffffff"/><stop offset="0.333" stop-color="#f3f3f3"/><stop offset="0.375" stop-color="#e3e3e3"/><stop offset="0.525" stop-color="#a0a0a0"/><stop offset="0.617" stop-color="#808080"/><stop offset="0.692" stop-color="#6d6d6d"/><stop offset="0.758" stop-color="#616161"/><stop offset="0.825" stop-color="#5a5a5a"/><stop offset="0.908" stop-color="#595959"/><stop offset="1" stop-color="#606060"/></linearGradient><linearGradient id="b0_13"><stop offset="0" stop-color="#c0c0c0"/><stop offset="0.0917" stop-color="#e2e2e2"/><stop offset="0.133" stop-color="#eeeeee"/><stop offset="0.192" stop-color="#f7f7f7"/><stop offset="0.233" stop-color="#f7f7f7"/><stop offset="0.275" stop-color="#f1f1f1"/><stop offset="0.317" stop-color="#e6e6e6"/><stop offset="0.375" stop-color="#d1d1d1"/><stop offset="0.508" stop-color="#999999"/><stop offset="0.583" stop-color="#7e7e7e"/><stop offset="0.65" stop-color="#6a6a6a"/><stop offset="0.708" stop-color="#5c5c5c"/><stop offset="0.75" stop-color="#545454"/><stop offset="0.808" stop-color="#4d4d4d"/><stop offset="0.842" stop-color="#4b4b4b"/><stop offset="0.875" stop-color="#4b4b4b"/><stop offset="0.925" stop-color="#4e4e4e"/><stop offset="1" stop-color="#585858"/></linearGradient><linearGradient id="b0_14"><stop offset="0" stop-color="#bcbcbc"/><stop offset="0.0667" stop-color="#d2d2d2"/><stop offset="0.125" stop-color="#e0e0e0"/><stop offset="0.158" stop-color="#e5e5e5"/><stop offset="0.217" stop-color="#e6e6e6"/><stop offset="0.258" stop-color="#e1e1e1"/><stop offset="0.325" stop-color="#d0d0d0"/><stop offset="0.583" stop-color="#707070"/><stop offset="0.675" stop-color="#545454"/><stop offset="0.75" stop-color="#434343"/><stop offset="0.808" stop-color="#3c3c3c"/><stop offset="0.867" stop-color="#3c3c3c"/><stop offset="0.933" stop-color="#434343"/><stop offset="1" stop-color="#505050"/></linearGradient><linearGradient id="b0_15"><stop offset="0" stop-color="#b7b7b7"/><stop offset="0.0583" stop-color="#c6c6c6"/><stop offset="0.117" stop-color="#d1d1d1"/><stop offset="0.167" stop-color="#d5d5d5"/><stop offset="0.208" stop-color="#d4d4d4"/><stop offset="0.258" stop-color="#cdcdcd"/><stop offset="0.317" stop-color="#bfbfbf"/><stop offset="0.383" stop-color="#aaaaaa"/><stop offset="0.65" stop-color="#4a4a4a"/><stop offset="0.708" stop-color="#393939"/><stop offset="0.758" stop-color="#2f2f2f"/><stop offset="0.808" stop-color="#2a2a2a"/><stop offset="0.867" stop-color="#2c2c2c"/><stop offset="0.942" stop-color="#393939"/><stop offset="1" stop-color="#484848"/></linearGradient><linearGradient id="b0_16"><stop offset="0" stop-color="#afafaf"/><stop offset="0.0667" stop-color="#bcbcbc"/><stop offset="0.133" stop-color="#c3c3c3"/><stop offset="0.192" stop-color="#c3c3c3"/><stop offset="0.25" stop-color="#bcbcbc"/><stop offset="0.325" stop-color="#ababab"/><stop offset="0.417" stop-color="#8f8f8f"/><stop offset="0.675" stop-color="#2f2f2f"/><stop offset="0.742" stop-color="#1e1e1e"/><stop offset="0.783" stop-color="#191919"/><stop offset="0.842" stop-color="#1a1a1a"/><stop offset="0.875" stop-color="#1f1f1f"/><stop offset="0.933" stop-color="#2d2d2d"/><stop offset="1" stop-color="#434343"/></linearGradient><linearGradient id="b0_17"><stop offset="0" stop-color="#a7a7a7"/><stop offset="0.075" stop-color="#b1b1b1"/><stop offset="0.158" stop-color="#b4b4b4"/><stop offset="0.192" stop-color="#b2b2b2"/><stop offset="0.25" stop-color="#ababab"/><stop offset="0.292" stop-color="#a3a3a3"/><stop offset="0.35" stop-color="#959595"/><stop offset="0.417" stop-color="#818181"/><stop offset="0.492" stop-color="#666666"/><stop offset="0.625" stop-color="#2e2e2e"/><stop offset="0.683" stop-color="#191919"/><stop offset="0.725" stop-color="#0e0e0e"/><stop offset="0.767" stop-color="#080808"/><stop offset="0.808" stop-color="#080808"/><stop offset="0.867" stop-color="#111111"/><stop offset="0.908" stop-color="#1d1d1d"/><stop offset="1" stop-color="#3f3f3f"/></linearGradient><linearGradient id="b0_18"><stop offset="0" stop-color="#9f9f9f"/><stop offset="0.0917" stop-color="#a6a6a6"/><stop offset="0.175" stop-color="#a5a5a5"/><stop offset="0.242" stop-color="#9e9e9e"/><stop offset="0.308" stop-color="#929292"/><stop offset="0.383" stop-color="#7f7f7f"/><stop offset="0.475" stop-color="#5f5f5f"/><stop offset="0.625" stop-color="#1c1c1c"/><stop offset="0.667" stop-color="#0c0c0c"/><stop offset="0.708" stop-color="#000000"/><stop offset="0.833" stop-color="#000000"/><stop offset="0.858" stop-color="#060606"/><stop offset="0.892" stop-color="#111111"/><stop offset="1" stop-color="#3e3e3e"/></linearGradient><linearGradient id="b0_19"><stop offset="0" stop-color="#979797"/><stop offset="0.0667" stop-color="#9b9b9b"/><stop offset="0.158" stop-color="#9a9a9a"/><stop offset="0.25" stop-color="#919191"/><stop offset="0.308" stop-color="#878787"/><stop offset="0.367" stop-color="#797979"/><stop offset="0.4" stop-color="#6f6f6f"/><stop offset="0.45" stop-color="#5d5d5d"/><stop offset="0.483" stop-color="#4f4f4f"/><stop offset="0.592" stop-color="#1b1b1b"/><stop offset="0.658" stop-color="#000000"/><stop offset="0.85" stop-color="#000000"/><stop offset="0.892" stop-color="#0f0f0f"/><stop offset="1" stop-color="#404040"/></linearGradient><linearGradient id="b0_20"><stop offset="0" stop-color="#919191"/><stop offset="0.133" stop-color="#929292"/><stop offset="0.208" stop-color="#8d8d8d"/><stop offset="0.3" stop-color="#808080"/><stop offset="0.367" stop-color="#707070"/><stop offset="0.442" stop-color="#565656"/><stop offset="0.492" stop-color="#404040"/><stop offset="0.625" stop-color="#000000"/><stop offset="0.85" stop-color="#000000"/><stop offset="0.883" stop-color="#0e0e0e"/><stop offset="1" stop-color="#454545"/></linearGradient><linearGradient id="b0_21"><stop offset="0" stop-color="#8b8b8b"/><stop offset="0.133" stop-color="#8b8b8b"/><stop offset="0.208" stop-color="#868686"/><stop offset="0.267" stop-color="#7f7f7f"/><stop offset="0.3" stop-color="#797979"/><stop offset="0.358" stop-color="#6b6b6b"/><stop offset="0.4" stop-color="#5e5e5e"/><stop offset="0.433" stop-color="#515151"/><stop offset="0.592" stop-color="#060606"/><stop offset="0.608" stop-color="#000000"/><stop offset="0.833" stop-color="#000000"/><stop offset="0.892" stop-color="#191919"/><stop offset="0.983" stop-color="#454545"/><stop offset="1" stop-color="#4b4b4b"/></linearGradient><linearGradient id="b0_22"><stop offset="0" stop-color="#878787"/><stop offset="0.1" stop-color="#878787"/><stop offset="0.183" stop-color="#838383"/><stop offset="0.267" stop-color="#7a7a7a"/><stop offset="0.3" stop-color="#747474"/><stop offset="0.35" stop-color="#686868"/><stop offset="0.408" stop-color="#555555"/><stop offset="0.45" stop-color="#444444"/><stop offset="0.567" stop-color="#0d0d0d"/><stop offset="0.6" stop-color="#000000"/><stop offset="0.808" stop-color="#000000"/><stop offset="0.85" stop-color="#111111"/><stop offset="0.942" stop-color="#3c3c3c"/><stop offset="1" stop-color="#535353"/></linearGradient><linearGradient id="b0_23"><stop offset="0" stop-color="#848484"/><stop offset="0.0833" stop-color="#848484"/><stop offset="0.192" stop-color="#7f7f7f"/><stop offset="0.242" stop-color="#7a7a7a"/><stop offset="0.292" stop-color="#727272"/><stop offset="0.358" stop-color="#626262"/><stop offset="0.392" stop-color="#575757"/><stop offset="0.442" stop-color="#444444"/><stop offset="0.558" stop-color="#111111"/><stop offset="0.608" stop-color="#000000"/><stop offset="0.767" stop-color="#010101"/><stop offset="0.808" stop-color="#0e0e0e"/><stop offset="0.942" stop-color="#474747"/><stop offset="1" stop-color="#5c5c5c"/></linearGradient><linearGradient id="b0_24"><stop offset="0" stop-color="#828282"/><stop offset="0.075" stop-color="#828282"/><stop offset="0.175" stop-color="#7e7e7e"/><stop offset="0.267" stop-color="#747474"/><stop offset="0.3" stop-color="#6e6e6e"/><stop offset="0.35" stop-color="#626262"/><stop offset="0.383" stop-color="#585858"/><stop offset="0.558" stop-color="#161616"/><stop offset="0.617" stop-color="#070707"/><stop offset="0.65" stop-color="#030303"/><stop offset="0.692" stop-color="#030303"/><stop offset="0.717" stop-color="#060606"/><stop offset="0.758" stop-color="#0f0f0f"/><stop offset="0.808" stop-color="#1f1f1f"/><stop offset="0.883" stop-color="#3d3d3d"/><stop offset="0.958" stop-color="#585858"/><stop offset="1" stop-color="#646464"/></linearGradient><linearGradient id="b0_25"><stop offset="0" stop-color="#818181"/><stop offset="0.15" stop-color="#7e7e7e"/><stop offset="0.217" stop-color="#797979"/><stop offset="0.283" stop-color="#707070"/><stop offset="0.367" stop-color="#5d5d5d"/><stop offset="0.417" stop-color="#4e4e4e"/><stop offset="0.508" stop-color="#2e2e2e"/><stop offset="0.542" stop-color="#242424"/><stop offset="0.592" stop-color="#181818"/><stop offset="0.633" stop-color="#131313"/><stop offset="0.683" stop-color="#141414"/><stop offset="0.708" stop-color="#171717"/><stop offset="0.742" stop-color="#1e1e1e"/><stop offset="0.783" stop-color="#292929"/><stop offset="0.933" stop-color="#5b5b5b"/><stop offset="1" stop-color="#6b6b6b"/></linearGradient><linearGradient id="b0_26"><stop offset="0" stop-color="#808080"/><stop offset="0.15" stop-color="#7d7d7d"/><stop offset="0.208" stop-color="#797979"/><stop offset="0.275" stop-color="#717171"/><stop offset="0.317" stop-color="#6a6a6a"/><stop offset="0.392" stop-color="#585858"/><stop offset="0.492" stop-color="#3b3b3b"/><stop offset="0.55" stop-color="#2d2d2d"/><stop offset="0.608" stop-color="#252525"/><stop offset="0.633" stop-color="#242424"/><stop offset="0.675" stop-color="#262626"/><stop offset="0.733" stop-color="#2f2f2f"/><stop offset="0.775" stop-color="#393939"/><stop offset="0.917" stop-color="#616161"/><stop offset="1" stop-color="#717171"/></linearGradient><linearGradient id="b0_27"><stop offset="0" stop-color="#808080"/><stop offset="0.142" stop-color="#7d7d7d"/><stop offset="0.258" stop-color="#747474"/><stop offset="0.35" stop-color="#656565"/><stop offset="0.508" stop-color="#414141"/><stop offset="0.6" stop-color="#363636"/><stop offset="0.658" stop-color="#373737"/><stop offset="0.708" stop-color="#3d3d3d"/><stop offset="0.742" stop-color="#434343"/><stop offset="0.917" stop-color="#6a6a6a"/><stop offset="0.975" stop-color="#737373"/><stop offset="1" stop-color="#757575"/></linearGradient><linearGradient id="b0_28"><stop offset="0" stop-color="#808080"/><stop offset="0.117" stop-color="#7e7e7e"/><stop offset="0.233" stop-color="#777777"/><stop offset="0.342" stop-color="#686868"/><stop offset="0.5" stop-color="#484848"/><stop offset="0.55" stop-color="#414141"/><stop offset="0.592" stop-color="#3e3e3e"/><stop offset="0.65" stop-color="#3f3f3f"/><stop offset="0.717" stop-color="#474747"/><stop offset="0.9" stop-color="#6b6b6b"/><stop offset="1" stop-color="#777777"/></linearGradient><linearGradient id="b0_29"><stop offset="0" stop-color="#808080"/><stop offset="0.117" stop-color="#7e7e7e"/><stop offset="0.233" stop-color="#777777"/><stop offset="0.342" stop-color="#686868"/><stop offset="0.5" stop-color="#484848"/><stop offset="0.55" stop-color="#414141"/><stop offset="0.592" stop-color="#3e3e3e"/><stop offset="0.65" stop-color="#3f3f3f"/><stop offset="0.717" stop-color="#474747"/><stop offset="0.9" stop-color="#6b6b6b"/><stop offset="1" stop-color="#777777"/></linearGradient><linearGradient id="b0_30"><stop offset="0" stop-color="#808080"/><stop offset="0.117" stop-color="#7e7e7e"/><stop offset="0.233" stop-color="#777777"/><stop offset="0.342" stop-color="#686868"/><stop offset="0.5" stop-color="#484848"/><stop offset="0.55" stop-color="#414141"/><stop offset="0.592" stop-color="#3e3e3e"/><stop offset="0.65" stop-color="#3f3f3f"/><stop offset="0.717" stop-color="#474747"/><stop offset="0.9" stop-color="#6b6b6b"/><stop offset="1" stop-color="#777777"/></linearGradient></defs></svg>
<svg class="o" width="685" height="302"><line x1="127.81" y1="187.55" x2="133.67" y2="45.98" stroke="#858585" stroke-width="1.0"/><line x1="127.81" y1="187.55" x2="268.95" y2="209.23" stroke="#858585" stroke-width="1.0"/><line x1="62.31" y1="241.08" x2="127.81" y2="187.55" stroke="#858585" stroke-width="1.0"/><line x1="268.95" y1="209.23" x2="284.42" y2="58.93" stroke="#858585" stroke-width="1.0"/><line x1="268.95" y1="209.23" x2="243.25" y2="274.51" stroke="#858585" stroke-width="1.0"/><line x1="74.10" y1="243.26" x2="75.63" y2="241.94" stroke="#7a7a7a" stroke-width="0.8"/><line x1="83.17" y1="244.93" x2="84.65" y2="243.60" stroke="#7a7a7a" stroke-width="0.8"/><line x1="92.31" y1="246.62" x2="93.75" y2="245.28" stroke="#7a7a7a" stroke-width="0.8"/><line x1="101.54" y1="248.33" x2="103.75" y2="246.16" stroke="#7a7a7a" stroke-width="0.8"/><line x1="110.84" y1="250.05" x2="112.19" y2="248.67" stroke="#7a7a7a" stroke-width="0.8"/><line x1="120.24" y1="251.78" x2="121.53" y2="250.39" stroke="#7a7a7a" stroke-width="0.8"/><line x1="129.71" y1="253.53" x2="130.96" y2="252.13" stroke="#7a7a7a" stroke-width="0.8"/><line x1="139.28" y1="255.30" x2="140.48" y2="253.88" stroke="#7a7a7a" stroke-width="0.8"/><line x1="148.93" y1="257.08" x2="150.76" y2="254.79" stroke="#7a7a7a" stroke-width="0.8"/><line x1="158.67" y1="258.88" x2="159.77" y2="257.43" stroke="#7a7a7a" stroke-width="0.8"/><line x1="168.50" y1="260.70" x2="169.54" y2="259.23" stroke="#7a7a7a" stroke-width="0.8"/><line x1="178.42" y1="262.53" x2="179.41" y2="261.04" stroke="#7a7a7a" stroke-width="0.8"/><line x1="188.43" y1="264.38" x2="189.37" y2="262.87" stroke="#7a7a7a" stroke-width="0.8"/><line x1="198.54" y1="266.25" x2="199.94" y2="263.82" stroke="#7a7a7a" stroke-width="0.8"/><line x1="208.74" y1="268.14" x2="209.56" y2="266.59" stroke="#7a7a7a" stroke-width="0.8"/><line x1="219.04" y1="270.04" x2="219.81" y2="268.48" stroke="#7a7a7a" stroke-width="0.8"/><line x1="229.43" y1="271.96" x2="230.14" y2="270.38" stroke="#7a7a7a" stroke-width="0.8"/></svg>
<div class="s" style="transform:matrix3d(0.772572451,0.0528747501,0,-0.000391571503,0.960882103,0.0200312105,0,0.00275760259,0,0,1,0,67.8377964,237.327724,0,1)"><svg width="200" height="100"><g filter="url(#cm)"><rect y="-12.00" width="200" height="4.30" fill="url(#a5_0)"/><rect y="-8.00" width="200" height="4.30" fill="url(#a5_1)"/><rect y="-4.00" width="200" height="4.30" fill="url(#a5_2)"/><rect y="0.00" width="200" height="4.30" fill="url(#a5_3)"/><rect y="4.00" width="200" height="4.30" fill="url(#a5_4)"/><rect y="8.00" width="200" height="4.30" fill="url(#a5_5)"/><rect y="12.00" width="200" height="4.30" fill="url(#a5_6)"/><rect y="16.00" width="200" height="4.30" fill="url(#a5_7)"/><rect y="20.00" width="200" height="4.30" fill="url(#a5_8)"/><rect y="24.00" width="200" height="4.30" fill="url(#a5_9)"/><rect y="28.00" width="200" height="4.30" fill="url(#a5_10)"/><rect y="32.00" width="200" height="4.30" fill="url(#a5_11)"/><rect y="36.00" width="200" height="4.30" fill="url(#a5_12)"/><rect y="40.00" width="200" height="4.30" fill="url(#a5_13)"/><rect y="44.00" width="200" height="4.30" fill="url(#a5_14)"/><rect y="48.00" width="200" height="4.30" fill="url(#a5_15)"/><rect y="52.00" width="200" height="4.30" fill="url(#a5_16)"/><rect y="56.00" width="200" height="4.30" fill="url(#a5_17)"/><rect y="60.00" width="200" height="4.30" fill="url(#a5_18)"/><rect y="64.00" width="200" height="4.30" fill="url(#a5_19)"/><rect y="68.00" width="200" height="4.30" fill="url(#a5_20)"/><rect y="72.00" width="200" height="4.30" fill="url(#a5_21)"/><rect y="76.00" width="200" height="4.30" fill="url(#a5_22)"/><rect y="80.00" width="200" height="4.30" fill="url(#a5_23)"/><rect y="84.00" width="200" height="4.30" fill="url(#a5_24)"/><rect y="88.00" width="200" height="4.30" fill="url(#a5_25)"/><rect y="92.00" width="200" height="4.30" fill="url(#a5_26)"/><rect y="96.00" width="200" height="4.30" fill="url(#a5_27)"/><rect y="100.00" width="200" height="4.30" fill="url(#a5_28)"/><rect y="104.00" width="200" height="4.30" fill="url(#a5_29)"/><rect y="108.00" width="200" height="4.30" fill="url(#a5_30)"/></g></svg></div>
<svg class="o" width="685" height="302"><polygon points="67.84,237.33 241.25,268.97 265.93,208.70 128.49,187.60" fill="none" stroke="#383838" stroke-width="1.05" stroke-linejoin="round"/></svg>
<div class="s" style="transform:matrix3d(0.783748385,0.0536396294,0,-0.000397235926,0.9747821,0.0203209794,0,0.00279749371,0,0,1,0,68.3663356,204.334845,0,1)"><svg width="200" height="100"><g filter="url(#cm)"><rect y="-12.00" width="200" height="4.30" fill="url(#a4_0)"/><rect y="-8.00" width="200" height="4.30" fill="url(#a4_1)"/><rect y="-4.00" width="200" height="4.30" fill="url(#a4_2)"/><rect y="0.00" width="200" height="4.30" fill="url(#a4_3)"/><rect y="4.00" width="200" height="4.30" fill="url(#a4_4)"/><rect y="8.00" width="200" height="4.30" fill="url(#a4_5)"/><rect y="12.00" width="200" height="4.30" fill="url(#a4_6)"/><rect y="16.00" width="200" height="4.30" fill="url(#a4_7)"/><rect y="20.00" width="200" height="4.30" fill="url(#a4_8)"/><rect y="24.00" width="200" height="4.30" fill="url(#a4_9)"/><rect y="28.00" width="200" height="4.30" fill="url(#a4_10)"/><rect y="32.00" width="200" height="4.30" fill="url(#a4_11)"/><rect y="36.00" width="200" height="4.30" fill="url(#a4_12)"/><rect y="40.00" width="200" height="4.30" fill="url(#a4_13)"/><rect y="44.00" width="200" height="4.30" fill="url(#a4_14)"/><rect y="48.00" width="200" height="4.30" fill="url(#a4_15)"/><rect y="52.00" width="200" height="4.30" fill="url(#a4_16)"/><rect y="56.00" width="200" height="4.30" fill="url(#a4_17)"/><rect y="60.00" width="200" height="4.30" fill="url(#a4_18)"/><rect y="64.00" width="200" height="4.30" fill="url(#a4_19)"/><rect y="68.00" width="200" height="4.30" fill="url(#a4_20)"/><rect y="72.00" width="200" height="4.30" fill="url(#a4_21)"/><rect y="76.00" width="200" height="4.30" fill="url(#a4_22)"/><rect y="80.00" width="200" height="4.30" fill="url(#a4_23)"/><rect y="84.00" width="200" height="4.30" fill="url(#a4_24)"/><rect y="88.00" width="200" height="4.30" fill="url(#a4_25)"/><rect y="92.00" width="200" height="4.30" fill="url(#a4_26)"/><rect y="96.00" width="200" height="4.30" fill="url(#a4_27)"/><rect y="100.00" width="200" height="4.30" fill="url(#a4_28)"/><rect y="104.00" width="200" height="4.30" fill="url(#a4_29)"/><rect y="108.00" width="200" height="4.30" fill="url(#a4_30)"/></g></svg></div>
<svg class="o" width="685" height="302"><polygon points="68.37,204.33 244.54,233.62 268.76,180.87 129.59,161.26" fill="none" stroke="#383838" stroke-width="1.05" stroke-linejoin="round"/></svg>
<div class="s" style="transform:matrix3d(0.795252404,0.0544269629,0,-0.000403066636,0.989090151,0.0206192549,0,0.0028385559,0,0,1,0,68.9103907,170.373413,0,1)"><svg width="200" height="100"><g filter="url(#cm)"><rect y="-12.00" width="200" height="4.30" fill="url(#a3_0)"/><rect y="-8.00" width="200" height="4.30" fill="url(#a3_1)"/><rect y="-4.00" width="200" height="4.30" fill="url(#a3_2)"/><rect y="0.00" width="200" height="4.30" fill="url(#a3_3)"/><rect y="4.00" width="200" height="4.30" fill="url(#a3_4)"/><rect y="8.00" width="200" height="4.30" fill="url(#a3_5)"/><rect y="12.00" width="200" height="4.30" fill="url(#a3_6)"/><rect y="16.00" width="200" height="4.30" fill="url(#a3_7)"/><rect y="20.00" width="200" height="4.30" fill="url(#a3_8)"/><rect y="24.00" width="200" height="4.30" fill="url(#a3_9)"/><rect y="28.00" width="200" height="4.30" fill="url(#a3_10)"/><rect y="32.00" width="200" height="4.30" fill="url(#a3_11)"/><rect y="36.00" width="200" height="4.30" fill="url(#a3_12)"/><rect y="40.00" width="200" height="4.30" fill="url(#a3_13)"/><rect y="44.00" width="200" height="4.30" fill="url(#a3_14)"/><rect y="48.00" width="200" height="4.30" fill="url(#a3_15)"/><rect y="52.00" width="200" height="4.30" fill="url(#a3_16)"/><rect y="56.00" width="200" height="4.30" fill="url(#a3_17)"/><rect y="60.00" width="200" height="4.30" fill="url(#a3_18)"/><rect y="64.00" width="200" height="4.30" fill="url(#a3_19)"/><rect y="68.00" width="200" height="4.30" fill="url(#a3_20)"/><rect y="72.00" width="200" height="4.30" fill="url(#a3_21)"/><rect y="76.00" width="200" height="4.30" fill="url(#a3_22)"/><rect y="80.00" width="200" height="4.30" fill="url(#a3_23)"/><rect y="84.00" width="200" height="4.30" fill="url(#a3_24)"/><rect y="88.00" width="200" height="4.30" fill="url(#a3_25)"/><rect y="92.00" width="200" height="4.30" fill="url(#a3_26)"/><rect y="96.00" width="200" height="4.30" fill="url(#a3_27)"/><rect y="100.00" width="200" height="4.30" fill="url(#a3_28)"/><rect y="104.00" width="200" height="4.30" fill="url(#a3_29)"/><rect y="108.00" width="200" height="4.30" fill="url(#a3_30)"/></g></svg></div>
<svg class="o" width="685" height="302"><polygon points="68.91,170.37 247.95,197.15 271.66,152.36 130.72,134.31" fill="none" stroke="#383838" stroke-width="1.05" stroke-linejoin="round"/></svg>
<div class="s" style="transform:matrix3d(0.807099171,0.0552377539,0,-0.000409071065,1.00382449,0.0209264171,0,0.00288084148,0,0,1,0,69.4706553,135.400143,0,1)"><svg width="200" height="100"><g filter="url(#cm)"><rect y="-12.00" width="200" height="4.30" fill="url(#a2_0)"/><rect y="-8.00" width="200" height="4.30" fill="url(#a2_1)"/><rect y="-4.00" width="200" height="4.30" fill="url(#a2_2)"/><rect y="0.00" width="200" height="4.30" fill="url(#a2_3)"/><rect y="4.00" width="200" height="4.30" fill="url(#a2_4)"/><rect y="8.00" width="200" height="4.30" fill="url(#a2_5)"/><rect y="12.00" width="200" height="4.30" fill="url(#a2_6)"/><rect y="16.00" width="200" height="4.30" fill="url(#a2_7)"/><rect y="20.00" width="200" height="4.30" fill="url(#a2_8)"/><rect y="24.00" width="200" height="4.30" fill="url(#a2_9)"/><rect y="28.00" width="200" height="4.30" fill="url(#a2_10)"/><rect y="32.00" width="200" height="4.30" fill="url(#a2_11)"/><rect y="36.00" width="200" height="4.30" fill="url(#a2_12)"/><rect y="40.00" width="200" height="4.30" fill="url(#a2_13)"/><rect y="44.00" width="200" height="4.30" fill="url(#a2_14)"/><rect y="48.00" width="200" height="4.30" fill="url(#a2_15)"/><rect y="52.00" width="200" height="4.30" fill="url(#a2_16)"/><rect y="56.00" width="200" height="4.30" fill="url(#a2_17)"/><rect y="60.00" width="200" height="4.30" fill="url(#a2_18)"/><rect y="64.00" width="200" height="4.30" fill="url(#a2_19)"/><rect y="68.00" width="200" height="4.30" fill="url(#a2_20)"/><rect y="72.00" width="200" height="4.30" fill="url(#a2_21)"/><rect y="76.00" width="200" height="4.30" fill="url(#a2_22)"/><rect y="80.00" width="200" height="4.30" fill="url(#a2_23)"/><rect y="84.00" width="200" height="4.30" fill="url(#a2_24)"/><rect y="88.00" width="200" height="4.30" fill="url(#a2_25)"/><rect y="92.00" width="200" height="4.30" fill="url(#a2_26)"/><rect y="96.00" width="200" height="4.30" fill="url(#a2_27)"/><rect y="100.00" width="200" height="4.30" fill="url(#a2_28)"/><rect y="104.00" width="200" height="4.30" fill="url(#a2_29)"/><rect y="108.00" width="200" height="4.30" fill="url(#a2_30)"/></g></svg></div>
<svg class="o" width="685" height="302"><polygon points="69.47,135.40 251.46,159.50 274.63,123.14 131.86,106.74" fill="none" stroke="#383838" stroke-width="1.05" stroke-linejoin="round"/></svg>
<div class="s" style="transform:matrix3d(0.819304235,0.0560730668,0,-0.000415257094,1.01900446,0.0212428693,0,0.00292440596,0,0,1,0,70.0478647,99.3691323,0,1)"><svg width="200" height="100"><g filter="url(#cm)"><rect y="-12.00" width="200" height="4.30" fill="url(#a1_0)"/><rect y="-8.00" width="200" height="4.30" fill="url(#a1_1)"/><rect y="-4.00" width="200" height="4.30" fill="url(#a1_2)"/><rect y="0.00" width="200" height="4.30" fill="url(#a1_3)"/><rect y="4.00" width="200" height="4.30" fill="url(#a1_4)"/><rect y="8.00" width="200" height="4.30" fill="url(#a1_5)"/><rect y="12.00" width="200" height="4.30" fill="url(#a1_6)"/><rect y="16.00" width="200" height="4.30" fill="url(#a1_7)"/><rect y="20.00" width="200" height="4.30" fill="url(#a1_8)"/><rect y="24.00" width="200" height="4.30" fill="url(#a1_9)"/><rect y="28.00" width="200" height="4.30" fill="url(#a1_10)"/><rect y="32.00" width="200" height="4.30" fill="url(#a1_11)"/><rect y="36.00" width="200" height="4.30" fill="url(#a1_12)"/><rect y="40.00" width="200" height="4.30" fill="url(#a1_13)"/><rect y="44.00" width="200" height="4.30" fill="url(#a1_14)"/><rect y="48.00" width="200" height="4.30" fill="url(#a1_15)"/><rect y="52.00" width="200" height="4.30" fill="url(#a1_16)"/><rect y="56.00" width="200" height="4.30" fill="url(#a1_17)"/><rect y="60.00" width="200" height="4.30" fill="url(#a1_18)"/><rect y="64.00" width="200" height="4.30" fill="url(#a1_19)"/><rect y="68.00" width="200" height="4.30" fill="url(#a1_20)"/><rect y="72.00" width="200" height="4.30" fill="url(#a1_21)"/><rect y="76.00" width="200" height="4.30" fill="url(#a1_22)"/><rect y="80.00" width="200" height="4.30" fill="url(#a1_23)"/><rect y="84.00" width="200" height="4.30" fill="url(#a1_24)"/><rect y="88.00" width="200" height="4.30" fill="url(#a1_25)"/><rect y="92.00" width="200" height="4.30" fill="url(#a1_26)"/><rect y="96.00" width="200" height="4.30" fill="url(#a1_27)"/><rect y="100.00" width="200" height="4.30" fill="url(#a1_28)"/><rect y="104.00" width="200" height="4.30" fill="url(#a1_29)"/><rect y="108.00" width="200" height="4.30" fill="url(#a1_30)"/></g></svg></div>
<svg class="o" width="685" height="302"><polygon points="70.05,99.37 255.09,120.60 277.67,93.19 133.04,78.53" fill="none" stroke="#383838" stroke-width="1.05" stroke-linejoin="round"/></svg>
<div class="s" style="transform:matrix3d(0.831884099,0.0569340309,0,-0.000421633087,1.03465059,0.0215690392,0,0.00296930824,0,0,1,0,70.6427994,62.2316578,0,1)"><svg width="200" height="100"><g filter="url(#cm)"><rect y="-12.00" width="200" height="4.30" fill="url(#a0_0)"/><rect y="-8.00" width="200" height="4.30" fill="url(#a0_1)"/><rect y="-4.00" width="200" height="4.30" fill="url(#a0_2)"/><rect y="0.00" width="200" height="4.30" fill="url(#a0_3)"/><rect y="4.00" width="200" height="4.30" fill="url(#a0_4)"/><rect y="8.00" width="200" height="4.30" fill="url(#a0_5)"/><rect y="12.00" width="200" height="4.30" fill="url(#a0_6)"/><rect y="16.00" width="200" height="4.30" fill="url(#a0_7)"/><rect y="20.00" width="200" height="4.30" fill="url(#a0_8)"/><rect y="24.00" width="200" height="4.30" fill="url(#a0_9)"/><rect y="28.00" width="200" height="4.30" fill="url(#a0_10)"/><rect y="32.00" width="200" height="4.30" fill="url(#a0_11)"/><rect y="36.00" width="200" height="4.30" fill="url(#a0_12)"/><rect y="40.00" width="200" height="4.30" fill="url(#a0_13)"/><rect y="44.00" width="200" height="4.30" fill="url(#a0_14)"/><rect y="48.00" width="200" height="4.30" fill="url(#a0_15)"/><rect y="52.00" width="200" height="4.30" fill="url(#a0_16)"/><rect y="56.00" width="200" height="4.30" fill="url(#a0_17)"/><rect y="60.00" width="200" height="4.30" fill="url(#a0_18)"/><rect y="64.00" width="200" height="4.30" fill="url(#a0_19)"/><rect y="68.00" width="200" height="4.30" fill="url(#a0_20)"/><rect y="72.00" width="200" height="4.30" fill="url(#a0_21)"/><rect y="76.00" width="200" height="4.30" fill="url(#a0_22)"/><rect y="80.00" width="200" height="4.30" fill="url(#a0_23)"/><rect y="84.00" width="200" height="4.30" fill="url(#a0_24)"/><rect y="88.00" width="200" height="4.30" fill="url(#a0_25)"/><rect y="92.00" width="200" height="4.30" fill="url(#a0_26)"/><rect y="96.00" width="200" height="4.30" fill="url(#a0_27)"/><rect y="100.00" width="200" height="4.30" fill="url(#a0_28)"/><rect y="104.00" width="200" height="4.30" fill="url(#a0_29)"/><rect y="108.00" width="200" height="4.30" fill="url(#a0_30)"/></g></svg></div>
<svg class="o" width="685" height="302"><polygon points="70.64,62.23 258.85,80.40 280.79,62.49 134.25,49.65" fill="none" stroke="#383838" stroke-width="1.05" stroke-linejoin="round"/></svg>
<svg class="o" width="685" height="302"><line x1="62.31" y1="241.08" x2="64.79" y2="58.39" stroke="#858585" stroke-width="1.0"/><line x1="64.79" y1="58.39" x2="261.90" y2="77.10" stroke="#858585" stroke-width="1.0"/><line x1="243.25" y1="274.51" x2="261.90" y2="77.10" stroke="#858585" stroke-width="1.0"/><line x1="62.31" y1="241.08" x2="243.25" y2="274.51" stroke="#858585" stroke-width="1.0"/><line x1="64.79" y1="58.39" x2="133.67" y2="45.98" stroke="#858585" stroke-width="1.0"/><line x1="133.67" y1="45.98" x2="284.42" y2="58.93" stroke="#858585" stroke-width="1.0"/><line x1="284.42" y1="58.93" x2="261.90" y2="77.10" stroke="#858585" stroke-width="1.0"/><line x1="72.25" y1="57.05" x2="72.21" y2="59.65" stroke="#7a7a7a" stroke-width="0.8"/><line x1="76.66" y1="56.25" x2="76.61" y2="58.81" stroke="#7a7a7a" stroke-width="0.8"/><line x1="80.93" y1="55.48" x2="80.88" y2="58.00" stroke="#7a7a7a" stroke-width="0.8"/><line x1="85.07" y1="54.73" x2="85.00" y2="58.28" stroke="#7a7a7a" stroke-width="0.8"/><line x1="89.09" y1="54.01" x2="89.03" y2="56.46" stroke="#7a7a7a" stroke-width="0.8"/><line x1="92.98" y1="53.31" x2="92.92" y2="55.72" stroke="#7a7a7a" stroke-width="0.8"/><line x1="96.76" y1="52.63" x2="96.70" y2="55.00" stroke="#7a7a7a" stroke-width="0.8"/><line x1="100.43" y1="51.97" x2="100.36" y2="54.31" stroke="#7a7a7a" stroke-width="0.8"/><line x1="103.99" y1="51.32" x2="103.89" y2="54.62" stroke="#7a7a7a" stroke-width="0.8"/><line x1="107.45" y1="50.70" x2="107.38" y2="52.98" stroke="#7a7a7a" stroke-width="0.8"/><line x1="110.82" y1="50.09" x2="110.75" y2="52.34" stroke="#7a7a7a" stroke-width="0.8"/><line x1="114.09" y1="49.50" x2="114.02" y2="51.72" stroke="#7a7a7a" stroke-width="0.8"/><line x1="117.28" y1="48.93" x2="117.20" y2="51.11" stroke="#7a7a7a" stroke-width="0.8"/><line x1="120.37" y1="48.37" x2="120.26" y2="51.45" stroke="#7a7a7a" stroke-width="0.8"/><line x1="123.39" y1="47.83" x2="123.31" y2="49.96" stroke="#7a7a7a" stroke-width="0.8"/><line x1="126.33" y1="47.30" x2="126.25" y2="49.40" stroke="#7a7a7a" stroke-width="0.8"/><line x1="129.19" y1="46.78" x2="129.11" y2="48.86" stroke="#7a7a7a" stroke-width="0.8"/><line x1="62.33" y1="239.01" x2="65.23" y2="239.55" stroke="#7a7a7a" stroke-width="0.8"/><line x1="62.56" y1="222.51" x2="67.43" y2="223.37" stroke="#7a7a7a" stroke-width="0.8"/><line x1="62.79" y1="205.77" x2="65.73" y2="206.26" stroke="#7a7a7a" stroke-width="0.8"/><line x1="63.02" y1="188.78" x2="65.98" y2="189.25" stroke="#7a7a7a" stroke-width="0.8"/><line x1="63.25" y1="171.55" x2="66.24" y2="171.99" stroke="#7a7a7a" stroke-width="0.8"/><line x1="63.49" y1="154.05" x2="68.51" y2="154.76" stroke="#7a7a7a" stroke-width="0.8"/><line x1="63.73" y1="136.29" x2="66.76" y2="136.69" stroke="#7a7a7a" stroke-width="0.8"/><line x1="63.98" y1="118.26" x2="67.03" y2="118.64" stroke="#7a7a7a" stroke-width="0.8"/><line x1="64.23" y1="99.96" x2="67.30" y2="100.31" stroke="#7a7a7a" stroke-width="0.8"/><line x1="64.48" y1="81.38" x2="69.65" y2="81.93" stroke="#7a7a7a" stroke-width="0.8"/><line x1="64.74" y1="62.50" x2="67.86" y2="62.81" stroke="#7a7a7a" stroke-width="0.8"/></svg>
<svg class="o" width="685" height="302"><line x1="484.59" y1="183.29" x2="487.27" y2="49.54" stroke="#858585" stroke-width="1.0"/><line x1="484.59" y1="183.29" x2="616.48" y2="204.85" stroke="#858585" stroke-width="1.0"/><line x1="413.70" y1="236.71" x2="484.59" y2="183.29" stroke="#858585" stroke-width="1.0"/><line x1="616.48" y1="204.85" x2="630.50" y2="60.82" stroke="#858585" stroke-width="1.0"/><line x1="616.48" y1="204.85" x2="579.00" y2="270.86" stroke="#858585" stroke-width="1.0"/><line x1="424.38" y1="238.91" x2="426.01" y2="237.63" stroke="#7a7a7a" stroke-width="0.8"/><line x1="432.52" y1="240.60" x2="434.12" y2="239.30" stroke="#7a7a7a" stroke-width="0.8"/><line x1="440.75" y1="242.30" x2="442.32" y2="240.98" stroke="#7a7a7a" stroke-width="0.8"/><line x1="449.07" y1="244.02" x2="451.51" y2="241.89" stroke="#7a7a7a" stroke-width="0.8"/><line x1="457.49" y1="245.75" x2="458.97" y2="244.41" stroke="#7a7a7a" stroke-width="0.8"/><line x1="465.99" y1="247.51" x2="467.44" y2="246.15" stroke="#7a7a7a" stroke-width="0.8"/><line x1="474.58" y1="249.29" x2="476.00" y2="247.91" stroke="#7a7a7a" stroke-width="0.8"/><line x1="483.28" y1="251.08" x2="484.65" y2="249.68" stroke="#7a7a7a" stroke-width="0.8"/><line x1="492.06" y1="252.90" x2="494.19" y2="250.64" stroke="#7a7a7a" stroke-width="0.8"/><line x1="500.95" y1="254.73" x2="502.24" y2="253.30" stroke="#7a7a7a" stroke-width="0.8"/><line x1="509.94" y1="256.59" x2="511.19" y2="255.14" stroke="#7a7a7a" stroke-width="0.8"/><line x1="519.02" y1="258.47" x2="520.23" y2="257.00" stroke="#7a7a7a" stroke-width="0.8"/><line x1="528.22" y1="260.37" x2="529.38" y2="258.88" stroke="#7a7a7a" stroke-width="0.8"/><line x1="537.51" y1="262.29" x2="539.29" y2="259.88" stroke="#7a7a7a" stroke-width="0.8"/><line x1="546.92" y1="264.23" x2="547.99" y2="262.70" stroke="#7a7a7a" stroke-width="0.8"/><line x1="556.43" y1="266.19" x2="557.45" y2="264.65" stroke="#7a7a7a" stroke-width="0.8"/><line x1="566.05" y1="268.18" x2="567.03" y2="266.61" stroke="#7a7a7a" stroke-width="0.8"/></svg>
<div class="s" style="transform:matrix3d(0.517751531,0.0355180157,0,-0.000472390779,1.90522844,-0.016951969,0,0.00258684562,0,0,1,0,419.586298,233.467727,0,1)"><svg width="200" height="100"><g filter="url(#cm)"><rect y="-12.00" width="200" height="4.30" fill="url(#b5_0)"/><rect y="-8.00" width="200" height="4.30" fill="url(#b5_1)"/><rect y="-4.00" width="200" height="4.30" fill="url(#b5_2)"/><rect y="0.00" width="200" height="4.30" fill="url(#b5_3)"/><rect y="4.00" width="200" height="4.30" fill="url(#b5_4)"/><rect y="8.00" width="200" height="4.30" fill="url(#b5_5)"/><rect y="12.00" width="200" height="4.30" fill="url(#b5_6)"/><rect y="16.00" width="200" height="4.30" fill="url(#b5_7)"/><rect y="20.00" width="200" height="4.30" fill="url(#b5_8)"/><rect y="24.00" width="200" height="4.30" fill="url(#b5_9)"/><rect y="28.00" width="200" height="4.30" fill="url(#b5_10)"/><rect y="32.00" width="200" height="4.30" fill="url(#b5_11)"/><rect y="36.00" width="200" height="4.30" fill="url(#b5_12)"/><rect y="40.00" width="200" height="4.30" fill="url(#b5_13)"/><rect y="44.00" width="200" height="4.30" fill="url(#b5_14)"/><rect y="48.00" width="200" height="4.30" fill="url(#b5_15)"/><rect y="52.00" width="200" height="4.30" fill="url(#b5_16)"/><rect y="56.00" width="200" height="4.30" fill="url(#b5_17)"/><rect y="60.00" width="200" height="4.30" fill="url(#b5_18)"/><rect y="64.00" width="200" height="4.30" fill="url(#b5_19)"/><rect y="68.00" width="200" height="4.30" fill="url(#b5_20)"/><rect y="72.00" width="200" height="4.30" fill="url(#b5_21)"/><rect y="76.00" width="200" height="4.30" fill="url(#b5_22)"/><rect y="80.00" width="200" height="4.30" fill="url(#b5_23)"/><rect y="84.00" width="200" height="4.30" fill="url(#b5_24)"/><rect y="88.00" width="200" height="4.30" fill="url(#b5_25)"/><rect y="92.00" width="200" height="4.30" fill="url(#b5_26)"/><rect y="96.00" width="200" height="4.30" fill="url(#b5_27)"/><rect y="100.00" width="200" height="4.30" fill="url(#b5_28)"/><rect y="104.00" width="200" height="4.30" fill="url(#b5_29)"/><rect y="108.00" width="200" height="4.30" fill="url(#b5_30)"/></g></svg></div>
<svg class="o" width="685" height="302"><polygon points="419.59,233.47 577.72,265.67 613.00,205.18 484.72,184.14" fill="none" stroke="#383838" stroke-width="1.05" stroke-linejoin="round"/></svg>
<div class="s" style="transform:matrix3d(0.527094674,0.0361589601,0,-0.00048091536,1.93960945,-0.0172578777,0,0.00263352683,0,0,1,0,419.03788,203.125919,0,1)"><svg width="200" height="100"><g filter="url(#cm)"><rect y="-12.00" width="200" height="4.30" fill="url(#b4_0)"/><rect y="-8.00" width="200" height="4.30" fill="url(#b4_1)"/><rect y="-4.00" width="200" height="4.30" fill="url(#b4_2)"/><rect y="0.00" width="200" height="4.30" fill="url(#b4_3)"/><rect y="4.00" width="200" height="4.30" fill="url(#b4_4)"/><rect y="8.00" width="200" height="4.30" fill="url(#b4_5)"/><rect y="12.00" width="200" height="4.30" fill="url(#b4_6)"/><rect y="16.00" width="200" height="4.30" fill="url(#b4_7)"/><rect y="20.00" width="200" height="4.30" fill="url(#b4_8)"/><rect y="24.00" width="200" height="4.30" fill="url(#b4_9)"/><rect y="28.00" width="200" height="4.30" fill="url(#b4_10)"/><rect y="32.00" width="200" height="4.30" fill="url(#b4_11)"/><rect y="36.00" width="200" height="4.30" fill="url(#b4_12)"/><rect y="40.00" width="200" height="4.30" fill="url(#b4_13)"/><rect y="44.00" width="200" height="4.30" fill="url(#b4_14)"/><rect y="48.00" width="200" height="4.30" fill="url(#b4_15)"/><rect y="52.00" width="200" height="4.30" fill="url(#b4_16)"/><rect y="56.00" width="200" height="4.30" fill="url(#b4_17)"/><rect y="60.00" width="200" height="4.30" fill="url(#b4_18)"/><rect y="64.00" width="200" height="4.30" fill="url(#b4_19)"/><rect y="68.00" width="200" height="4.30" fill="url(#b4_20)"/><rect y="72.00" width="200" height="4.30" fill="url(#b4_21)"/><rect y="76.00" width="200" height="4.30" fill="url(#b4_22)"/><rect y="80.00" width="200" height="4.30" fill="url(#b4_23)"/><rect y="84.00" width="200" height="4.30" fill="url(#b4_24)"/><rect y="88.00" width="200" height="4.30" fill="url(#b4_25)"/><rect y="92.00" width="200" height="4.30" fill="url(#b4_26)"/><rect y="96.00" width="200" height="4.30" fill="url(#b4_27)"/><rect y="100.00" width="200" height="4.30" fill="url(#b4_28)"/><rect y="104.00" width="200" height="4.30" fill="url(#b4_29)"/><rect y="108.00" width="200" height="4.30" fill="url(#b4_30)"/></g></svg></div>
<svg class="o" width="685" height="302"><polygon points="419.04,203.13 580.27,232.74 615.52,178.75 485.22,159.42" fill="none" stroke="#383838" stroke-width="1.05" stroke-linejoin="round"/></svg>
<div class="s" style="transform:matrix3d(0.53678122,0.036823462,0,-0.000489753258,1.97525412,-0.0175750298,0,0.00268192379,0,0,1,0,418.469306,171.668914,0,1)"><svg width="200" height="100"><g filter="url(#cm)"><rect y="-12.00" width="200" height="4.30" fill="url(#b3_0)"/><rect y="-8.00" width="200" height="4.30" fill="url(#b3_1)"/><rect y="-4.00" width="200" height="4.30" fill="url(#b3_2)"/><rect y="0.00" width="200" height="4.30" fill="url(#b3_3)"/><rect y="4.00" width="200" height="4.30" fill="url(#b3_4)"/><rect y="8.00" width="200" height="4.30" fill="url(#b3_5)"/><rect y="12.00" width="200" height="4.30" fill="url(#b3_6)"/><rect y="16.00" width="200" height="4.30" fill="url(#b3_7)"/><rect y="20.00" width="200" height="4.30" fill="url(#b3_8)"/><rect y="24.00" width="200" height="4.30" fill="url(#b3_9)"/><rect y="28.00" width="200" height="4.30" fill="url(#b3_10)"/><rect y="32.00" width="200" height="4.30" fill="url(#b3_11)"/><rect y="36.00" width="200" height="4.30" fill="url(#b3_12)"/><rect y="40.00" width="200" height="4.30" fill="url(#b3_13)"/><rect y="44.00" width="200" height="4.30" fill="url(#b3_14)"/><rect y="48.00" width="200" height="4.30" fill="url(#b3_15)"/><rect y="52.00" width="200" height="4.30" fill="url(#b3_16)"/><rect y="56.00" width="200" height="4.30" fill="url(#b3_17)"/><rect y="60.00" width="200" height="4.30" fill="url(#b3_18)"/><rect y="64.00" width="200" height="4.30" fill="url(#b3_19)"/><rect y="68.00" width="200" height="4.30" fill="url(#b3_20)"/><rect y="72.00" width="200" height="4.30" fill="url(#b3_21)"/><rect y="76.00" width="200" height="4.30" fill="url(#b3_22)"/><rect y="80.00" width="200" height="4.30" fill="url(#b3_23)"/><rect y="84.00" width="200" height="4.30" fill="url(#b3_24)"/><rect y="88.00" width="200" height="4.30" fill="url(#b3_25)"/><rect y="92.00" width="200" height="4.30" fill="url(#b3_26)"/><rect y="96.00" width="200" height="4.30" fill="url(#b3_27)"/><rect y="100.00" width="200" height="4.30" fill="url(#b3_28)"/><rect y="104.00" width="200" height="4.30" fill="url(#b3_29)"/><rect y="108.00" width="200" height="4.30" fill="url(#b3_30)"/></g></svg></div>
<svg class="o" width="685" height="302"><polygon points="418.47,171.67 582.92,198.47 618.12,151.49 485.73,133.98" fill="none" stroke="#383838" stroke-width="1.05" stroke-linejoin="round"/></svg>
<div class="s" style="transform:matrix3d(0.546830455,0.0375128446,0,-0.000498922069,2.01223342,-0.017904057,0,0.00273213285,0,0,1,0,417.879442,139.034077,0,1)"><svg width="200" height="100"><g filter="url(#cm)"><rect y="-12.00" width="200" height="4.30" fill="url(#b2_0)"/><rect y="-8.00" width="200" height="4.30" fill="url(#b2_1)"/><rect y="-4.00" width="200" height="4.30" fill="url(#b2_2)"/><rect y="0.00" width="200" height="4.30" fill="url(#b2_3)"/><rect y="4.00" width="200" height="4.30" fill="url(#b2_4)"/><rect y="8.00" width="200" height="4.30" fill="url(#b2_5)"/><rect y="12.00" width="200" height="4.30" fill="url(#b2_6)"/><rect y="16.00" width="200" height="4.30" fill="url(#b2_7)"/><rect y="20.00" width="200" height="4.30" fill="url(#b2_8)"/><rect y="24.00" width="200" height="4.30" fill="url(#b2_9)"/><rect y="28.00" width="200" height="4.30" fill="url(#b2_10)"/><rect y="32.00" width="200" height="4.30" fill="url(#b2_11)"/><rect y="36.00" width="200" height="4.30" fill="url(#b2_12)"/><rect y="40.00" width="200" height="4.30" fill="url(#b2_13)"/><rect y="44.00" width="200" height="4.30" fill="url(#b2_14)"/><rect y="48.00" width="200" height="4.30" fill="url(#b2_15)"/><rect y="52.00" width="200" height="4.30" fill="url(#b2_16)"/><rect y="56.00" width="200" height="4.30" fill="url(#b2_17)"/><rect y="60.00" width="200" height="4.30" fill="url(#b2_18)"/><rect y="64.00" width="200" height="4.30" fill="url(#b2_19)"/><rect y="68.00" width="200" height="4.30" fill="url(#b2_20)"/><rect y="72.00" width="200" height="4.30" fill="url(#b2_21)"/><rect y="76.00" width="200" height="4.30" fill="url(#b2_22)"/><rect y="80.00" width="200" height="4.30" fill="url(#b2_23)"/><rect y="84.00" width="200" height="4.30" fill="url(#b2_24)"/><rect y="88.00" width="200" height="4.30" fill="url(#b2_25)"/><rect y="92.00" width="200" height="4.30" fill="url(#b2_26)"/><rect y="96.00" width="200" height="4.30" fill="url(#b2_27)"/><rect y="100.00" width="200" height="4.30" fill="url(#b2_28)"/><rect y="104.00" width="200" height="4.30" fill="url(#b2_29)"/><rect y="108.00" width="200" height="4.30" fill="url(#b2_30)"/></g></svg></div>
<svg class="o" width="685" height="302"><polygon points="417.88,139.03 585.69,162.78 620.80,123.35 486.25,107.79" fill="none" stroke="#383838" stroke-width="1.05" stroke-linejoin="round"/></svg>
<div class="s" style="transform:matrix3d(0.557263138,0.0382285319,0,-0.000508440734,2.05062374,-0.0182456388,0,0.00278425774,0,0,1,0,417.267071,105.153996,0,1)"><svg width="200" height="100"><g filter="url(#cm)"><rect y="-12.00" width="200" height="4.30" fill="url(#b1_0)"/><rect y="-8.00" width="200" height="4.30" fill="url(#b1_1)"/><rect y="-4.00" width="200" height="4.30" fill="url(#b1_2)"/><rect y="0.00" width="200" height="4.30" fill="url(#b1_3)"/><rect y="4.00" width="200" height="4.30" fill="url(#b1_4)"/><rect y="8.00" width="200" height="4.30" fill="url(#b1_5)"/><rect y="12.00" width="200" height="4.30" fill="url(#b1_6)"/><rect y="16.00" width="200" height="4.30" fill="url(#b1_7)"/><rect y="20.00" width="200" height="4.30" fill="url(#b1_8)"/><rect y="24.00" width="200" height="4.30" fill="url(#b1_9)"/><rect y="28.00" width="200" height="4.30" fill="url(#b1_10)"/><rect y="32.00" width="200" height="4.30" fill="url(#b1_11)"/><rect y="36.00" width="200" height="4.30" fill="url(#b1_12)"/><rect y="40.00" width="200" height="4.30" fill="url(#b1_13)"/><rect y="44.00" width="200" height="4.30" fill="url(#b1_14)"/><rect y="48.00" width="200" height="4.30" fill="url(#b1_15)"/><rect y="52.00" width="200" height="4.30" fill="url(#b1_16)"/><rect y="56.00" width="200" height="4.30" fill="url(#b1_17)"/><rect y="60.00" width="200" height="4.30" fill="url(#b1_18)"/><rect y="64.00" width="200" height="4.30" fill="url(#b1_19)"/><rect y="68.00" width="200" height="4.30" fill="url(#b1_20)"/><rect y="72.00" width="200" height="4.30" fill="url(#b1_21)"/><rect y="76.00" width="200" height="4.30" fill="url(#b1_22)"/><rect y="80.00" width="200" height="4.30" fill="url(#b1_23)"/><rect y="84.00" width="200" height="4.30" fill="url(#b1_24)"/><rect y="88.00" width="200" height="4.30" fill="url(#b1_25)"/><rect y="92.00" width="200" height="4.30" fill="url(#b1_26)"/><rect y="96.00" width="200" height="4.30" fill="url(#b1_27)"/><rect y="100.00" width="200" height="4.30" fill="url(#b1_28)"/><rect y="104.00" width="200" height="4.30" fill="url(#b1_29)"/><rect y="108.00" width="200" height="4.30" fill="url(#b1_30)"/></g></svg></div>
<svg class="o" width="685" height="302"><polygon points="417.27,105.15 588.57,125.57 623.57,94.31 486.79,80.83" fill="none" stroke="#383838" stroke-width="1.05" stroke-linejoin="round"/></svg>
<div class="s" style="transform:matrix3d(0.568101642,0.0389720588,0,-0.000518329665,2.0905074,-0.0186005079,0,0.00283841024,0,0,1,0,416.63088,69.9560117,0,1)"><svg width="200" height="100"><g filter="url(#cm)"><rect y="-12.00" width="200" height="4.30" fill="url(#b0_0)"/><rect y="-8.00" width="200" height="4.30" fill="url(#b0_1)"/><rect y="-4.00" width="200" height="4.30" fill="url(#b0_2)"/><rect y="0.00" width="200" height="4.30" fill="url(#b0_3)"/><rect y="4.00" width="200" height="4.30" fill="url(#b0_4)"/><rect y="8.00" width="200" height="4.30" fill="url(#b0_5)"/><rect y="12.00" width="200" height="4.30" fill="url(#b0_6)"/><rect y="16.00" width="200" height="4.30" fill="url(#b0_7)"/><rect y="20.00" width="200" height="4.30" fill="url(#b0_8)"/><rect y="24.00" width="200" height="4.30" fill="url(#b0_9)"/><rect y="28.00" width="200" height="4.30" fill="url(#b0_10)"/><rect y="32.00" width="200" height="4.30" fill="url(#b0_11)"/><rect y="36.00" width="200" height="4.30" fill="url(#b0_12)"/><rect y="40.00" width="200" height="4.30" fill="url(#b0_13)"/><rect y="44.00" width="200" height="4.30" fill="url(#b0_14)"/><rect y="48.00" width="200" height="4.30" fill="url(#b0_15)"/><rect y="52.00" width="200" height="4.30" fill="url(#b0_16)"/><rect y="56.00" width="200" height="4.30" fill="url(#b0_17)"/><rect y="60.00" width="200" height="4.30" fill="url(#b0_18)"/><rect y="64.00" width="200" height="4.30" fill="url(#b0_19)"/><rect y="68.00" width="200" height="4.30" fill="url(#b0_20)"/><rect y="72.00" width="200" height="4.30" fill="url(#b0_21)"/><rect y="76.00" width="200" height="4.30" fill="url(#b0_22)"/><rect y="80.00" width="200" height="4.30" fill="url(#b0_23)"/><rect y="84.00" width="200" height="4.30" fill="url(#b0_24)"/><rect y="88.00" width="200" height="4.30" fill="url(#b0_25)"/><rect y="92.00" width="200" height="4.30" fill="url(#b0_26)"/><rect y="96.00" width="200" height="4.30" fill="url(#b0_27)"/><rect y="100.00" width="200" height="4.30" fill="url(#b0_28)"/><rect y="104.00" width="200" height="4.30" fill="url(#b0_29)"/><rect y="108.00" width="200" height="4.30" fill="url(#b0_30)"/></g></svg></div>
<svg class="o" width="685" height="302"><polygon points="416.63,69.96 591.58,86.74 626.43,64.30 487.35,53.04" fill="none" stroke="#383838" stroke-width="1.05" stroke-linejoin="round"/></svg>
<svg class="o" width="685" height="302"><line x1="413.70" y1="236.71" x2="410.03" y2="66.92" stroke="#858585" stroke-width="1.0"/><line x1="410.03" y1="66.92" x2="593.65" y2="84.25" stroke="#858585" stroke-width="1.0"/><line x1="579.00" y1="270.86" x2="593.65" y2="84.25" stroke="#858585" stroke-width="1.0"/><line x1="413.70" y1="236.71" x2="579.00" y2="270.86" stroke="#858585" stroke-width="1.0"/><line x1="410.03" y1="66.92" x2="487.27" y2="49.54" stroke="#858585" stroke-width="1.0"/><line x1="487.27" y1="49.54" x2="630.50" y2="60.82" stroke="#858585" stroke-width="1.0"/><line x1="630.50" y1="60.82" x2="593.65" y2="84.25" stroke="#858585" stroke-width="1.0"/><line x1="418.72" y1="64.97" x2="418.77" y2="67.44" stroke="#7a7a7a" stroke-width="0.8"/><line x1="423.58" y1="63.87" x2="423.62" y2="66.31" stroke="#7a7a7a" stroke-width="0.8"/><line x1="428.29" y1="62.81" x2="428.32" y2="65.22" stroke="#7a7a7a" stroke-width="0.8"/><line x1="432.87" y1="61.78" x2="432.90" y2="65.17" stroke="#7a7a7a" stroke-width="0.8"/><line x1="437.30" y1="60.78" x2="437.32" y2="63.12" stroke="#7a7a7a" stroke-width="0.8"/><line x1="441.61" y1="59.81" x2="441.62" y2="62.12" stroke="#7a7a7a" stroke-width="0.8"/><line x1="445.80" y1="58.87" x2="445.81" y2="61.14" stroke="#7a7a7a" stroke-width="0.8"/><line x1="449.87" y1="57.96" x2="449.87" y2="60.20" stroke="#7a7a7a" stroke-width="0.8"/><line x1="453.83" y1="57.06" x2="453.83" y2="60.22" stroke="#7a7a7a" stroke-width="0.8"/><line x1="457.68" y1="56.20" x2="457.67" y2="58.38" stroke="#7a7a7a" stroke-width="0.8"/><line x1="461.43" y1="55.35" x2="461.42" y2="57.51" stroke="#7a7a7a" stroke-width="0.8"/><line x1="465.08" y1="54.53" x2="465.06" y2="56.66" stroke="#7a7a7a" stroke-width="0.8"/><line x1="468.63" y1="53.73" x2="468.61" y2="55.83" stroke="#7a7a7a" stroke-width="0.8"/><line x1="472.09" y1="52.96" x2="472.05" y2="55.92" stroke="#7a7a7a" stroke-width="0.8"/><line x1="475.46" y1="52.20" x2="475.43" y2="54.25" stroke="#7a7a7a" stroke-width="0.8"/><line x1="478.75" y1="51.46" x2="478.72" y2="53.48" stroke="#7a7a7a" stroke-width="0.8"/><line x1="481.95" y1="50.74" x2="481.92" y2="52.73" stroke="#7a7a7a" stroke-width="0.8"/><line x1="413.67" y1="235.42" x2="416.27" y2="235.95" stroke="#7a7a7a" stroke-width="0.8"/><line x1="413.35" y1="220.27" x2="417.71" y2="221.12" stroke="#7a7a7a" stroke-width="0.8"/><line x1="413.01" y1="204.85" x2="415.65" y2="205.34" stroke="#7a7a7a" stroke-width="0.8"/><line x1="412.67" y1="189.14" x2="415.34" y2="189.61" stroke="#7a7a7a" stroke-width="0.8"/><line x1="412.33" y1="173.14" x2="415.02" y2="173.58" stroke="#7a7a7a" stroke-width="0.8"/><line x1="411.98" y1="156.84" x2="416.50" y2="157.54" stroke="#7a7a7a" stroke-width="0.8"/><line x1="411.62" y1="140.24" x2="414.36" y2="140.63" stroke="#7a7a7a" stroke-width="0.8"/><line x1="411.25" y1="123.31" x2="414.01" y2="123.68" stroke="#7a7a7a" stroke-width="0.8"/><line x1="410.88" y1="106.06" x2="413.67" y2="106.40" stroke="#7a7a7a" stroke-width="0.8"/><line x1="410.50" y1="88.48" x2="415.20" y2="88.99" stroke="#7a7a7a" stroke-width="0.8"/><line x1="410.11" y1="70.55" x2="412.95" y2="70.82" stroke="#7a7a7a" stroke-width="0.8"/></svg>
<svg class="o" width="685" height="302"><rect x="297.0" y="55.6" width="12.5" height="180.0" fill="url(#cbg)"/><line x1="309.50" y1="55.60" x2="309.50" y2="235.60" stroke="#a0a0a0" stroke-width="0.8"/><line x1="309.50" y1="56.52" x2="311.70" y2="56.52" stroke="#a0a0a0" stroke-width="0.8"/><line x1="309.50" y1="64.60" x2="312.70" y2="64.60" stroke="#a0a0a0" stroke-width="0.8"/><line x1="309.50" y1="72.68" x2="311.70" y2="72.68" stroke="#a0a0a0" stroke-width="0.8"/><line x1="309.50" y1="80.76" x2="311.70" y2="80.76" stroke="#a0a0a0" stroke-width="0.8"/><line x1="309.50" y1="88.84" x2="311.70" y2="88.84" stroke="#a0a0a0" stroke-width="0.8"/><line x1="309.50" y1="96.92" x2="311.70" y2="96.92" stroke="#a0a0a0" stroke-width="0.8"/><line x1="309.50" y1="105.00" x2="312.70" y2="105.00" stroke="#a0a0a0" stroke-width="0.8"/><line x1="309.50" y1="113.08" x2="311.70" y2="113.08" stroke="#a0a0a0" stroke-width="0.8"/><line x1="309.50" y1="121.16" x2="311.70" y2="121.16" stroke="#a0a0a0" stroke-width="0.8"/><line x1="309.50" y1="129.24" x2="311.70" y2="129.24" stroke="#a0a0a0" stroke-width="0.8"/><line x1="309.50" y1="137.32" x2="311.70" y2="137.32" stroke="#a0a0a0" stroke-width="0.8"/><line x1="309.50" y1="145.40" x2="312.70" y2="145.40" stroke="#a0a0a0" stroke-width="0.8"/><line x1="309.50" y1="153.48" x2="311.70" y2="153.48" stroke="#a0a0a0" stroke-width="0.8"/><line x1="309.50" y1="161.56" x2="311.70" y2="161.56" stroke="#a0a0a0" stroke-width="0.8"/><line x1="309.50" y1="169.64" x2="311.70" y2="169.64" stroke="#a0a0a0" stroke-width="0.8"/><line x1="309.50" y1="177.72" x2="311.70" y2="177.72" stroke="#a0a0a0" stroke-width="0.8"/><line x1="309.50" y1="185.80" x2="312.70" y2="185.80" stroke="#a0a0a0" stroke-width="0.8"/><line x1="309.50" y1="193.88" x2="311.70" y2="193.88" stroke="#a0a0a0" stroke-width="0.8"/><line x1="309.50" y1="201.96" x2="311.70" y2="201.96" stroke="#a0a0a0" stroke-width="0.8"/><line x1="309.50" y1="210.04" x2="311.70" y2="210.04" stroke="#a0a0a0" stroke-width="0.8"/><line x1="309.50" y1="218.12" x2="311.70" y2="218.12" stroke="#a0a0a0" stroke-width="0.8"/><line x1="309.50" y1="226.20" x2="312.70" y2="226.20" stroke="#a0a0a0" stroke-width="0.8"/><line x1="309.50" y1="234.28" x2="311.70" y2="234.28" stroke="#a0a0a0" stroke-width="0.8"/><rect x="642.3" y="67.5" width="12.5" height="180.9" fill="url(#cbg)"/><line x1="654.80" y1="67.50" x2="654.80" y2="248.40" stroke="#a0a0a0" stroke-width="0.8"/><line x1="654.80" y1="76.90" x2="658.00" y2="76.90" stroke="#a0a0a0" stroke-width="0.8"/><line x1="654.80" y1="87.00" x2="657.00" y2="87.00" stroke="#a0a0a0" stroke-width="0.8"/><line x1="654.80" y1="97.10" x2="657.00" y2="97.10" stroke="#a0a0a0" stroke-width="0.8"/><line x1="654.80" y1="107.20" x2="657.00" y2="107.20" stroke="#a0a0a0" stroke-width="0.8"/><line x1="654.80" y1="117.30" x2="658.00" y2="117.30" stroke="#a0a0a0" stroke-width="0.8"/><line x1="654.80" y1="127.40" x2="657.00" y2="127.40" stroke="#a0a0a0" stroke-width="0.8"/><line x1="654.80" y1="137.50" x2="657.00" y2="137.50" stroke="#a0a0a0" stroke-width="0.8"/><line x1="654.80" y1="147.60" x2="657.00" y2="147.60" stroke="#a0a0a0" stroke-width="0.8"/><line x1="654.80" y1="157.70" x2="658.00" y2="157.70" stroke="#a0a0a0" stroke-width="0.8"/><line x1="654.80" y1="167.80" x2="657.00" y2="167.80" stroke="#a0a0a0" stroke-width="0.8"/><line x1="654.80" y1="177.90" x2="657.00" y2="177.90" stroke="#a0a0a0" stroke-width="0.8"/><line x1="654.80" y1="188.00" x2="657.00" y2="188.00" stroke="#a0a0a0" stroke-width="0.8"/><line x1="654.80" y1="198.10" x2="658.00" y2="198.10" stroke="#a0a0a0" stroke-width="0.8"/><line x1="654.80" y1="208.20" x2="657.00" y2="208.20" stroke="#a0a0a0" stroke-width="0.8"/><line x1="654.80" y1="218.30" x2="657.00" y2="218.30" stroke="#a0a0a0" stroke-width="0.8"/><line x1="654.80" y1="228.40" x2="657.00" y2="228.40" stroke="#a0a0a0" stroke-width="0.8"/><line x1="654.80" y1="238.50" x2="658.00" y2="238.50" stroke="#a0a0a0" stroke-width="0.8"/></svg>
<svg class="o" width="685" height="302" font-family="Liberation Sans, sans-serif"><text x="21.80" y="14.54" font-size="16.50" font-weight="bold" fill="#000" textLength="25.33" lengthAdjust="spacingAndGlyphs">(a)</text><text x="159.70" y="18.13" font-size="16.08" font-weight="bold" fill="#000" textLength="85.79" lengthAdjust="spacingAndGlyphs">u<tspan font-size="0.68em" dy="0.3em">r</tspan><tspan dy="-0.3em"> (r, </tspan><tspan font-weight="normal" font-size="1.1em">&#952;</tspan>, z)</text><text x="81.48" y="19.61" font-size="16.00" font-weight="normal" fill="#4d4d4d" stroke="#4d4d4d" stroke-width="0.45" textLength="47.40" lengthAdjust="spacingAndGlyphs">y (<tspan font-style="italic">&#956;</tspan>m)</text><text x="68.86" y="47.74" font-size="15.59" font-weight="normal" fill="#4d4d4d" stroke="#4d4d4d" stroke-width="0.45" textLength="25.47" lengthAdjust="spacingAndGlyphs">&#8722;50</text><text x="97.61" y="43.42" font-size="15.92" font-weight="normal" fill="#4d4d4d" stroke="#4d4d4d" stroke-width="0.45" textLength="9.01" lengthAdjust="spacingAndGlyphs">0</text><text x="112.24" y="39.78" font-size="16.03" font-weight="normal" fill="#4d4d4d" stroke="#4d4d4d" stroke-width="0.45" textLength="17.37" lengthAdjust="spacingAndGlyphs">50</text><text x="41.61" y="84.62" font-size="16.47" font-weight="normal" fill="#4d4d4d" stroke="#4d4d4d" stroke-width="0.45" textLength="17.37" lengthAdjust="spacingAndGlyphs">20</text><text x="2.22" y="155.24" font-size="14.16" font-weight="normal" fill="#4d4d4d" stroke="#4d4d4d" stroke-width="0.45" textLength="56.04" lengthAdjust="spacingAndGlyphs">z (<tspan font-style="italic">&#956;</tspan>m)0</text><text x="30.11" y="223.28" font-size="16.03" font-weight="normal" fill="#4d4d4d" stroke="#4d4d4d" stroke-width="0.45" textLength="28.17" lengthAdjust="spacingAndGlyphs">&#8722;20</text><text x="83.99" y="265.08" font-size="14.59" font-weight="normal" fill="#4d4d4d" stroke="#4d4d4d" stroke-width="0.45" textLength="27.27" lengthAdjust="spacingAndGlyphs">&#8722;50</text><text x="143.36" y="274.90" font-size="14.85" font-weight="normal" fill="#4d4d4d" stroke="#4d4d4d" stroke-width="0.45" textLength="8.29" lengthAdjust="spacingAndGlyphs">0</text><text x="190.22" y="283.72" font-size="15.08" font-weight="normal" fill="#4d4d4d" stroke="#4d4d4d" stroke-width="0.45" textLength="17.55" lengthAdjust="spacingAndGlyphs">50</text><text x="122.84" y="295.55" font-size="14.90" font-weight="normal" fill="#4d4d4d" stroke="#4d4d4d" stroke-width="0.45" textLength="47.22" lengthAdjust="spacingAndGlyphs">x (<tspan font-style="italic">&#956;</tspan>m)</text><text x="319.52" y="66.65" font-size="12.46" font-weight="bold" fill="#000" textLength="25.46" lengthAdjust="spacingAndGlyphs">0.02</text><text x="319.52" y="107.69" font-size="11.07" font-weight="bold" fill="#000" textLength="24.56" lengthAdjust="spacingAndGlyphs">0.01</text><text x="319.87" y="147.66" font-size="10.86" font-weight="bold" fill="#000" textLength="7.24" lengthAdjust="spacingAndGlyphs">0</text><text x="320.04" y="187.43" font-size="10.55" font-weight="bold" fill="#000" textLength="28.02" lengthAdjust="spacingAndGlyphs">-0.01</text><text x="320.04" y="228.65" font-size="10.63" font-weight="bold" fill="#000" textLength="29.10" lengthAdjust="spacingAndGlyphs">-0.02</text><text x="370.68" y="14.00" font-size="17.87" font-weight="bold" fill="#000" textLength="26.33" lengthAdjust="spacingAndGlyphs">(b)</text><text x="496.93" y="18.13" font-size="16.08" font-weight="bold" fill="#000" textLength="87.87" lengthAdjust="spacingAndGlyphs">u<tspan font-size="0.68em" dy="0.3em">z</tspan><tspan dy="-0.3em"> (r, </tspan><tspan font-weight="normal" font-size="1.1em">&#952;</tspan>, z)</text><text x="432.22" y="26.88" font-size="15.80" font-weight="normal" fill="#4d4d4d" stroke="#4d4d4d" stroke-width="0.45" textLength="44.70" lengthAdjust="spacingAndGlyphs">y (<tspan font-style="italic">&#956;</tspan>m)</text><text x="416.85" y="55.96" font-size="13.85" font-weight="normal" fill="#4d4d4d" stroke="#4d4d4d" stroke-width="0.45" textLength="26.37" lengthAdjust="spacingAndGlyphs">&#8722;50</text><text x="449.24" y="51.20" font-size="13.85" font-weight="normal" fill="#4d4d4d" stroke="#4d4d4d" stroke-width="0.45" textLength="7.57" lengthAdjust="spacingAndGlyphs">0</text><text x="464.73" y="47.26" font-size="15.50" font-weight="normal" fill="#4d4d4d" stroke="#4d4d4d" stroke-width="0.45" textLength="17.45" lengthAdjust="spacingAndGlyphs">50</text><text x="390.75" y="92.26" font-size="14.32" font-weight="normal" fill="#4d4d4d" stroke="#4d4d4d" stroke-width="0.45" textLength="16.29" lengthAdjust="spacingAndGlyphs">20</text><text x="354.58" y="157.70" font-size="11.65" font-weight="normal" fill="#4d4d4d" stroke="#4d4d4d" stroke-width="0.45" textLength="53.52" lengthAdjust="spacingAndGlyphs">z (<tspan font-style="italic">&#956;</tspan>m)0</text><text x="384.87" y="221.28" font-size="15.23" font-weight="normal" fill="#4d4d4d" stroke="#4d4d4d" stroke-width="0.45" textLength="24.57" lengthAdjust="spacingAndGlyphs">&#8722;20</text><text x="432.87" y="260.12" font-size="13.65" font-weight="normal" fill="#4d4d4d" stroke="#4d4d4d" stroke-width="0.45" textLength="24.75" lengthAdjust="spacingAndGlyphs">&#8722;50</text><text x="487.37" y="269.65" font-size="13.77" font-weight="normal" fill="#4d4d4d" stroke="#4d4d4d" stroke-width="0.45" textLength="7.57" lengthAdjust="spacingAndGlyphs">0</text><text x="531.24" y="280.17" font-size="13.79" font-weight="normal" fill="#4d4d4d" stroke="#4d4d4d" stroke-width="0.45" textLength="15.93" lengthAdjust="spacingAndGlyphs">50</text><text x="469.22" y="288.46" font-size="11.64" font-weight="normal" fill="#4d4d4d" stroke="#4d4d4d" stroke-width="0.45" textLength="43.08" lengthAdjust="spacingAndGlyphs">x (<tspan font-style="italic">&#956;</tspan>m)</text><text x="662.66" y="78.07" font-size="11.21" font-weight="bold" fill="#000" textLength="17.20" lengthAdjust="spacingAndGlyphs">0.4</text><text x="662.66" y="120.45" font-size="10.05" font-weight="bold" fill="#000" textLength="18.10" lengthAdjust="spacingAndGlyphs">0.2</text><text x="662.40" y="158.62" font-size="11.22" font-weight="bold" fill="#000" textLength="7.07" lengthAdjust="spacingAndGlyphs">0</text><text x="662.40" y="199.27" font-size="9.68" font-weight="bold" fill="#000" textLength="22.46" lengthAdjust="spacingAndGlyphs">-0.2</text><text x="662.40" y="239.91" font-size="9.68" font-weight="bold" fill="#000" textLength="22.46" lengthAdjust="spacingAndGlyphs">-0.4</text></svg>
</body></html>
